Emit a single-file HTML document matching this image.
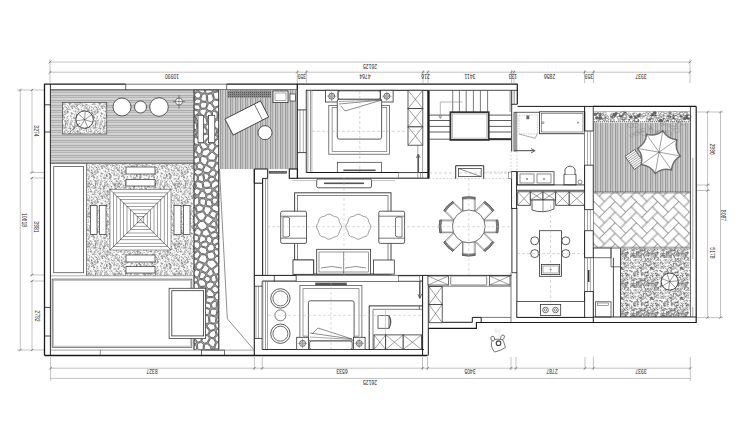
<!DOCTYPE html>
<html><head><meta charset="utf-8"><style>html,body{margin:0;padding:0;background:#fff;width:740px;height:444px;overflow:hidden}svg{display:block}</style></head><body><svg width="740" height="444" viewBox="0 0 740 444" font-family="Liberation Sans, sans-serif"><defs><pattern id="hl" width="4" height="5" patternUnits="userSpaceOnUse"><rect width="4" height="5" fill="#cbcbcb"/><rect y="0" width="4" height="0.8" fill="#a4a4a4"/><rect y="2.2" width="4" height="0.7" fill="#acacac"/><rect y="3.6" width="4" height="0.6" fill="#e4e4e4"/></pattern><pattern id="vl" width="5" height="4" patternUnits="userSpaceOnUse"><rect width="5" height="4" fill="#c2c2c2"/><rect x="0" width="0.9" height="4" fill="#949494"/><rect x="2.3" width="0.8" height="4" fill="#a0a0a0"/><rect x="3.8" width="0.6" height="4" fill="#e6e6e6"/></pattern><pattern id="vl2" width="2.5" height="4" patternUnits="userSpaceOnUse"><rect width="2.5" height="4" fill="#fff"/><rect x="0" width="0.8" height="4" fill="#8a8a8a"/></pattern><pattern id="gr" width="30" height="30" patternUnits="userSpaceOnUse"><rect width="30" height="30" fill="#fbfbfb"/><path d="M9.71,4.53 l-0.33,-0.45 l-0.21,-0.39" stroke="#606060" stroke-width="0.45" fill="none"/><path d="M10.97,1.74 l-0.53,-0.02 l-0.42,0.08" stroke="#606060" stroke-width="0.45" fill="none"/><path d="M2.10,2.72 l-1.03,0.53 l0.24,0.90" stroke="#606060" stroke-width="0.45" fill="none"/><path d="M6.70,18.82 l0.91,-0.31 l0.59,-0.50" stroke="#606060" stroke-width="0.45" fill="none"/><path d="M29.29,1.40 l0.46,-0.57 l-0.33,-0.48" stroke="#606060" stroke-width="0.45" fill="none"/><path d="M3.53,9.25 l0.26,-0.59 l0.33,-0.39" stroke="#606060" stroke-width="0.45" fill="none"/><path d="M19.17,11.17 l-0.53,-0.16 l-0.12,0.42" stroke="#606060" stroke-width="0.45" fill="none"/><path d="M6.18,20.41 l-0.67,0.33 l-0.59,0.09" stroke="#606060" stroke-width="0.45" fill="none"/><path d="M13.60,8.99 l0.29,-1.02 l-0.51,-0.68" stroke="#606060" stroke-width="0.45" fill="none"/><path d="M17.23,15.76 l0.76,-0.77 l0.02,-0.87" stroke="#606060" stroke-width="0.45" fill="none"/><path d="M29.41,3.54 l-0.96,0.55 l0.17,0.87" stroke="#606060" stroke-width="0.45" fill="none"/><path d="M14.67,1.18 l-0.55,-0.97 l-0.22,-0.86" stroke="#606060" stroke-width="0.45" fill="none"/><path d="M26.26,9.41 l-0.33,-0.92 l-0.05,-0.78" stroke="#606060" stroke-width="0.45" fill="none"/><path d="M13.69,25.20 l0.83,-0.30 l0.68,0.17" stroke="#606060" stroke-width="0.45" fill="none"/><path d="M1.82,21.04 l-0.78,-1.03 l0.51,-0.90" stroke="#606060" stroke-width="0.45" fill="none"/><path d="M8.54,11.57 l-0.25,-0.45 l-0.25,-0.33" stroke="#606060" stroke-width="0.45" fill="none"/><path d="M5.04,3.51 l1.04,0.40 l0.51,-0.73" stroke="#606060" stroke-width="0.45" fill="none"/><path d="M7.43,11.73 l0.39,-0.41 l0.25,-0.38" stroke="#606060" stroke-width="0.45" fill="none"/><path d="M16.48,26.50 l0.50,-1.08 l-0.34,-0.89" stroke="#606060" stroke-width="0.45" fill="none"/><path d="M12.46,10.76 l0.94,-0.84 l-0.41,-0.93" stroke="#606060" stroke-width="0.45" fill="none"/><path d="M5.29,6.96 l0.09,0.88 l-0.15,0.69" stroke="#606060" stroke-width="0.45" fill="none"/><path d="M7.88,0.12 l-0.69,0.39 l-0.61,0.17" stroke="#606060" stroke-width="0.45" fill="none"/><path d="M28.59,20.71 l-0.99,-0.09 l-0.59,-0.53" stroke="#606060" stroke-width="0.45" fill="none"/><path d="M1.62,26.99 l0.22,-1.18 l0.91,-0.30" stroke="#606060" stroke-width="0.45" fill="none"/><path d="M11.77,11.97 l0.80,0.61 l0.48,-0.64" stroke="#606060" stroke-width="0.45" fill="none"/><path d="M2.02,6.26 l0.40,0.66 l0.51,-0.34" stroke="#606060" stroke-width="0.45" fill="none"/><path d="M0.01,4.54 l0.64,0.47 l0.30,-0.56" stroke="#606060" stroke-width="0.45" fill="none"/><path d="M26.23,18.42 l0.42,0.56 l0.52,0.21" stroke="#606060" stroke-width="0.45" fill="none"/><path d="M10.92,3.69 l0.75,-1.05 l0.49,-0.91" stroke="#606060" stroke-width="0.45" fill="none"/><path d="M14.52,2.58 l0.62,0.46 l0.61,-0.13" stroke="#606060" stroke-width="0.45" fill="none"/><path d="M24.87,4.84 l1.25,0.18 l0.98,0.25" stroke="#606060" stroke-width="0.45" fill="none"/><path d="M4.40,16.30 l0.91,0.16 l-0.23,0.70" stroke="#606060" stroke-width="0.45" fill="none"/><path d="M25.90,20.89 l-0.05,0.79 l0.57,0.27" stroke="#606060" stroke-width="0.45" fill="none"/><path d="M23.16,15.98 l0.14,-0.75 l-0.45,-0.42" stroke="#606060" stroke-width="0.45" fill="none"/><path d="M24.35,29.55 l0.69,-0.92 l0.89,0.20" stroke="#606060" stroke-width="0.45" fill="none"/><path d="M22.20,6.80 l-0.78,-0.09 l0.01,0.63" stroke="#606060" stroke-width="0.45" fill="none"/><path d="M0.84,8.38 l-0.06,1.05 l-0.84,-0.11" stroke="#606060" stroke-width="0.45" fill="none"/><path d="M13.42,28.11 l1.26,-0.10 l0.85,-0.54" stroke="#606060" stroke-width="0.45" fill="none"/><path d="M6.61,6.81 l0.22,0.63 l-0.06,0.53" stroke="#606060" stroke-width="0.45" fill="none"/><path d="M27.01,25.21 l-1.01,0.13 l-0.48,-0.66" stroke="#606060" stroke-width="0.45" fill="none"/><path d="M2.54,19.82 l0.95,-0.61 l0.85,0.29" stroke="#606060" stroke-width="0.45" fill="none"/><path d="M14.34,5.36 l0.18,-0.74 l0.59,-0.15" stroke="#606060" stroke-width="0.45" fill="none"/><path d="M29.15,11.88 l-1.02,0.73 l-0.99,-0.19" stroke="#606060" stroke-width="0.45" fill="none"/><path d="M5.10,3.81 l0.71,0.99 l-0.45,0.87" stroke="#606060" stroke-width="0.45" fill="none"/><path d="M4.39,24.80 l1.02,-0.13 l0.65,-0.51" stroke="#606060" stroke-width="0.45" fill="none"/><path d="M16.46,3.93 l1.27,0.11 l0.83,0.60" stroke="#606060" stroke-width="0.45" fill="none"/><path d="M15.80,28.01 l-1.09,0.49 l-0.70,-0.66" stroke="#606060" stroke-width="0.45" fill="none"/><path d="M6.33,7.56 l-0.18,0.67 l-0.30,0.46" stroke="#606060" stroke-width="0.45" fill="none"/><path d="M7.78,12.57 l0.83,0.90 l0.94,0.29" stroke="#606060" stroke-width="0.45" fill="none"/><path d="M13.74,17.50 l0.69,-0.48 l0.42,0.52" stroke="#606060" stroke-width="0.45" fill="none"/><path d="M15.05,15.95 l-0.51,-0.07 l-0.41,0.03" stroke="#606060" stroke-width="0.45" fill="none"/><path d="M5.49,0.12 l0.19,-0.61 l0.11,-0.50" stroke="#606060" stroke-width="0.45" fill="none"/><path d="M21.76,16.69 l-0.42,0.81 l-0.46,0.57" stroke="#606060" stroke-width="0.45" fill="none"/><path d="M23.53,3.18 l-0.65,-0.26 l-0.51,0.23" stroke="#606060" stroke-width="0.45" fill="none"/><path d="M23.17,15.23 l-1.03,-0.42 l0.26,-0.85" stroke="#606060" stroke-width="0.45" fill="none"/><path d="M13.30,18.38 l-0.91,-0.03 l-0.54,-0.48" stroke="#606060" stroke-width="0.45" fill="none"/><path d="M13.57,16.00 l-1.24,0.17 l-0.84,-0.55" stroke="#606060" stroke-width="0.45" fill="none"/><path d="M26.30,28.27 l-0.06,0.95 l-0.76,-0.06" stroke="#606060" stroke-width="0.45" fill="none"/><path d="M25.20,4.11 l0.62,0.59 l0.49,-0.48" stroke="#606060" stroke-width="0.45" fill="none"/><path d="M7.22,2.19 l-0.55,-0.98 l0.72,-0.55" stroke="#606060" stroke-width="0.45" fill="none"/><path d="M4.63,21.48 l-0.33,-0.52 l0.36,-0.34" stroke="#606060" stroke-width="0.45" fill="none"/><path d="M29.03,6.59 l0.78,-0.24 l0.62,-0.22" stroke="#606060" stroke-width="0.45" fill="none"/><path d="M29.70,24.97 l0.45,0.72 l0.32,0.59" stroke="#606060" stroke-width="0.45" fill="none"/><path d="M10.17,5.87 l-0.45,0.98 l0.83,0.23" stroke="#606060" stroke-width="0.45" fill="none"/><path d="M16.62,13.21 l0.76,0.09 l0.52,0.33" stroke="#606060" stroke-width="0.45" fill="none"/><path d="M15.37,1.93 l1.13,-0.11 l-0.03,0.90" stroke="#606060" stroke-width="0.45" fill="none"/><path d="M3.14,7.97 l1.09,0.28 l0.75,-0.49" stroke="#606060" stroke-width="0.45" fill="none"/><path d="M3.89,12.67 l0.98,-0.61 l0.13,-0.91" stroke="#606060" stroke-width="0.45" fill="none"/><path d="M4.48,27.58 l-0.96,-0.45 l-0.43,0.73" stroke="#606060" stroke-width="0.45" fill="none"/><path d="M1.73,20.65 l-0.50,0.25 l-0.20,-0.40" stroke="#606060" stroke-width="0.45" fill="none"/><path d="M19.03,24.05 l1.02,0.59 l0.48,-0.81" stroke="#606060" stroke-width="0.45" fill="none"/><path d="M25.88,13.61 l-0.50,0.80 l-0.65,-0.38" stroke="#606060" stroke-width="0.45" fill="none"/><path d="M8.04,3.88 l-0.68,-0.12 l-0.18,0.52" stroke="#606060" stroke-width="0.45" fill="none"/><path d="M4.84,1.51 l0.22,0.72 l0.51,0.32" stroke="#606060" stroke-width="0.45" fill="none"/><path d="M22.78,8.70 l-0.64,0.00 l-0.44,0.27" stroke="#606060" stroke-width="0.45" fill="none"/><path d="M0.54,7.51 l1.08,0.10 l0.84,0.24" stroke="#606060" stroke-width="0.45" fill="none"/><path d="M5.68,14.24 l0.54,-0.24 l0.35,0.31" stroke="#606060" stroke-width="0.45" fill="none"/><path d="M12.97,14.85 l0.41,-0.70 l0.34,-0.55" stroke="#606060" stroke-width="0.45" fill="none"/><path d="M20.63,29.47 l-0.64,0.97 l-0.90,0.23" stroke="#606060" stroke-width="0.45" fill="none"/><path d="M19.08,12.14 l-0.31,0.44 l0.29,0.33" stroke="#606060" stroke-width="0.45" fill="none"/><path d="M2.12,22.23 l-0.02,0.63 l0.50,0.06" stroke="#606060" stroke-width="0.45" fill="none"/><path d="M25.24,26.12 l-0.35,-0.64 l-0.57,-0.08" stroke="#606060" stroke-width="0.45" fill="none"/><path d="M8.79,13.78 l0.47,0.72 l0.68,0.09" stroke="#606060" stroke-width="0.45" fill="none"/><path d="M28.85,29.18 l-0.67,-0.20 l0.22,-0.51" stroke="#606060" stroke-width="0.45" fill="none"/><path d="M9.29,10.70 l0.81,0.01 l0.64,-0.05" stroke="#606060" stroke-width="0.45" fill="none"/><path d="M15.08,6.03 l-0.50,-0.01 l-0.27,0.30" stroke="#606060" stroke-width="0.45" fill="none"/><path d="M2.69,11.99 l0.50,0.13 l0.37,-0.18" stroke="#606060" stroke-width="0.45" fill="none"/><path d="M6.98,17.57 l-1.08,-0.20 l-0.64,-0.60" stroke="#606060" stroke-width="0.45" fill="none"/><path d="M21.48,26.37 l-0.58,0.49 l-0.30,-0.53" stroke="#606060" stroke-width="0.45" fill="none"/><path d="M4.48,21.72 l-0.33,-0.42 l0.22,-0.37" stroke="#606060" stroke-width="0.45" fill="none"/><path d="M26.76,18.82 l-0.12,-1.14 l-0.91,-0.15" stroke="#606060" stroke-width="0.45" fill="none"/><path d="M15.71,15.13 l0.58,-0.99 l0.91,0.12" stroke="#606060" stroke-width="0.45" fill="none"/><path d="M17.52,26.78 l-0.43,-0.96 l-0.83,-0.15" stroke="#606060" stroke-width="0.45" fill="none"/><path d="M0.93,3.99 l-0.37,0.45 l-0.44,-0.15" stroke="#606060" stroke-width="0.45" fill="none"/><path d="M16.76,18.83 l-0.73,-0.74 l-0.61,-0.57" stroke="#606060" stroke-width="0.45" fill="none"/><path d="M0.10,23.93 l-0.01,-0.90 l0.08,-0.72" stroke="#606060" stroke-width="0.45" fill="none"/><path d="M19.78,1.98 l-0.06,-0.70 l-0.56,0.03" stroke="#606060" stroke-width="0.45" fill="none"/><path d="M7.97,21.88 l0.30,1.05 l-0.86,0.12" stroke="#606060" stroke-width="0.45" fill="none"/><path d="M14.82,11.48 l-1.04,0.14 l-0.57,-0.62" stroke="#606060" stroke-width="0.45" fill="none"/><path d="M18.51,19.28 l0.55,0.29 l0.46,-0.19" stroke="#606060" stroke-width="0.45" fill="none"/><path d="M22.30,9.13 l-0.46,-0.21 l-0.16,0.37" stroke="#606060" stroke-width="0.45" fill="none"/><path d="M8.06,20.16 l-0.37,-0.97 l-0.75,-0.36" stroke="#606060" stroke-width="0.45" fill="none"/><path d="M15.50,13.94 l-0.58,0.13 l-0.17,-0.44" stroke="#606060" stroke-width="0.45" fill="none"/><path d="M5.98,29.34 l0.47,-0.20 l0.35,-0.22" stroke="#606060" stroke-width="0.45" fill="none"/><path d="M24.60,29.04 l-0.68,0.22 l-0.12,0.56" stroke="#606060" stroke-width="0.45" fill="none"/><path d="M28.37,6.32 l-0.54,-0.30 l-0.41,-0.28" stroke="#606060" stroke-width="0.45" fill="none"/><path d="M28.58,3.98 l0.39,-0.82 l0.70,0.19" stroke="#606060" stroke-width="0.45" fill="none"/><path d="M21.10,6.94 l0.71,-0.53 l-0.50,-0.50" stroke="#606060" stroke-width="0.45" fill="none"/><path d="M0.11,14.75 l-0.71,0.23 l0.02,0.59" stroke="#606060" stroke-width="0.45" fill="none"/><path d="M10.32,9.48 l0.27,-0.42 l0.40,-0.04" stroke="#606060" stroke-width="0.45" fill="none"/><path d="M25.17,3.60 l0.96,-0.48 l0.48,0.71" stroke="#606060" stroke-width="0.45" fill="none"/><path d="M8.69,11.17 l-1.01,0.81 l-0.98,0.36" stroke="#606060" stroke-width="0.45" fill="none"/><path d="M10.82,12.84 l-0.08,0.53 l0.41,0.12" stroke="#606060" stroke-width="0.45" fill="none"/><path d="M25.04,8.57 l0.64,-0.28 l0.18,-0.53" stroke="#606060" stroke-width="0.45" fill="none"/><path d="M15.33,5.70 l-0.88,0.90 l-0.84,-0.56" stroke="#606060" stroke-width="0.45" fill="none"/><path d="M24.36,18.93 l1.07,-0.65 l0.93,-0.36" stroke="#606060" stroke-width="0.45" fill="none"/><path d="M21.59,1.48 l-0.10,-0.86 l0.49,-0.48" stroke="#606060" stroke-width="0.45" fill="none"/><path d="M19.33,8.59 l1.18,0.38 l0.51,-0.85" stroke="#606060" stroke-width="0.45" fill="none"/><path d="M14.17,10.31 l-0.32,1.04 l-0.79,-0.37" stroke="#606060" stroke-width="0.45" fill="none"/><path d="M7.81,19.68 l-0.30,0.90 l0.05,0.76" stroke="#606060" stroke-width="0.45" fill="none"/><path d="M5.02,4.85 l0.32,1.18 l0.27,0.94" stroke="#606060" stroke-width="0.45" fill="none"/><path d="M6.60,27.19 l0.86,-0.02 l0.17,-0.67" stroke="#606060" stroke-width="0.45" fill="none"/><path d="M5.77,2.72 l-0.31,0.48 l0.16,0.43" stroke="#606060" stroke-width="0.45" fill="none"/><path d="M7.75,17.09 l0.83,-0.72 l0.46,-0.75" stroke="#606060" stroke-width="0.45" fill="none"/><path d="M12.42,15.73 l-0.55,0.54 l0.43,0.44" stroke="#606060" stroke-width="0.45" fill="none"/><path d="M8.33,29.03 l0.64,0.64 l0.22,0.69" stroke="#606060" stroke-width="0.45" fill="none"/><path d="M25.89,6.48 l-0.09,0.69 l0.13,0.54" stroke="#606060" stroke-width="0.45" fill="none"/><path d="M13.38,28.62 l0.69,-0.98 l-0.86,-0.43" stroke="#606060" stroke-width="0.45" fill="none"/><path d="M0.97,21.29 l0.70,-0.54 l0.66,-0.24" stroke="#606060" stroke-width="0.45" fill="none"/><path d="M0.01,11.75 l1.04,-0.52 l0.64,0.68" stroke="#606060" stroke-width="0.45" fill="none"/><path d="M29.17,7.45 l0.48,0.39 l0.36,0.35" stroke="#606060" stroke-width="0.45" fill="none"/><path d="M20.46,28.24 l-0.18,-1.00 l0.57,-0.58" stroke="#606060" stroke-width="0.45" fill="none"/><path d="M13.72,16.55 l1.09,0.28 l0.68,-0.59" stroke="#606060" stroke-width="0.45" fill="none"/><path d="M27.60,19.37 l-0.20,0.57 l0.25,0.41" stroke="#606060" stroke-width="0.45" fill="none"/><path d="M19.09,20.96 l0.42,0.36 l0.31,0.32" stroke="#606060" stroke-width="0.45" fill="none"/><path d="M17.49,11.64 l0.16,0.97 l0.73,-0.28" stroke="#606060" stroke-width="0.45" fill="none"/><path d="M9.05,13.82 l0.98,-0.26 l0.35,0.73" stroke="#606060" stroke-width="0.45" fill="none"/><path d="M14.26,7.04 l0.02,1.27 l-0.67,0.76" stroke="#606060" stroke-width="0.45" fill="none"/><path d="M9.22,0.65 l-1.04,0.01 l-0.79,0.25" stroke="#606060" stroke-width="0.45" fill="none"/><path d="M7.72,20.02 l0.61,-0.31 l-0.30,-0.46" stroke="#606060" stroke-width="0.45" fill="none"/><path d="M10.14,12.62 l-0.27,-0.60 l0.32,-0.42" stroke="#606060" stroke-width="0.45" fill="none"/><path d="M22.17,15.15 l0.36,1.23 l0.84,0.59" stroke="#606060" stroke-width="0.45" fill="none"/><path d="M24.60,6.92 l0.20,1.09 l0.70,0.54" stroke="#606060" stroke-width="0.45" fill="none"/><path d="M28.56,14.87 l0.26,0.63 l0.35,0.42" stroke="#606060" stroke-width="0.45" fill="none"/><path d="M19.96,28.46 l0.49,0.65 l0.65,-0.07" stroke="#606060" stroke-width="0.45" fill="none"/><path d="M29.22,4.26 l0.52,0.18 l0.44,-0.03" stroke="#606060" stroke-width="0.45" fill="none"/><path d="M26.95,26.51 l-0.14,-1.29 l1.03,-0.13" stroke="#606060" stroke-width="0.45" fill="none"/><path d="M9.88,5.57 l1.01,-0.43 l-0.44,-0.76" stroke="#606060" stroke-width="0.45" fill="none"/><path d="M19.93,11.36 l-0.54,0.55 l0.25,0.56" stroke="#606060" stroke-width="0.45" fill="none"/><path d="M0.09,8.39 l-0.75,1.02 l0.67,0.76" stroke="#606060" stroke-width="0.45" fill="none"/><path d="M28.93,6.22 l-0.72,0.91 l-0.90,-0.24" stroke="#606060" stroke-width="0.45" fill="none"/><path d="M12.97,1.48 l-0.79,0.13 l-0.14,-0.62" stroke="#606060" stroke-width="0.45" fill="none"/><path d="M5.79,10.93 l0.42,-0.32 l0.24,-0.35" stroke="#606060" stroke-width="0.45" fill="none"/><path d="M24.35,23.00 l0.51,0.13 l0.11,-0.41" stroke="#606060" stroke-width="0.45" fill="none"/><path d="M27.60,7.71 l-0.02,-1.22 l-0.55,-0.81" stroke="#606060" stroke-width="0.45" fill="none"/><path d="M8.17,28.73 l-0.53,-0.47 l-0.03,-0.57" stroke="#606060" stroke-width="0.45" fill="none"/><path d="M9.49,8.27 l1.10,0.03 l0.04,0.88" stroke="#606060" stroke-width="0.45" fill="none"/><path d="M19.02,28.30 l0.68,0.10 l0.55,0.03" stroke="#606060" stroke-width="0.45" fill="none"/><path d="M28.70,28.62 l-0.53,0.46 l-0.32,0.46" stroke="#606060" stroke-width="0.45" fill="none"/><path d="M14.80,27.84 l0.47,1.04 l-0.39,0.83" stroke="#606060" stroke-width="0.45" fill="none"/><path d="M24.68,23.18 l-0.60,-0.47 l-0.61,-0.01" stroke="#606060" stroke-width="0.45" fill="none"/><path d="M10.86,23.47 l0.58,0.31 l0.09,0.52" stroke="#606060" stroke-width="0.45" fill="none"/><path d="M7.42,1.94 l0.92,0.20 l0.69,-0.30" stroke="#606060" stroke-width="0.45" fill="none"/><path d="M29.41,26.50 l0.71,-0.06 l-0.00,-0.57" stroke="#606060" stroke-width="0.45" fill="none"/><path d="M2.89,14.95 l-0.22,-0.83 l-0.64,-0.24" stroke="#606060" stroke-width="0.45" fill="none"/><path d="M12.51,18.61 l-0.51,-0.97 l0.61,-0.63" stroke="#606060" stroke-width="0.45" fill="none"/><path d="M19.93,3.63 l0.40,-0.62 l0.43,-0.41" stroke="#606060" stroke-width="0.45" fill="none"/><path d="M11.19,22.14 l0.22,0.66 l0.53,0.18" stroke="#606060" stroke-width="0.45" fill="none"/><path d="M4.60,26.53 l-0.67,-0.36 l-0.60,-0.07" stroke="#606060" stroke-width="0.45" fill="none"/><path d="M29.77,15.22 l0.13,1.14 l-0.39,0.83" stroke="#606060" stroke-width="0.45" fill="none"/><path d="M29.73,3.07 l-1.14,0.18 l-0.45,-0.81" stroke="#606060" stroke-width="0.45" fill="none"/><path d="M27.43,1.21 l-0.16,0.57 l0.36,0.32" stroke="#606060" stroke-width="0.45" fill="none"/><path d="M29.19,17.50 l0.72,-0.34 l0.41,0.49" stroke="#606060" stroke-width="0.45" fill="none"/><path d="M13.47,7.80 l0.22,-1.24 l-0.95,-0.32" stroke="#606060" stroke-width="0.45" fill="none"/><path d="M17.88,18.60 l0.16,0.78 l0.63,0.05" stroke="#606060" stroke-width="0.45" fill="none"/><path d="M6.12,7.65 l-0.83,-0.60 l-0.74,0.35" stroke="#606060" stroke-width="0.45" fill="none"/><path d="M0.34,9.82 l-0.28,-0.58 l-0.47,-0.22" stroke="#606060" stroke-width="0.45" fill="none"/><path d="M6.10,23.86 l-0.53,-0.16 l-0.19,0.40" stroke="#606060" stroke-width="0.45" fill="none"/><path d="M11.86,16.50 l-0.37,-0.44 l-0.43,0.15" stroke="#606060" stroke-width="0.45" fill="none"/><path d="M20.86,12.29 l-0.15,0.73 l-0.58,-0.16" stroke="#606060" stroke-width="0.45" fill="none"/><path d="M9.37,17.00 l-0.52,0.65 l-0.61,-0.27" stroke="#606060" stroke-width="0.45" fill="none"/><path d="M29.90,10.91 l0.35,1.02 l0.85,0.15" stroke="#606060" stroke-width="0.45" fill="none"/><path d="M0.18,27.05 l-1.03,0.53 l-0.63,0.68" stroke="#606060" stroke-width="0.45" fill="none"/><path d="M26.49,13.83 l0.27,0.44 l0.15,0.38" stroke="#606060" stroke-width="0.45" fill="none"/><path d="M19.22,27.29 l0.85,0.53 l0.79,0.08" stroke="#606060" stroke-width="0.45" fill="none"/><path d="M15.13,4.38 l-0.19,0.90 l-0.72,-0.12" stroke="#606060" stroke-width="0.45" fill="none"/><path d="M3.26,14.72 l0.43,-1.20 l-0.69,-0.75" stroke="#606060" stroke-width="0.45" fill="none"/><path d="M3.80,28.29 l0.88,-0.14 l-0.14,-0.70" stroke="#606060" stroke-width="0.45" fill="none"/><path d="M27.79,11.64 l0.82,-0.57 l0.67,0.43" stroke="#606060" stroke-width="0.45" fill="none"/><path d="M4.81,23.57 l0.14,0.81 l-0.58,0.32" stroke="#606060" stroke-width="0.45" fill="none"/><path d="M24.88,5.49 l0.16,0.80 l0.09,0.65" stroke="#606060" stroke-width="0.45" fill="none"/><path d="M11.51,3.69 l0.02,1.08 l-0.85,0.14" stroke="#606060" stroke-width="0.45" fill="none"/><path d="M1.23,16.87 l0.02,-0.53 l0.40,-0.13" stroke="#606060" stroke-width="0.45" fill="none"/><path d="M3.53,17.99 l-0.95,-0.31 l-0.74,0.30" stroke="#606060" stroke-width="0.45" fill="none"/><path d="M12.60,17.48 l-0.92,0.46 l-0.65,0.50" stroke="#606060" stroke-width="0.45" fill="none"/><path d="M13.15,0.70 l-0.66,-0.60 l-0.70,0.15" stroke="#606060" stroke-width="0.45" fill="none"/><path d="M22.91,23.40 l-0.62,0.17 l-0.48,0.18" stroke="#606060" stroke-width="0.45" fill="none"/><path d="M3.21,3.85 l-0.52,0.24 l-0.37,0.28" stroke="#606060" stroke-width="0.45" fill="none"/><path d="M15.30,1.22 l-0.37,-0.43 l0.06,-0.45" stroke="#606060" stroke-width="0.45" fill="none"/><path d="M23.33,15.34 l0.85,0.30 l0.72,-0.07" stroke="#606060" stroke-width="0.45" fill="none"/><path d="M28.53,4.09 l0.81,-1.02 l1.04,-0.07" stroke="#606060" stroke-width="0.45" fill="none"/><path d="M24.45,5.81 l0.89,-0.11 l0.03,0.71" stroke="#606060" stroke-width="0.45" fill="none"/><path d="M27.48,4.95 l0.29,-1.21 l-0.97,-0.24" stroke="#606060" stroke-width="0.45" fill="none"/><path d="M10.53,22.69 l0.66,1.02 l0.96,0.18" stroke="#606060" stroke-width="0.45" fill="none"/><path d="M24.47,4.31 l-1.24,-0.02 l-0.50,0.85" stroke="#606060" stroke-width="0.45" fill="none"/><path d="M7.89,15.18 l-0.22,0.48 l0.28,0.32" stroke="#606060" stroke-width="0.45" fill="none"/><path d="M4.84,28.09 l-0.52,-1.10 l-0.97,0.06" stroke="#606060" stroke-width="0.45" fill="none"/><path d="M23.55,3.45 l-0.99,-0.19 l-0.77,0.25" stroke="#606060" stroke-width="0.45" fill="none"/><path d="M26.19,16.66 l-1.06,-0.58 l-0.58,0.77" stroke="#606060" stroke-width="0.45" fill="none"/><path d="M29.79,18.89 l-0.90,0.70 l-0.05,0.91" stroke="#606060" stroke-width="0.45" fill="none"/><path d="M29.71,17.32 l-0.71,0.86 l-0.41,0.79" stroke="#606060" stroke-width="0.45" fill="none"/><path d="M5.30,22.31 l1.10,0.35 l0.77,-0.51" stroke="#606060" stroke-width="0.45" fill="none"/><path d="M19.18,29.52 l-0.89,-0.53 l-0.82,0.11" stroke="#606060" stroke-width="0.45" fill="none"/><path d="M0.05,1.01 l0.59,0.80 l0.61,0.51" stroke="#606060" stroke-width="0.45" fill="none"/><path d="M15.38,26.87 l0.46,0.50 l0.10,0.54" stroke="#606060" stroke-width="0.45" fill="none"/><path d="M0.67,0.08 l-0.36,0.46 l-0.07,0.46" stroke="#606060" stroke-width="0.45" fill="none"/><path d="M6.73,17.51 l-0.56,-0.35 l-0.28,-0.45" stroke="#606060" stroke-width="0.45" fill="none"/><path d="M14.25,4.04 l0.64,-0.27 l-0.05,-0.55" stroke="#606060" stroke-width="0.45" fill="none"/><path d="M2.87,19.15 l0.77,-0.82 l0.36,-0.83" stroke="#606060" stroke-width="0.45" fill="none"/><path d="M7.93,0.34 l-0.58,-0.75 l-0.71,-0.27" stroke="#606060" stroke-width="0.45" fill="none"/><path d="M19.37,13.31 l1.00,-0.42 l0.23,-0.84" stroke="#606060" stroke-width="0.45" fill="none"/><path d="M27.11,1.32 l-0.81,-0.16 l-0.48,0.45" stroke="#606060" stroke-width="0.45" fill="none"/><path d="M1.75,23.37 l0.94,0.07 l-0.07,0.75" stroke="#606060" stroke-width="0.45" fill="none"/><path d="M4.27,5.99 l-0.71,-0.57 l-0.27,-0.67" stroke="#606060" stroke-width="0.45" fill="none"/><path d="M24.40,5.24 l-0.27,0.69 l0.56,0.18" stroke="#606060" stroke-width="0.45" fill="none"/><path d="M26.68,23.49 l-0.11,-0.49 l0.34,-0.21" stroke="#606060" stroke-width="0.45" fill="none"/><path d="M22.36,13.96 l-0.05,-0.86 l-0.59,-0.35" stroke="#606060" stroke-width="0.45" fill="none"/><path d="M3.16,6.97 l0.75,0.19 l0.26,0.56" stroke="#606060" stroke-width="0.45" fill="none"/><path d="M20.85,25.36 l-0.17,-0.69 l-0.03,-0.57" stroke="#606060" stroke-width="0.45" fill="none"/><path d="M13.08,23.65 l-0.70,-0.10 l-0.45,-0.35" stroke="#606060" stroke-width="0.45" fill="none"/><path d="M28.95,6.51 l0.37,-0.35 l-0.02,-0.41" stroke="#606060" stroke-width="0.45" fill="none"/><path d="M7.08,22.32 l1.03,-0.38 l0.49,-0.73" stroke="#606060" stroke-width="0.45" fill="none"/><path d="M26.40,9.86 l0.08,1.22 l-0.38,0.90" stroke="#606060" stroke-width="0.45" fill="none"/><path d="M20.79,19.96 l0.87,-0.12 l0.33,0.62" stroke="#606060" stroke-width="0.45" fill="none"/><path d="M20.93,25.73 l-1.00,0.42 l-0.85,0.12" stroke="#606060" stroke-width="0.45" fill="none"/><path d="M9.23,6.36 l-0.40,-0.39 l0.28,-0.35" stroke="#606060" stroke-width="0.45" fill="none"/><path d="M4.34,0.81 l0.97,0.77 l0.99,0.11" stroke="#606060" stroke-width="0.45" fill="none"/><path d="M4.26,0.86 l1.02,0.27 l0.62,0.57" stroke="#606060" stroke-width="0.45" fill="none"/><path d="M20.91,22.10 l0.89,0.39 l0.78,-0.06" stroke="#606060" stroke-width="0.45" fill="none"/><path d="M24.53,24.59 l0.43,-0.35 l0.36,0.26" stroke="#606060" stroke-width="0.45" fill="none"/><path d="M27.43,28.33 l0.52,0.41 l0.40,-0.35" stroke="#606060" stroke-width="0.45" fill="none"/><path d="M1.03,25.43 l0.38,-0.93 l0.81,-0.01" stroke="#606060" stroke-width="0.45" fill="none"/><path d="M18.95,8.62 l0.47,0.34 l0.01,0.46" stroke="#606060" stroke-width="0.45" fill="none"/><path d="M6.15,9.57 l-0.46,0.24 l-0.09,0.40" stroke="#606060" stroke-width="0.45" fill="none"/><path d="M8.48,21.47 l-0.51,0.56 l-0.40,-0.45" stroke="#606060" stroke-width="0.45" fill="none"/><path d="M15.11,25.54 l-0.39,-0.35 l-0.38,-0.17" stroke="#606060" stroke-width="0.45" fill="none"/><path d="M13.09,23.19 l-0.61,0.87 l-0.58,0.63" stroke="#606060" stroke-width="0.45" fill="none"/><path d="M6.50,25.87 l0.97,0.62 l0.75,-0.53" stroke="#606060" stroke-width="0.45" fill="none"/><path d="M0.04,6.06 l0.09,-1.28 l-1.02,0.14" stroke="#606060" stroke-width="0.45" fill="none"/><path d="M14.72,14.74 l0.19,-0.62 l0.14,-0.50" stroke="#606060" stroke-width="0.45" fill="none"/><path d="M10.42,24.96 l-0.08,1.25 l0.66,0.76" stroke="#606060" stroke-width="0.45" fill="none"/><path d="M6.44,20.98 l-0.59,0.01 l-0.42,-0.22" stroke="#606060" stroke-width="0.45" fill="none"/><path d="M2.43,23.64 l-0.37,-1.07 l0.11,-0.90" stroke="#606060" stroke-width="0.45" fill="none"/><path d="M10.67,12.04 l-0.96,0.75 l0.53,0.81" stroke="#606060" stroke-width="0.45" fill="none"/><path d="M26.65,0.76 l0.19,0.68 l-0.52,0.22" stroke="#606060" stroke-width="0.45" fill="none"/><path d="M15.04,11.38 l0.51,-0.46 l0.35,-0.42" stroke="#606060" stroke-width="0.45" fill="none"/><path d="M15.95,22.63 l0.02,-1.02 l-0.41,-0.70" stroke="#606060" stroke-width="0.45" fill="none"/><path d="M9.80,4.66 l0.57,-0.86 l0.82,-0.10" stroke="#606060" stroke-width="0.45" fill="none"/><path d="M5.09,13.16 l0.14,-0.95 l-0.72,-0.28" stroke="#606060" stroke-width="0.45" fill="none"/><path d="M13.86,26.55 l0.05,0.65 l0.37,0.37" stroke="#606060" stroke-width="0.45" fill="none"/><path d="M21.09,25.31 l0.35,0.52 l0.50,0.03" stroke="#606060" stroke-width="0.45" fill="none"/><path d="M9.80,15.67 l0.41,0.65 l0.61,-0.07" stroke="#606060" stroke-width="0.45" fill="none"/><path d="M29.25,21.86 l1.02,0.76 l0.71,-0.73" stroke="#606060" stroke-width="0.45" fill="none"/><path d="M11.53,29.51 l0.30,-1.04 l0.04,-0.87" stroke="#606060" stroke-width="0.45" fill="none"/><path d="M5.89,19.14 l0.52,0.41 l0.51,0.14" stroke="#606060" stroke-width="0.45" fill="none"/><path d="M1.02,11.97 l0.27,-1.02 l0.21,-0.82" stroke="#606060" stroke-width="0.45" fill="none"/><path d="M18.97,13.90 l0.62,0.76 l0.67,0.41" stroke="#606060" stroke-width="0.45" fill="none"/><path d="M22.23,27.24 l-0.87,0.41 l-0.69,-0.34" stroke="#606060" stroke-width="0.45" fill="none"/><path d="M12.63,6.86 l-0.21,-1.19 l0.70,-0.66" stroke="#606060" stroke-width="0.45" fill="none"/><path d="M21.00,25.57 l-0.44,-0.91 l-0.46,-0.66" stroke="#606060" stroke-width="0.45" fill="none"/><path d="M9.39,18.85 l0.68,0.48 l-0.04,0.67" stroke="#606060" stroke-width="0.45" fill="none"/><path d="M21.39,18.89 l0.00,0.84 l0.11,0.66" stroke="#606060" stroke-width="0.45" fill="none"/><path d="M18.65,12.28 l-0.57,-1.11 l-0.99,0.04" stroke="#606060" stroke-width="0.45" fill="none"/><path d="M19.63,23.35 l-0.68,0.57 l-0.38,-0.60" stroke="#606060" stroke-width="0.45" fill="none"/><path d="M1.14,16.30 l0.60,0.95 l-0.77,0.47" stroke="#606060" stroke-width="0.45" fill="none"/><path d="M15.58,3.03 l-0.83,-0.42 l-0.24,-0.71" stroke="#606060" stroke-width="0.45" fill="none"/><path d="M15.37,19.18 l0.43,-0.81 l0.12,-0.72" stroke="#606060" stroke-width="0.45" fill="none"/><path d="M28.44,6.30 l-0.33,-0.75 l0.33,-0.56" stroke="#606060" stroke-width="0.45" fill="none"/><path d="M3.67,29.53 l-0.34,0.43 l0.07,0.43" stroke="#606060" stroke-width="0.45" fill="none"/><path d="M11.99,0.40 l-0.73,0.41 l-0.66,-0.13" stroke="#606060" stroke-width="0.45" fill="none"/><path d="M10.56,7.95 l0.18,1.08 l-0.86,0.13" stroke="#606060" stroke-width="0.45" fill="none"/><path d="M15.81,6.57 l0.26,-0.77 l-0.43,-0.49" stroke="#606060" stroke-width="0.45" fill="none"/><path d="M3.88,23.30 l0.37,-0.94 l0.21,-0.78" stroke="#606060" stroke-width="0.45" fill="none"/><path d="M16.86,6.78 l0.76,-0.18 l0.60,0.17" stroke="#606060" stroke-width="0.45" fill="none"/><path d="M24.56,24.49 l-0.72,0.15 l-0.59,0.02" stroke="#606060" stroke-width="0.45" fill="none"/><path d="M3.75,25.01 l-0.72,0.93 l0.17,0.93" stroke="#606060" stroke-width="0.45" fill="none"/><path d="M11.28,7.61 l-0.58,0.29 l0.33,0.40" stroke="#606060" stroke-width="0.45" fill="none"/><path d="M21.65,8.44 l0.02,0.74 l0.06,0.59" stroke="#606060" stroke-width="0.45" fill="none"/><path d="M12.85,19.12 l-0.43,-0.66 l0.52,-0.36" stroke="#606060" stroke-width="0.45" fill="none"/><path d="M25.63,1.71 l0.57,-1.08 l0.98,-0.06" stroke="#606060" stroke-width="0.45" fill="none"/><path d="M4.21,24.94 l-0.34,-0.38 l-0.25,0.33" stroke="#606060" stroke-width="0.45" fill="none"/><path d="M28.55,19.68 l0.00,0.58 l0.45,0.13" stroke="#606060" stroke-width="0.45" fill="none"/><path d="M7.01,23.29 l-0.35,0.51 l-0.44,-0.23" stroke="#606060" stroke-width="0.45" fill="none"/><path d="M23.75,5.04 l0.76,-0.63 l0.75,0.25" stroke="#606060" stroke-width="0.45" fill="none"/><path d="M20.05,26.82 l0.27,-1.14 l-0.71,-0.62" stroke="#606060" stroke-width="0.45" fill="none"/><path d="M20.78,15.92 l-0.05,-0.85 l0.66,-0.17" stroke="#606060" stroke-width="0.45" fill="none"/><path d="M16.65,7.93 l0.06,0.61 l0.06,0.49" stroke="#606060" stroke-width="0.45" fill="none"/><path d="M1.75,14.01 l0.55,0.70 l0.44,0.56" stroke="#606060" stroke-width="0.45" fill="none"/><path d="M16.19,25.89 l1.17,0.05 l0.94,-0.07" stroke="#606060" stroke-width="0.45" fill="none"/><path d="M16.88,19.96 l0.43,-0.68 l0.17,-0.62" stroke="#606060" stroke-width="0.45" fill="none"/><path d="M28.82,2.26 l-0.66,-0.76 l-0.54,0.60" stroke="#606060" stroke-width="0.45" fill="none"/><path d="M18.29,20.48 l0.69,-0.32 l0.16,0.59" stroke="#606060" stroke-width="0.45" fill="none"/><path d="M15.32,14.54 l0.42,-0.32 l0.42,0.06" stroke="#606060" stroke-width="0.45" fill="none"/><path d="M18.76,10.16 l0.51,-0.61 l0.36,-0.52" stroke="#606060" stroke-width="0.45" fill="none"/><path d="M15.77,23.12 l0.21,0.82 l0.34,0.59" stroke="#606060" stroke-width="0.45" fill="none"/><path d="M16.62,24.80 l-0.31,1.12 l0.07,0.93" stroke="#606060" stroke-width="0.45" fill="none"/><path d="M15.11,8.15 l-1.28,-0.05 l-0.85,-0.57" stroke="#606060" stroke-width="0.45" fill="none"/><path d="M23.76,9.93 l-0.30,0.67 l-0.40,0.44" stroke="#606060" stroke-width="0.45" fill="none"/><path d="M19.04,23.53 l1.04,0.27 l-0.06,0.86" stroke="#606060" stroke-width="0.45" fill="none"/><path d="M16.36,1.49 l-0.16,0.48 l0.29,0.28" stroke="#606060" stroke-width="0.45" fill="none"/><path d="M27.64,18.26 l-0.62,-0.95 l0.71,-0.57" stroke="#606060" stroke-width="0.45" fill="none"/><path d="M18.35,18.50 l-0.74,-0.75 l-0.35,-0.77" stroke="#606060" stroke-width="0.45" fill="none"/><path d="M20.43,6.38 l-0.43,-0.75 l0.28,-0.63" stroke="#606060" stroke-width="0.45" fill="none"/><path d="M3.04,5.44 l1.09,0.26 l-0.14,0.89" stroke="#606060" stroke-width="0.45" fill="none"/><path d="M19.67,11.07 l0.49,-1.02 l0.57,-0.70" stroke="#606060" stroke-width="0.45" fill="none"/><path d="M7.74,9.06 l-0.66,0.36 l-0.44,0.41" stroke="#606060" stroke-width="0.45" fill="none"/><path d="M19.25,28.02 l0.90,0.32 l0.19,-0.74" stroke="#606060" stroke-width="0.45" fill="none"/><path d="M3.57,24.31 l-1.10,-0.56 l-0.95,-0.27" stroke="#606060" stroke-width="0.45" fill="none"/><path d="M0.42,11.61 l-1.05,-0.68 l0.67,-0.74" stroke="#606060" stroke-width="0.45" fill="none"/><path d="M14.26,12.37 l0.81,0.61 l0.75,-0.31" stroke="#606060" stroke-width="0.45" fill="none"/><path d="M4.55,0.47 l1.05,0.03 l0.20,-0.81" stroke="#606060" stroke-width="0.45" fill="none"/><path d="M28.99,2.64 l0.41,-0.44 l-0.40,-0.27" stroke="#606060" stroke-width="0.45" fill="none"/><path d="M21.58,7.27 l-0.07,-0.65 l-0.51,0.08" stroke="#606060" stroke-width="0.45" fill="none"/><path d="M23.22,21.41 l0.66,-0.86 l-0.64,-0.58" stroke="#606060" stroke-width="0.45" fill="none"/><path d="M18.86,21.28 l-1.21,0.31 l-0.42,0.90" stroke="#606060" stroke-width="0.45" fill="none"/><path d="M28.93,21.52 l0.51,0.04 l0.33,0.24" stroke="#606060" stroke-width="0.45" fill="none"/><path d="M24.52,2.39 l-0.40,1.01 l0.63,0.59" stroke="#606060" stroke-width="0.45" fill="none"/><path d="M25.83,14.59 l0.74,0.29 l0.51,0.38" stroke="#606060" stroke-width="0.45" fill="none"/><path d="M13.16,20.31 l0.70,0.90 l0.83,0.37" stroke="#606060" stroke-width="0.45" fill="none"/><path d="M19.35,18.89 l-0.70,0.40 l-0.56,-0.32" stroke="#606060" stroke-width="0.45" fill="none"/><path d="M28.35,23.54 l-0.67,-0.30 l-0.23,0.54" stroke="#606060" stroke-width="0.45" fill="none"/><path d="M29.22,21.10 l0.36,-0.68 l0.47,-0.40" stroke="#606060" stroke-width="0.45" fill="none"/><path d="M29.32,24.94 l-0.60,-0.44 l-0.56,-0.22" stroke="#606060" stroke-width="0.45" fill="none"/><path d="M26.64,11.30 l-0.39,-0.90 l0.67,-0.41" stroke="#606060" stroke-width="0.45" fill="none"/><path d="M24.22,8.50 l0.71,0.01 l0.55,-0.15" stroke="#606060" stroke-width="0.45" fill="none"/><path d="M17.60,24.48 l0.40,-0.35 l0.38,0.20" stroke="#606060" stroke-width="0.45" fill="none"/><path d="M24.35,26.02 l-0.65,-0.31 l0.08,-0.57" stroke="#606060" stroke-width="0.45" fill="none"/><path d="M24.21,20.54 l0.66,-0.40 l-0.28,-0.56" stroke="#606060" stroke-width="0.45" fill="none"/><path d="M16.61,23.92 l0.34,1.05 l-0.83,0.28" stroke="#606060" stroke-width="0.45" fill="none"/><path d="M7.02,18.21 l-0.38,-0.78 l-0.70,-0.04" stroke="#606060" stroke-width="0.45" fill="none"/><path d="M7.64,22.53 l0.22,-0.84 l-0.65,-0.24" stroke="#606060" stroke-width="0.45" fill="none"/><path d="M24.20,23.16 l0.10,0.96 l-0.75,0.19" stroke="#606060" stroke-width="0.45" fill="none"/><path d="M26.55,15.66 l-0.96,0.14 l-0.23,0.74" stroke="#606060" stroke-width="0.45" fill="none"/><path d="M5.77,5.42 l-0.24,-0.75 l-0.05,-0.63" stroke="#606060" stroke-width="0.45" fill="none"/><path d="M12.07,15.52 l0.32,0.43 l-0.39,0.17" stroke="#606060" stroke-width="0.45" fill="none"/><path d="M11.22,3.18 l-0.76,-0.84 l-0.83,0.36" stroke="#606060" stroke-width="0.45" fill="none"/><path d="M17.92,10.35 l-0.51,-0.06 l-0.01,0.41" stroke="#606060" stroke-width="0.45" fill="none"/><path d="M29.71,25.98 l-0.95,0.08 l-0.45,0.62" stroke="#606060" stroke-width="0.45" fill="none"/><path d="M23.38,12.78 l1.05,-0.37 l0.62,0.64" stroke="#606060" stroke-width="0.45" fill="none"/><path d="M28.90,7.62 l0.64,0.16 l0.32,-0.42" stroke="#606060" stroke-width="0.45" fill="none"/><path d="M2.51,1.53 l-1.12,-0.42 l-0.94,-0.20" stroke="#606060" stroke-width="0.45" fill="none"/><path d="M28.42,27.30 l0.90,0.38 l0.78,0.03" stroke="#606060" stroke-width="0.45" fill="none"/><path d="M3.60,28.78 l-0.04,0.95 l-0.40,0.65" stroke="#606060" stroke-width="0.45" fill="none"/><path d="M28.69,20.09 l-0.67,0.54 l0.22,0.65" stroke="#606060" stroke-width="0.45" fill="none"/><path d="M28.97,29.75 l0.09,0.52 l0.37,0.21" stroke="#606060" stroke-width="0.45" fill="none"/><path d="M10.56,27.08 l0.96,-0.66 l-0.58,-0.74" stroke="#606060" stroke-width="0.45" fill="none"/><path d="M23.59,21.29 l-0.78,-1.02 l-0.80,0.65" stroke="#606060" stroke-width="0.45" fill="none"/><path d="M4.34,22.65 l0.97,-0.39 l0.37,-0.75" stroke="#606060" stroke-width="0.45" fill="none"/><path d="M17.74,22.74 l0.60,0.47 l0.59,-0.13" stroke="#606060" stroke-width="0.45" fill="none"/><path d="M3.72,14.44 l0.34,0.60 l0.54,-0.12" stroke="#606060" stroke-width="0.45" fill="none"/><path d="M20.33,0.38 l-0.14,-0.64 l-0.50,0.16" stroke="#606060" stroke-width="0.45" fill="none"/><path d="M27.83,6.62 l1.09,-0.48 l0.53,0.79" stroke="#606060" stroke-width="0.45" fill="none"/><path d="M4.19,13.42 l1.02,0.71 l-0.27,0.96" stroke="#606060" stroke-width="0.45" fill="none"/><path d="M18.85,13.57 l-0.62,0.98 l-0.43,0.82" stroke="#606060" stroke-width="0.45" fill="none"/><path d="M18.85,4.28 l0.10,0.54 l-0.24,0.36" stroke="#606060" stroke-width="0.45" fill="none"/><path d="M16.60,4.34 l0.49,-0.52 l0.24,-0.52" stroke="#606060" stroke-width="0.45" fill="none"/><path d="M4.67,8.13 l0.41,-0.65 l-0.36,-0.49" stroke="#606060" stroke-width="0.45" fill="none"/><path d="M14.73,9.54 l0.48,-0.34 l0.21,0.42" stroke="#606060" stroke-width="0.45" fill="none"/><path d="M1.71,26.85 l-0.33,-0.58 l-0.30,-0.44" stroke="#606060" stroke-width="0.45" fill="none"/><path d="M8.59,7.73 l0.24,0.75 l-0.63,0.07" stroke="#606060" stroke-width="0.45" fill="none"/><path d="M29.94,27.75 l0.60,0.42 l-0.26,0.52" stroke="#606060" stroke-width="0.45" fill="none"/><path d="M1.72,21.79 l-0.35,1.24 l1.02,0.10" stroke="#606060" stroke-width="0.45" fill="none"/><path d="M24.21,10.23 l0.32,0.39 l-0.19,0.35" stroke="#606060" stroke-width="0.45" fill="none"/><path d="M15.80,5.57 l-1.13,0.49 l-0.15,0.97" stroke="#606060" stroke-width="0.45" fill="none"/><path d="M17.14,4.14 l0.48,1.01 l-0.28,0.85" stroke="#606060" stroke-width="0.45" fill="none"/><path d="M5.90,2.38 l0.84,0.51 l0.68,0.40" stroke="#606060" stroke-width="0.45" fill="none"/><path d="M8.22,6.18 l-0.81,-0.69 l0.22,-0.83" stroke="#606060" stroke-width="0.45" fill="none"/><path d="M17.49,6.07 l1.00,0.44 l0.87,0.07" stroke="#606060" stroke-width="0.45" fill="none"/><path d="M21.65,1.66 l0.28,-0.71 l0.61,0.02" stroke="#606060" stroke-width="0.45" fill="none"/><path d="M25.94,14.79 l1.22,0.12 l0.98,0.01" stroke="#606060" stroke-width="0.45" fill="none"/><path d="M26.16,7.99 l0.46,1.07 l0.72,0.59" stroke="#606060" stroke-width="0.45" fill="none"/><path d="M4.90,11.13 l-0.42,-0.28 l-0.32,-0.25" stroke="#606060" stroke-width="0.45" fill="none"/><path d="M13.37,15.47 l0.78,0.74 l-0.28,0.81" stroke="#606060" stroke-width="0.45" fill="none"/><path d="M25.96,9.63 l-0.20,-0.78 l0.39,-0.51" stroke="#606060" stroke-width="0.45" fill="none"/><path d="M1.84,26.18 l0.86,-0.26 l0.70,-0.17" stroke="#606060" stroke-width="0.45" fill="none"/><path d="M15.92,16.12 l1.26,0.17 l0.66,-0.78" stroke="#606060" stroke-width="0.45" fill="none"/><path d="M5.47,3.08 l-0.00,1.15 l0.92,-0.11" stroke="#606060" stroke-width="0.45" fill="none"/><path d="M2.89,20.97 l0.17,0.48 l-0.01,0.41" stroke="#606060" stroke-width="0.45" fill="none"/><path d="M17.29,15.69 l-0.17,-0.56 l0.40,-0.24" stroke="#606060" stroke-width="0.45" fill="none"/><path d="M21.51,1.36 l0.64,0.62 l0.51,0.50" stroke="#606060" stroke-width="0.45" fill="none"/><path d="M8.39,3.66 l-0.51,0.34 l-0.47,0.13" stroke="#606060" stroke-width="0.45" fill="none"/><path d="M25.83,4.42 l-0.99,-0.48 l-0.64,0.60" stroke="#606060" stroke-width="0.45" fill="none"/><path d="M24.78,28.13 l-0.64,0.54 l-0.58,-0.33" stroke="#606060" stroke-width="0.45" fill="none"/><path d="M15.77,11.87 l1.04,-0.41 l0.52,-0.73" stroke="#606060" stroke-width="0.45" fill="none"/><path d="M7.21,10.05 l-1.18,0.51 l-0.79,-0.65" stroke="#606060" stroke-width="0.45" fill="none"/><path d="M27.38,24.45 l0.31,-0.44 l0.27,-0.34" stroke="#606060" stroke-width="0.45" fill="none"/><path d="M28.74,28.03 l0.00,0.84 l-0.30,0.60" stroke="#606060" stroke-width="0.45" fill="none"/><path d="M10.93,15.92 l0.77,0.36 l0.61,0.30" stroke="#606060" stroke-width="0.45" fill="none"/><path d="M0.62,4.18 l1.10,-0.22 l0.17,0.88" stroke="#606060" stroke-width="0.45" fill="none"/><path d="M19.00,24.28 l0.90,-0.80 l-0.72,-0.65" stroke="#606060" stroke-width="0.45" fill="none"/><path d="M19.25,7.97 l-0.31,-0.65 l-0.17,-0.55" stroke="#606060" stroke-width="0.45" fill="none"/><path d="M27.73,18.64 l-0.00,0.92 l0.17,0.71" stroke="#606060" stroke-width="0.45" fill="none"/><path d="M28.53,8.63 l-0.35,0.96 l0.69,0.43" stroke="#606060" stroke-width="0.45" fill="none"/><path d="M17.83,28.68 l-0.71,-0.06 l-0.57,0.02" stroke="#606060" stroke-width="0.45" fill="none"/><path d="M16.01,4.45 l0.43,0.42 l0.48,0.02" stroke="#606060" stroke-width="0.45" fill="none"/><path d="M12.20,8.65 l0.02,0.57 l-0.06,0.45" stroke="#606060" stroke-width="0.45" fill="none"/><path d="M25.19,18.30 l-0.92,-0.43 l-0.66,0.49" stroke="#606060" stroke-width="0.45" fill="none"/><path d="M21.31,13.83 l-0.95,-0.29 l-0.78,-0.15" stroke="#606060" stroke-width="0.45" fill="none"/><path d="M9.32,7.27 l0.16,0.90 l0.41,0.60" stroke="#606060" stroke-width="0.45" fill="none"/><path d="M17.57,0.36 l-0.71,0.95 l0.28,0.91" stroke="#606060" stroke-width="0.45" fill="none"/><path d="M16.70,14.74 l-0.28,1.26 l0.51,0.90" stroke="#606060" stroke-width="0.45" fill="none"/><path d="M23.16,4.76 l1.09,0.49 l0.94,0.19" stroke="#606060" stroke-width="0.45" fill="none"/><path d="M1.86,11.64 l-1.01,0.40 l0.19,0.85" stroke="#606060" stroke-width="0.45" fill="none"/><path d="M6.76,28.78 l-0.05,-0.62 l-0.31,-0.39" stroke="#606060" stroke-width="0.45" fill="none"/><path d="M10.57,20.26 l-0.88,-0.79 l0.29,-0.90" stroke="#606060" stroke-width="0.45" fill="none"/><path d="M15.53,22.16 l-0.05,-1.11 l-0.12,-0.88" stroke="#606060" stroke-width="0.45" fill="none"/><path d="M23.55,21.26 l0.52,-0.31 l0.34,0.34" stroke="#606060" stroke-width="0.45" fill="none"/><path d="M0.13,22.97 l-0.77,-0.46 l0.42,-0.58" stroke="#606060" stroke-width="0.45" fill="none"/><path d="M17.16,12.54 l0.25,-1.17 l0.54,-0.79" stroke="#606060" stroke-width="0.45" fill="none"/><path d="M11.39,13.57 l-1.04,0.28 l-0.46,0.73" stroke="#606060" stroke-width="0.45" fill="none"/></pattern><pattern id="gr2" width="30" height="30" patternUnits="userSpaceOnUse"><rect width="30" height="30" fill="#fbfbfb"/><path d="M6.80,28.87 l0.87,0.88 l0.76,-0.64" stroke="#555" stroke-width="0.5" fill="none"/><path d="M7.42,29.97 l0.30,1.14 l0.37,0.87" stroke="#555" stroke-width="0.5" fill="none"/><path d="M13.59,14.85 l0.48,1.26 l1.04,-0.29" stroke="#555" stroke-width="0.5" fill="none"/><path d="M7.03,0.60 l-0.10,0.96 l-0.77,0.01" stroke="#555" stroke-width="0.5" fill="none"/><path d="M11.37,3.41 l-0.08,1.49 l1.19,0.06" stroke="#555" stroke-width="0.5" fill="none"/><path d="M18.61,11.32 l-0.48,-0.77 l0.09,-0.72" stroke="#555" stroke-width="0.5" fill="none"/><path d="M14.93,19.49 l0.91,-0.66 l-0.30,-0.85" stroke="#555" stroke-width="0.5" fill="none"/><path d="M1.93,28.38 l-0.77,0.06 l-0.02,-0.62" stroke="#555" stroke-width="0.5" fill="none"/><path d="M17.37,21.87 l0.63,-0.58 l0.21,-0.65" stroke="#555" stroke-width="0.5" fill="none"/><path d="M26.34,4.05 l0.06,-0.69 l0.38,-0.39" stroke="#555" stroke-width="0.5" fill="none"/><path d="M21.06,28.50 l0.58,-0.88 l-0.41,-0.74" stroke="#555" stroke-width="0.5" fill="none"/><path d="M4.50,15.86 l-0.66,-0.04 l-0.03,-0.53" stroke="#555" stroke-width="0.5" fill="none"/><path d="M15.22,21.04 l0.15,0.80 l0.61,-0.24" stroke="#555" stroke-width="0.5" fill="none"/><path d="M10.30,8.01 l-0.83,0.44 l-0.56,-0.50" stroke="#555" stroke-width="0.5" fill="none"/><path d="M26.74,5.26 l-0.60,0.46 l-0.60,0.04" stroke="#555" stroke-width="0.5" fill="none"/><path d="M29.25,6.05 l0.09,-0.87 l-0.69,0.06" stroke="#555" stroke-width="0.5" fill="none"/><path d="M22.93,10.25 l0.48,0.87 l0.79,0.08" stroke="#555" stroke-width="0.5" fill="none"/><path d="M12.30,13.38 l-0.98,0.56 l-0.26,0.87" stroke="#555" stroke-width="0.5" fill="none"/><path d="M2.85,2.56 l0.84,0.66 l0.84,0.14" stroke="#555" stroke-width="0.5" fill="none"/><path d="M24.23,15.15 l-0.39,-1.43 l-1.14,0.31" stroke="#555" stroke-width="0.5" fill="none"/><path d="M0.51,4.21 l-0.84,0.73 l-0.88,-0.14" stroke="#555" stroke-width="0.5" fill="none"/><path d="M10.54,28.95 l1.35,0.02 l0.56,-0.92" stroke="#555" stroke-width="0.5" fill="none"/><path d="M26.26,0.99 l1.25,-0.28 l0.03,1.03" stroke="#555" stroke-width="0.5" fill="none"/><path d="M17.40,5.33 l0.98,-0.19 l-0.10,-0.79" stroke="#555" stroke-width="0.5" fill="none"/><path d="M18.16,14.92 l-0.73,0.13 l-0.02,0.59" stroke="#555" stroke-width="0.5" fill="none"/><path d="M17.42,13.58 l0.70,0.71 l-0.03,0.80" stroke="#555" stroke-width="0.5" fill="none"/><path d="M21.46,14.14 l-0.73,0.57 l0.06,0.74" stroke="#555" stroke-width="0.5" fill="none"/><path d="M5.93,13.39 l0.97,0.79 l0.14,0.99" stroke="#555" stroke-width="0.5" fill="none"/><path d="M18.35,0.68 l-0.65,0.75 l0.54,0.58" stroke="#555" stroke-width="0.5" fill="none"/><path d="M29.03,22.67 l-1.23,-0.02 l-0.48,0.86" stroke="#555" stroke-width="0.5" fill="none"/><path d="M6.88,15.77 l-0.05,-1.18 l-0.92,0.23" stroke="#555" stroke-width="0.5" fill="none"/><path d="M18.40,27.27 l-0.06,-1.43 l1.14,0.14" stroke="#555" stroke-width="0.5" fill="none"/><path d="M6.71,8.89 l-1.41,-0.43 l-1.17,0.21" stroke="#555" stroke-width="0.5" fill="none"/><path d="M28.24,25.51 l-1.16,-0.12 l0.16,-0.92" stroke="#555" stroke-width="0.5" fill="none"/><path d="M23.50,8.87 l0.44,-0.64 l0.08,-0.62" stroke="#555" stroke-width="0.5" fill="none"/><path d="M28.76,25.41 l-0.33,0.80 l-0.49,0.48" stroke="#555" stroke-width="0.5" fill="none"/><path d="M25.28,20.53 l1.15,-0.49 l0.73,0.68" stroke="#555" stroke-width="0.5" fill="none"/><path d="M18.15,10.87 l-0.93,0.46 l-0.78,0.29" stroke="#555" stroke-width="0.5" fill="none"/><path d="M25.15,8.07 l1.14,0.53 l0.93,-0.39" stroke="#555" stroke-width="0.5" fill="none"/><path d="M12.59,3.51 l0.40,-0.74 l-0.17,-0.66" stroke="#555" stroke-width="0.5" fill="none"/><path d="M24.13,15.13 l-0.24,1.38 l0.16,1.11" stroke="#555" stroke-width="0.5" fill="none"/><path d="M10.84,28.96 l0.31,-1.23 l-0.62,-0.81" stroke="#555" stroke-width="0.5" fill="none"/><path d="M24.40,17.90 l0.45,-0.82 l0.74,-0.05" stroke="#555" stroke-width="0.5" fill="none"/><path d="M23.80,11.64 l-0.74,-1.07 l0.96,-0.40" stroke="#555" stroke-width="0.5" fill="none"/><path d="M27.61,23.59 l0.75,0.87 l0.04,0.92" stroke="#555" stroke-width="0.5" fill="none"/><path d="M2.61,13.88 l0.96,-1.04 l0.86,0.73" stroke="#555" stroke-width="0.5" fill="none"/><path d="M2.78,18.21 l0.78,-0.89 l0.07,-0.95" stroke="#555" stroke-width="0.5" fill="none"/><path d="M1.16,27.59 l0.75,-0.92 l0.19,-0.93" stroke="#555" stroke-width="0.5" fill="none"/><path d="M24.85,24.44 l-0.18,-1.12 l-0.66,-0.63" stroke="#555" stroke-width="0.5" fill="none"/><path d="M8.90,10.72 l-0.49,0.95 l0.67,0.53" stroke="#555" stroke-width="0.5" fill="none"/><path d="M21.64,10.44 l0.45,0.70 l0.55,0.38" stroke="#555" stroke-width="0.5" fill="none"/><path d="M12.94,23.47 l0.65,0.47 l0.64,-0.08" stroke="#555" stroke-width="0.5" fill="none"/><path d="M5.30,22.48 l0.50,0.41 l0.33,0.40" stroke="#555" stroke-width="0.5" fill="none"/><path d="M22.09,24.75 l-0.83,-0.32 l0.13,-0.70" stroke="#555" stroke-width="0.5" fill="none"/><path d="M22.08,14.37 l-1.33,-0.55 l0.66,-0.94" stroke="#555" stroke-width="0.5" fill="none"/><path d="M27.94,3.98 l-0.45,0.86 l0.50,0.59" stroke="#555" stroke-width="0.5" fill="none"/><path d="M22.86,1.83 l0.85,-0.73 l0.86,-0.27" stroke="#555" stroke-width="0.5" fill="none"/><path d="M12.44,28.10 l-1.24,-0.66 l0.48,-1.02" stroke="#555" stroke-width="0.5" fill="none"/><path d="M20.76,29.50 l-0.93,0.06 l-0.29,-0.69" stroke="#555" stroke-width="0.5" fill="none"/><path d="M15.84,9.26 l-0.44,-0.93 l-0.80,0.17" stroke="#555" stroke-width="0.5" fill="none"/><path d="M25.14,15.00 l1.06,-0.20 l0.15,0.85" stroke="#555" stroke-width="0.5" fill="none"/><path d="M8.67,6.52 l-1.27,-0.21 l-0.24,-1.00" stroke="#555" stroke-width="0.5" fill="none"/><path d="M19.42,3.73 l-0.50,0.39 l-0.22,0.46" stroke="#555" stroke-width="0.5" fill="none"/><path d="M28.34,10.41 l-0.37,-1.10 l-0.93,0.03" stroke="#555" stroke-width="0.5" fill="none"/><path d="M20.65,2.39 l0.45,1.03 l0.88,-0.16" stroke="#555" stroke-width="0.5" fill="none"/><path d="M28.93,12.77 l-1.01,-1.07 l-0.97,0.66" stroke="#555" stroke-width="0.5" fill="none"/><path d="M29.97,1.19 l-0.96,-0.71 l0.69,-0.65" stroke="#555" stroke-width="0.5" fill="none"/><path d="M10.74,28.40 l-0.61,-0.83 l-0.80,0.20" stroke="#555" stroke-width="0.5" fill="none"/><path d="M7.07,10.96 l-0.53,0.77 l-0.74,-0.11" stroke="#555" stroke-width="0.5" fill="none"/><path d="M11.25,18.86 l0.71,0.17 l0.32,0.49" stroke="#555" stroke-width="0.5" fill="none"/><path d="M26.72,9.39 l0.79,0.16 l0.62,-0.19" stroke="#555" stroke-width="0.5" fill="none"/><path d="M10.99,16.84 l-0.38,1.12 l-0.92,0.20" stroke="#555" stroke-width="0.5" fill="none"/><path d="M23.50,22.24 l-0.72,-0.42 l0.12,-0.66" stroke="#555" stroke-width="0.5" fill="none"/><path d="M8.69,25.80 l-1.10,0.38 l-0.88,0.31" stroke="#555" stroke-width="0.5" fill="none"/><path d="M19.62,10.23 l-1.11,-0.60 l-1.01,0.01" stroke="#555" stroke-width="0.5" fill="none"/><path d="M18.01,13.69 l-0.93,0.18 l-0.76,0.02" stroke="#555" stroke-width="0.5" fill="none"/><path d="M21.28,5.21 l0.81,1.06 l0.91,-0.57" stroke="#555" stroke-width="0.5" fill="none"/><path d="M23.79,22.77 l0.24,1.15 l0.83,0.43" stroke="#555" stroke-width="0.5" fill="none"/><path d="M26.45,5.92 l0.47,0.42 l0.03,0.51" stroke="#555" stroke-width="0.5" fill="none"/><path d="M6.35,9.43 l1.25,-0.19 l0.77,0.66" stroke="#555" stroke-width="0.5" fill="none"/><path d="M17.28,19.22 l1.33,0.09 l0.91,-0.55" stroke="#555" stroke-width="0.5" fill="none"/><path d="M25.64,12.44 l0.51,-0.32 l0.19,0.44" stroke="#555" stroke-width="0.5" fill="none"/><path d="M2.88,15.33 l-1.48,0.17 l-0.94,-0.73" stroke="#555" stroke-width="0.5" fill="none"/><path d="M29.46,27.17 l-0.65,0.33 l0.10,0.58" stroke="#555" stroke-width="0.5" fill="none"/><path d="M21.28,28.54 l-0.47,-0.78 l-0.13,-0.72" stroke="#555" stroke-width="0.5" fill="none"/><path d="M19.71,7.59 l-0.27,-0.73 l-0.55,0.29" stroke="#555" stroke-width="0.5" fill="none"/><path d="M1.93,14.65 l-0.27,-0.76 l-0.42,-0.49" stroke="#555" stroke-width="0.5" fill="none"/><path d="M20.79,7.89 l-1.13,-0.16 l-0.90,0.18" stroke="#555" stroke-width="0.5" fill="none"/><path d="M6.25,20.78 l-0.23,-0.73 l0.44,-0.43" stroke="#555" stroke-width="0.5" fill="none"/><path d="M19.66,25.99 l0.19,-1.03 l0.69,-0.48" stroke="#555" stroke-width="0.5" fill="none"/><path d="M9.43,19.61 l0.79,0.45 l0.63,0.37" stroke="#555" stroke-width="0.5" fill="none"/><path d="M26.57,20.52 l1.16,-0.75 l0.48,1.00" stroke="#555" stroke-width="0.5" fill="none"/><path d="M18.53,18.50 l-0.78,0.16 l-0.41,-0.49" stroke="#555" stroke-width="0.5" fill="none"/><path d="M18.31,4.85 l0.05,0.80 l-0.43,0.47" stroke="#555" stroke-width="0.5" fill="none"/><path d="M17.92,6.03 l-0.43,-1.02 l-0.84,-0.29" stroke="#555" stroke-width="0.5" fill="none"/><path d="M13.34,29.78 l0.51,0.63 l0.22,0.61" stroke="#555" stroke-width="0.5" fill="none"/><path d="M25.20,27.65 l-1.04,0.77 l0.44,0.94" stroke="#555" stroke-width="0.5" fill="none"/><path d="M11.58,25.71 l-0.51,-0.86 l-0.14,-0.79" stroke="#555" stroke-width="0.5" fill="none"/><path d="M14.62,16.44 l1.10,-0.99 l-0.28,-1.15" stroke="#555" stroke-width="0.5" fill="none"/><path d="M22.65,28.34 l-0.82,-0.65 l-0.82,-0.18" stroke="#555" stroke-width="0.5" fill="none"/><path d="M14.52,17.42 l-0.54,-0.45 l0.45,-0.34" stroke="#555" stroke-width="0.5" fill="none"/><path d="M8.28,16.43 l0.37,1.11 l0.90,-0.26" stroke="#555" stroke-width="0.5" fill="none"/><path d="M10.06,11.54 l-0.40,0.96 l0.62,0.56" stroke="#555" stroke-width="0.5" fill="none"/><path d="M14.72,23.87 l-1.02,-1.06 l0.89,-0.77" stroke="#555" stroke-width="0.5" fill="none"/><path d="M14.33,14.04 l0.11,-1.39 l0.25,-1.09" stroke="#555" stroke-width="0.5" fill="none"/><path d="M20.02,20.72 l-1.05,-0.09 l-0.82,0.23" stroke="#555" stroke-width="0.5" fill="none"/><path d="M13.46,14.22 l0.24,-0.70 l-0.52,-0.30" stroke="#555" stroke-width="0.5" fill="none"/><path d="M27.70,15.31 l-0.47,-1.34 l0.56,-0.99" stroke="#555" stroke-width="0.5" fill="none"/><path d="M16.99,28.56 l-0.71,-0.70 l-0.75,0.29" stroke="#555" stroke-width="0.5" fill="none"/><path d="M4.78,23.77 l0.73,-0.56 l0.63,-0.38" stroke="#555" stroke-width="0.5" fill="none"/><path d="M20.36,18.20 l-0.22,1.40 l-0.38,1.07" stroke="#555" stroke-width="0.5" fill="none"/><path d="M21.43,20.65 l-1.14,0.47 l-0.06,0.98" stroke="#555" stroke-width="0.5" fill="none"/><path d="M16.44,19.55 l-0.59,-0.63 l-0.65,0.23" stroke="#555" stroke-width="0.5" fill="none"/><path d="M3.04,3.71 l0.42,0.95 l0.14,0.82" stroke="#555" stroke-width="0.5" fill="none"/><path d="M21.18,13.14 l0.07,-0.62 l-0.21,-0.45" stroke="#555" stroke-width="0.5" fill="none"/><path d="M3.58,15.49 l-1.01,-0.49 l-0.87,-0.22" stroke="#555" stroke-width="0.5" fill="none"/><path d="M11.04,9.86 l0.61,0.48 l0.50,0.36" stroke="#555" stroke-width="0.5" fill="none"/><path d="M17.03,3.01 l0.35,-0.52 l-0.34,-0.37" stroke="#555" stroke-width="0.5" fill="none"/><path d="M13.44,9.99 l-1.21,-0.15 l-0.87,-0.44" stroke="#555" stroke-width="0.5" fill="none"/><path d="M23.55,14.10 l-0.44,-0.87 l-0.76,0.19" stroke="#555" stroke-width="0.5" fill="none"/><path d="M2.23,5.46 l-0.80,0.29 l-0.67,0.09" stroke="#555" stroke-width="0.5" fill="none"/><path d="M20.02,27.58 l0.86,1.18 l0.77,-0.88" stroke="#555" stroke-width="0.5" fill="none"/><path d="M26.68,29.54 l-0.87,0.99 l-0.71,0.78" stroke="#555" stroke-width="0.5" fill="none"/><path d="M16.86,25.72 l0.81,-0.31 l0.13,-0.68" stroke="#555" stroke-width="0.5" fill="none"/><path d="M27.49,17.76 l0.65,-0.46 l0.51,0.38" stroke="#555" stroke-width="0.5" fill="none"/><path d="M4.78,4.40 l-0.34,1.39 l0.19,1.13" stroke="#555" stroke-width="0.5" fill="none"/><path d="M13.21,8.67 l0.89,0.45 l0.72,0.35" stroke="#555" stroke-width="0.5" fill="none"/><path d="M10.04,21.92 l-0.54,1.38 l-1.14,-0.32" stroke="#555" stroke-width="0.5" fill="none"/><path d="M17.37,3.05 l-1.08,-0.42 l-0.57,-0.73" stroke="#555" stroke-width="0.5" fill="none"/><path d="M12.76,21.75 l1.23,-0.03 l-0.10,-0.98" stroke="#555" stroke-width="0.5" fill="none"/><path d="M18.84,18.70 l-1.39,-0.40 l-0.28,1.12" stroke="#555" stroke-width="0.5" fill="none"/><path d="M0.52,21.67 l0.58,0.43 l-0.12,0.57" stroke="#555" stroke-width="0.5" fill="none"/><path d="M10.85,26.50 l0.37,-1.14 l-0.18,-0.94" stroke="#555" stroke-width="0.5" fill="none"/><path d="M2.48,29.28 l0.98,-1.04 l0.81,-0.80" stroke="#555" stroke-width="0.5" fill="none"/><path d="M8.43,18.83 l-0.67,0.38 l0.20,0.58" stroke="#555" stroke-width="0.5" fill="none"/><path d="M12.24,4.45 l-0.17,1.47 l-1.18,-0.12" stroke="#555" stroke-width="0.5" fill="none"/><path d="M26.57,15.37 l0.06,-0.75 l0.29,-0.52" stroke="#555" stroke-width="0.5" fill="none"/><path d="M29.23,23.72 l1.16,-0.10 l0.65,-0.67" stroke="#555" stroke-width="0.5" fill="none"/><path d="M0.62,8.12 l0.51,-0.95 l0.69,-0.51" stroke="#555" stroke-width="0.5" fill="none"/><path d="M24.08,8.86 l0.89,1.08 l0.36,1.06" stroke="#555" stroke-width="0.5" fill="none"/><path d="M0.81,20.90 l-0.23,-1.26 l-1.03,-0.06" stroke="#555" stroke-width="0.5" fill="none"/><path d="M8.20,21.70 l-0.44,-0.80 l0.67,-0.28" stroke="#555" stroke-width="0.5" fill="none"/><path d="M9.07,26.73 l0.67,0.76 l-0.70,0.40" stroke="#555" stroke-width="0.5" fill="none"/><path d="M20.83,22.71 l0.86,-0.78 l0.78,-0.50" stroke="#555" stroke-width="0.5" fill="none"/><path d="M24.75,15.94 l1.24,-0.34 l-0.49,-0.91" stroke="#555" stroke-width="0.5" fill="none"/><path d="M8.63,26.55 l0.45,0.41 l0.25,0.42" stroke="#555" stroke-width="0.5" fill="none"/><path d="M20.81,29.42 l1.13,-0.27 l0.83,0.43" stroke="#555" stroke-width="0.5" fill="none"/><path d="M15.92,25.49 l-0.26,-0.67 l0.05,-0.57" stroke="#555" stroke-width="0.5" fill="none"/><path d="M1.51,10.06 l-0.71,1.24 l0.53,1.01" stroke="#555" stroke-width="0.5" fill="none"/><path d="M11.29,16.94 l0.28,0.97 l0.68,0.43" stroke="#555" stroke-width="0.5" fill="none"/><path d="M21.65,23.81 l-1.20,-0.68 l-0.98,-0.51" stroke="#555" stroke-width="0.5" fill="none"/><path d="M22.41,2.84 l-0.68,0.58 l-0.55,-0.45" stroke="#555" stroke-width="0.5" fill="none"/><path d="M14.94,11.29 l-0.73,-1.26 l0.72,-0.92" stroke="#555" stroke-width="0.5" fill="none"/><path d="M24.11,19.98 l0.36,-1.04 l-0.06,-0.88" stroke="#555" stroke-width="0.5" fill="none"/><path d="M9.51,7.89 l-0.55,0.90 l-0.81,-0.23" stroke="#555" stroke-width="0.5" fill="none"/><path d="M7.09,11.75 l-0.07,1.03 l0.83,0.05" stroke="#555" stroke-width="0.5" fill="none"/><path d="M18.69,25.75 l0.78,-0.49 l-0.13,-0.73" stroke="#555" stroke-width="0.5" fill="none"/><path d="M21.92,22.66 l0.24,0.61 l-0.12,0.51" stroke="#555" stroke-width="0.5" fill="none"/><path d="M11.39,15.67 l-1.28,-0.55 l-0.66,0.90" stroke="#555" stroke-width="0.5" fill="none"/><path d="M7.79,1.03 l-0.25,-0.62 l0.42,-0.34" stroke="#555" stroke-width="0.5" fill="none"/><path d="M18.30,15.36 l-0.15,1.37 l1.06,0.32" stroke="#555" stroke-width="0.5" fill="none"/><path d="M17.42,24.90 l-0.35,-0.54 l-0.47,0.21" stroke="#555" stroke-width="0.5" fill="none"/><path d="M8.57,21.92 l0.95,1.11 l-0.73,0.91" stroke="#555" stroke-width="0.5" fill="none"/><path d="M17.16,26.31 l-0.49,-0.56 l-0.52,-0.29" stroke="#555" stroke-width="0.5" fill="none"/><path d="M0.72,13.15 l0.96,-0.07 l0.67,0.38" stroke="#555" stroke-width="0.5" fill="none"/><path d="M10.79,20.24 l-0.72,1.22 l-0.24,1.11" stroke="#555" stroke-width="0.5" fill="none"/><path d="M8.07,12.88 l0.80,0.41 l0.17,0.70" stroke="#555" stroke-width="0.5" fill="none"/><path d="M12.13,13.41 l0.13,1.34 l-1.03,0.30" stroke="#555" stroke-width="0.5" fill="none"/><path d="M12.27,0.06 l-1.25,0.61 l-1.11,-0.10" stroke="#555" stroke-width="0.5" fill="none"/><path d="M6.84,3.16 l0.51,-0.44 l0.51,-0.16" stroke="#555" stroke-width="0.5" fill="none"/><path d="M17.87,5.47 l-1.28,0.50 l-0.16,-1.09" stroke="#555" stroke-width="0.5" fill="none"/><path d="M2.25,0.93 l-0.04,0.64 l-0.52,-0.02" stroke="#555" stroke-width="0.5" fill="none"/><path d="M2.41,11.02 l0.63,-0.80 l-0.23,-0.78" stroke="#555" stroke-width="0.5" fill="none"/><path d="M1.87,6.80 l-0.50,1.27 l-0.15,1.08" stroke="#555" stroke-width="0.5" fill="none"/><path d="M16.58,7.88 l-1.20,0.79 l0.44,1.06" stroke="#555" stroke-width="0.5" fill="none"/><path d="M21.03,9.40 l-1.09,0.62 l-0.49,0.87" stroke="#555" stroke-width="0.5" fill="none"/><path d="M14.67,14.63 l-0.66,0.07 l-0.47,0.25" stroke="#555" stroke-width="0.5" fill="none"/><path d="M11.40,12.59 l-0.23,0.98 l-0.71,0.37" stroke="#555" stroke-width="0.5" fill="none"/><path d="M2.21,2.26 l-1.09,-0.24 l-0.24,-0.86" stroke="#555" stroke-width="0.5" fill="none"/><path d="M0.98,0.29 l-0.62,-0.50 l-0.51,-0.39" stroke="#555" stroke-width="0.5" fill="none"/><path d="M8.82,2.62 l-0.82,-0.33 l-0.67,-0.23" stroke="#555" stroke-width="0.5" fill="none"/><path d="M26.07,13.50 l0.47,-0.72 l-0.37,-0.58" stroke="#555" stroke-width="0.5" fill="none"/><path d="M12.08,8.93 l-0.10,-0.70 l0.35,-0.45" stroke="#555" stroke-width="0.5" fill="none"/><path d="M6.59,12.25 l0.16,0.71 l0.58,0.03" stroke="#555" stroke-width="0.5" fill="none"/><path d="M29.58,2.98 l0.90,-0.47 l0.51,0.63" stroke="#555" stroke-width="0.5" fill="none"/><path d="M5.38,17.52 l-0.36,-0.80 l-0.01,-0.70" stroke="#555" stroke-width="0.5" fill="none"/><path d="M27.10,12.49 l1.13,0.21 l0.34,0.85" stroke="#555" stroke-width="0.5" fill="none"/><path d="M13.64,25.18 l-0.62,0.79 l-0.33,0.74" stroke="#555" stroke-width="0.5" fill="none"/><path d="M2.83,2.14 l-0.91,-1.06 l-1.08,0.30" stroke="#555" stroke-width="0.5" fill="none"/><path d="M27.14,9.78 l-0.55,0.32 l0.34,0.38" stroke="#555" stroke-width="0.5" fill="none"/><path d="M17.27,26.53 l-0.47,-0.54 l-0.08,-0.57" stroke="#555" stroke-width="0.5" fill="none"/><path d="M3.90,14.10 l-0.00,-0.95 l-0.46,-0.60" stroke="#555" stroke-width="0.5" fill="none"/><path d="M9.61,8.72 l1.25,0.12 l0.96,-0.29" stroke="#555" stroke-width="0.5" fill="none"/><path d="M5.61,9.33 l0.99,0.26 l0.69,0.43" stroke="#555" stroke-width="0.5" fill="none"/><path d="M18.63,13.34 l0.73,-0.05 l0.23,-0.54" stroke="#555" stroke-width="0.5" fill="none"/><path d="M16.84,12.37 l-0.41,1.18 l-0.38,0.93" stroke="#555" stroke-width="0.5" fill="none"/><path d="M16.98,20.75 l-0.93,0.50 l-0.26,-0.81" stroke="#555" stroke-width="0.5" fill="none"/><path d="M4.85,13.95 l-0.98,-0.83 l-0.74,0.72" stroke="#555" stroke-width="0.5" fill="none"/><path d="M3.46,8.02 l-0.39,-0.68 l-0.51,0.37" stroke="#555" stroke-width="0.5" fill="none"/><path d="M12.58,4.63 l-0.56,-1.34 l0.57,-1.01" stroke="#555" stroke-width="0.5" fill="none"/><path d="M17.06,12.21 l0.98,0.16 l0.77,0.19" stroke="#555" stroke-width="0.5" fill="none"/><path d="M9.02,12.24 l0.87,-0.33 l0.26,-0.70" stroke="#555" stroke-width="0.5" fill="none"/><path d="M13.24,28.05 l0.98,0.27 l-0.36,0.73" stroke="#555" stroke-width="0.5" fill="none"/><path d="M15.86,9.53 l-0.60,1.06 l0.71,0.68" stroke="#555" stroke-width="0.5" fill="none"/><path d="M28.52,20.78 l0.63,-0.40 l-0.40,-0.45" stroke="#555" stroke-width="0.5" fill="none"/><path d="M9.62,14.02 l-1.14,-0.20 l-0.07,0.93" stroke="#555" stroke-width="0.5" fill="none"/><path d="M28.09,4.55 l0.28,0.66 l0.42,0.38" stroke="#555" stroke-width="0.5" fill="none"/><path d="M4.83,21.43 l-0.43,0.57 l-0.09,0.56" stroke="#555" stroke-width="0.5" fill="none"/><path d="M24.67,16.46 l1.03,0.47 l0.83,0.35" stroke="#555" stroke-width="0.5" fill="none"/><path d="M15.57,22.48 l0.76,0.97 l-0.30,0.93" stroke="#555" stroke-width="0.5" fill="none"/><path d="M27.48,11.58 l0.21,1.22 l-0.99,-0.05" stroke="#555" stroke-width="0.5" fill="none"/><path d="M29.11,17.83 l-0.61,1.29 l0.83,0.79" stroke="#555" stroke-width="0.5" fill="none"/><path d="M19.31,25.70 l-1.18,-0.47 l-1.01,-0.13" stroke="#555" stroke-width="0.5" fill="none"/><path d="M21.12,6.43 l-0.31,-0.66 l-0.58,0.02" stroke="#555" stroke-width="0.5" fill="none"/><path d="M3.62,9.68 l1.23,0.05 l0.04,0.98" stroke="#555" stroke-width="0.5" fill="none"/><path d="M25.15,1.26 l-0.72,0.03 l-0.56,-0.13" stroke="#555" stroke-width="0.5" fill="none"/><path d="M0.38,28.58 l-0.73,0.21 l-0.50,0.34" stroke="#555" stroke-width="0.5" fill="none"/><path d="M9.35,14.53 l-1.25,0.77 l-0.41,1.10" stroke="#555" stroke-width="0.5" fill="none"/><path d="M1.97,16.58 l-0.91,0.14 l-0.04,-0.74" stroke="#555" stroke-width="0.5" fill="none"/><path d="M25.33,12.29 l0.90,1.06 l-0.42,1.03" stroke="#555" stroke-width="0.5" fill="none"/><path d="M27.77,12.02 l0.11,1.07 l0.00,0.86" stroke="#555" stroke-width="0.5" fill="none"/><path d="M22.02,4.21 l1.06,-0.24 l0.48,-0.72" stroke="#555" stroke-width="0.5" fill="none"/><path d="M18.07,1.99 l0.51,-0.96 l-0.48,-0.73" stroke="#555" stroke-width="0.5" fill="none"/><path d="M1.52,16.00 l0.24,-0.78 l0.61,0.24" stroke="#555" stroke-width="0.5" fill="none"/><path d="M18.26,15.38 l0.90,-0.18 l0.64,0.37" stroke="#555" stroke-width="0.5" fill="none"/><path d="M11.31,10.48 l-1.44,-0.23 l-0.32,1.12" stroke="#555" stroke-width="0.5" fill="none"/><path d="M11.98,1.62 l-0.56,0.34 l-0.45,-0.27" stroke="#555" stroke-width="0.5" fill="none"/><path d="M20.36,28.83 l-0.09,-0.91 l0.23,-0.69" stroke="#555" stroke-width="0.5" fill="none"/><path d="M4.80,13.02 l1.16,0.91 l0.36,1.12" stroke="#555" stroke-width="0.5" fill="none"/><path d="M7.63,16.14 l-1.08,0.89 l-1.12,0.06" stroke="#555" stroke-width="0.5" fill="none"/><path d="M21.16,18.74 l0.65,0.91 l-0.53,0.72" stroke="#555" stroke-width="0.5" fill="none"/><path d="M11.12,0.14 l-0.22,0.57 l-0.29,0.40" stroke="#555" stroke-width="0.5" fill="none"/><path d="M14.32,3.29 l0.54,-0.62 l0.32,-0.58" stroke="#555" stroke-width="0.5" fill="none"/><path d="M4.45,15.73 l-1.12,-0.53 l-0.26,0.95" stroke="#555" stroke-width="0.5" fill="none"/><path d="M4.66,4.52 l-0.46,1.24 l-1.06,-0.05" stroke="#555" stroke-width="0.5" fill="none"/><path d="M22.15,16.80 l0.85,0.13 l0.67,0.13" stroke="#555" stroke-width="0.5" fill="none"/><path d="M22.07,11.43 l-0.84,0.26 l-0.69,0.15" stroke="#555" stroke-width="0.5" fill="none"/><path d="M13.00,10.95 l1.01,-0.54 l0.91,0.09" stroke="#555" stroke-width="0.5" fill="none"/><path d="M25.70,22.22 l-0.07,1.27 l-0.47,0.91" stroke="#555" stroke-width="0.5" fill="none"/><path d="M15.74,21.06 l0.43,-0.75 l-0.16,-0.67" stroke="#555" stroke-width="0.5" fill="none"/><path d="M16.03,2.91 l0.18,-0.76 l-0.28,-0.56" stroke="#555" stroke-width="0.5" fill="none"/><path d="M23.47,26.67 l-0.04,0.71 l-0.36,0.44" stroke="#555" stroke-width="0.5" fill="none"/><path d="M18.36,12.08 l0.67,1.31 l1.11,-0.40" stroke="#555" stroke-width="0.5" fill="none"/><path d="M25.87,7.06 l0.01,0.97 l0.76,0.19" stroke="#555" stroke-width="0.5" fill="none"/><path d="M22.79,5.71 l-0.13,0.90 l-0.69,0.23" stroke="#555" stroke-width="0.5" fill="none"/><path d="M1.12,22.14 l-0.22,1.17 l-0.91,-0.28" stroke="#555" stroke-width="0.5" fill="none"/><path d="M5.51,0.90 l-0.37,1.18 l0.61,0.78" stroke="#555" stroke-width="0.5" fill="none"/><path d="M9.70,29.45 l0.95,-1.11 l-0.37,-1.11" stroke="#555" stroke-width="0.5" fill="none"/><path d="M20.80,9.31 l-0.40,-1.28 l0.29,-1.03" stroke="#555" stroke-width="0.5" fill="none"/><path d="M15.04,19.57 l-0.29,-0.69 l0.22,-0.56" stroke="#555" stroke-width="0.5" fill="none"/><path d="M3.79,25.61 l-0.37,0.57 l0.50,0.22" stroke="#555" stroke-width="0.5" fill="none"/><path d="M18.17,2.11 l-0.53,0.36 l-0.51,-0.04" stroke="#555" stroke-width="0.5" fill="none"/><path d="M25.90,0.74 l-0.90,-0.77 l-0.58,-0.75" stroke="#555" stroke-width="0.5" fill="none"/><path d="M29.03,9.34 l0.86,-0.67 l-0.07,-0.87" stroke="#555" stroke-width="0.5" fill="none"/><path d="M8.32,3.05 l0.07,-0.80 l0.25,-0.59" stroke="#555" stroke-width="0.5" fill="none"/><path d="M23.22,7.69 l-0.70,-0.99 l-0.74,-0.62" stroke="#555" stroke-width="0.5" fill="none"/><path d="M23.49,12.84 l0.42,0.54 l0.51,-0.19" stroke="#555" stroke-width="0.5" fill="none"/><path d="M21.77,15.15 l0.92,1.13 l0.75,-0.89" stroke="#555" stroke-width="0.5" fill="none"/><path d="M17.78,14.35 l0.87,-0.74 l0.78,0.46" stroke="#555" stroke-width="0.5" fill="none"/><path d="M6.69,15.93 l0.18,-0.92 l0.64,-0.39" stroke="#555" stroke-width="0.5" fill="none"/><path d="M12.46,10.30 l-0.18,1.20 l-0.92,-0.31" stroke="#555" stroke-width="0.5" fill="none"/><path d="M1.19,6.42 l0.69,0.30 l0.55,0.25" stroke="#555" stroke-width="0.5" fill="none"/><path d="M16.84,20.80 l0.95,0.98 l1.04,-0.32" stroke="#555" stroke-width="0.5" fill="none"/><path d="M23.43,11.86 l-1.35,-0.13 l0.01,-1.08" stroke="#555" stroke-width="0.5" fill="none"/><path d="M16.20,1.81 l-0.47,1.15 l-0.99,0.04" stroke="#555" stroke-width="0.5" fill="none"/><path d="M26.68,16.65 l0.68,0.51 l0.63,0.25" stroke="#555" stroke-width="0.5" fill="none"/><path d="M4.03,10.46 l-0.46,1.17 l-0.24,0.97" stroke="#555" stroke-width="0.5" fill="none"/><path d="M17.26,8.88 l-0.19,-1.08 l-0.87,0.09" stroke="#555" stroke-width="0.5" fill="none"/><path d="M27.72,3.25 l0.01,0.68 l-0.47,0.27" stroke="#555" stroke-width="0.5" fill="none"/><path d="M25.77,13.75 l0.11,-1.32 l1.03,-0.21" stroke="#555" stroke-width="0.5" fill="none"/><path d="M28.35,19.50 l-0.51,-0.37 l-0.47,0.19" stroke="#555" stroke-width="0.5" fill="none"/><path d="M29.78,15.87 l0.74,-0.30 l0.46,0.44" stroke="#555" stroke-width="0.5" fill="none"/><path d="M23.83,21.97 l-0.55,1.39 l0.26,1.17" stroke="#555" stroke-width="0.5" fill="none"/><path d="M29.86,28.20 l0.57,0.35 l0.52,0.12" stroke="#555" stroke-width="0.5" fill="none"/><path d="M7.91,11.89 l0.54,1.15 l0.97,-0.33" stroke="#555" stroke-width="0.5" fill="none"/><path d="M17.96,9.82 l-0.59,0.98 l0.85,0.33" stroke="#555" stroke-width="0.5" fill="none"/><path d="M22.51,13.98 l-0.09,-1.34 l1.06,-0.14" stroke="#555" stroke-width="0.5" fill="none"/><path d="M0.32,7.87 l-0.61,0.90 l0.12,0.86" stroke="#555" stroke-width="0.5" fill="none"/><path d="M13.05,15.08 l0.07,-0.67 l-0.18,-0.51" stroke="#555" stroke-width="0.5" fill="none"/><path d="M7.09,12.77 l-0.51,0.64 l-0.51,-0.40" stroke="#555" stroke-width="0.5" fill="none"/><path d="M0.04,1.07 l-0.10,-0.79 l0.62,-0.12" stroke="#555" stroke-width="0.5" fill="none"/><path d="M19.09,24.91 l1.22,-0.36 l0.18,1.00" stroke="#555" stroke-width="0.5" fill="none"/><path d="M5.28,6.08 l0.59,0.09 l0.16,0.45" stroke="#555" stroke-width="0.5" fill="none"/><path d="M21.22,8.99 l0.42,0.54 l0.32,0.45" stroke="#555" stroke-width="0.5" fill="none"/><path d="M29.67,0.04 l-1.14,-0.46 l-0.86,0.48" stroke="#555" stroke-width="0.5" fill="none"/><path d="M4.71,27.56 l0.17,-0.88 l0.70,0.18" stroke="#555" stroke-width="0.5" fill="none"/><path d="M13.56,25.24 l-0.30,-0.97 l-0.57,-0.58" stroke="#555" stroke-width="0.5" fill="none"/><path d="M2.86,11.15 l-0.12,-0.88 l-0.52,-0.49" stroke="#555" stroke-width="0.5" fill="none"/><path d="M9.85,2.42 l0.80,-0.87 l0.87,-0.36" stroke="#555" stroke-width="0.5" fill="none"/><path d="M25.30,18.12 l-1.17,0.72 l-0.04,1.09" stroke="#555" stroke-width="0.5" fill="none"/><path d="M22.41,29.31 l0.58,0.58 l0.62,0.20" stroke="#555" stroke-width="0.5" fill="none"/><path d="M21.91,15.61 l-1.14,0.83 l-0.68,0.90" stroke="#555" stroke-width="0.5" fill="none"/><path d="M6.71,0.95 l1.47,-0.27 l0.06,1.19" stroke="#555" stroke-width="0.5" fill="none"/><path d="M17.75,16.22 l1.03,-0.35 l0.57,-0.66" stroke="#555" stroke-width="0.5" fill="none"/><path d="M19.79,7.26 l-0.77,-0.04 l-0.38,0.49" stroke="#555" stroke-width="0.5" fill="none"/><path d="M11.39,20.86 l0.27,-0.60 l0.21,-0.48" stroke="#555" stroke-width="0.5" fill="none"/><path d="M25.31,2.90 l0.11,1.17 l0.69,0.64" stroke="#555" stroke-width="0.5" fill="none"/><path d="M27.07,0.99 l-0.51,-1.00 l-0.87,-0.24" stroke="#555" stroke-width="0.5" fill="none"/><path d="M21.76,8.79 l0.93,0.50 l0.40,-0.75" stroke="#555" stroke-width="0.5" fill="none"/><path d="M17.34,6.23 l-1.47,0.08 l-0.96,-0.67" stroke="#555" stroke-width="0.5" fill="none"/><path d="M16.81,23.71 l-0.98,0.54 l-0.42,-0.79" stroke="#555" stroke-width="0.5" fill="none"/><path d="M29.30,0.20 l-0.88,-0.92 l0.48,-0.90" stroke="#555" stroke-width="0.5" fill="none"/><path d="M15.57,3.46 l-0.74,0.40 l-0.60,0.31" stroke="#555" stroke-width="0.5" fill="none"/><path d="M3.72,3.53 l0.96,-0.34 l0.62,0.53" stroke="#555" stroke-width="0.5" fill="none"/><path d="M18.34,11.90 l-1.11,-0.87 l-0.93,0.64" stroke="#555" stroke-width="0.5" fill="none"/><path d="M20.49,28.88 l1.10,-0.14 l-0.15,-0.88" stroke="#555" stroke-width="0.5" fill="none"/><path d="M20.79,14.44 l0.81,-0.13 l0.03,-0.65" stroke="#555" stroke-width="0.5" fill="none"/><path d="M2.88,16.92 l-0.65,-0.81 l0.51,-0.65" stroke="#555" stroke-width="0.5" fill="none"/><path d="M29.71,4.21 l-0.98,-0.18 l-0.21,0.77" stroke="#555" stroke-width="0.5" fill="none"/><path d="M5.84,16.58 l-0.78,0.36 l0.29,0.62" stroke="#555" stroke-width="0.5" fill="none"/><path d="M21.17,26.75 l0.78,1.14 l0.90,0.64" stroke="#555" stroke-width="0.5" fill="none"/><path d="M27.88,28.45 l0.61,-0.15 l0.40,0.30" stroke="#555" stroke-width="0.5" fill="none"/><path d="M1.26,1.27 l-0.75,-0.40 l0.37,-0.57" stroke="#555" stroke-width="0.5" fill="none"/><path d="M15.47,8.31 l-1.03,-0.09 l0.07,0.83" stroke="#555" stroke-width="0.5" fill="none"/><path d="M26.34,17.98 l-0.29,-1.32 l0.77,-0.76" stroke="#555" stroke-width="0.5" fill="none"/><path d="M0.45,20.66 l-0.82,-0.87 l-0.43,-0.85" stroke="#555" stroke-width="0.5" fill="none"/><path d="M26.28,2.46 l-0.95,0.91 l-0.41,0.97" stroke="#555" stroke-width="0.5" fill="none"/><path d="M27.88,27.79 l-1.15,-0.48 l-0.38,0.92" stroke="#555" stroke-width="0.5" fill="none"/><path d="M8.49,15.95 l1.18,0.01 l0.94,0.07" stroke="#555" stroke-width="0.5" fill="none"/><path d="M4.18,19.98 l-0.63,0.21 l-0.13,0.52" stroke="#555" stroke-width="0.5" fill="none"/><path d="M5.65,15.74 l-0.96,-0.09 l-0.07,-0.77" stroke="#555" stroke-width="0.5" fill="none"/><path d="M1.13,24.86 l-0.72,0.25 l-0.24,0.56" stroke="#555" stroke-width="0.5" fill="none"/><path d="M7.21,29.81 l-0.75,-0.42 l-0.66,0.18" stroke="#555" stroke-width="0.5" fill="none"/><path d="M27.10,7.94 l0.52,-0.73 l-0.65,-0.31" stroke="#555" stroke-width="0.5" fill="none"/><path d="M0.13,27.28 l1.27,-0.52 l1.07,-0.26" stroke="#555" stroke-width="0.5" fill="none"/><path d="M0.46,16.14 l-0.01,1.01 l-0.79,0.18" stroke="#555" stroke-width="0.5" fill="none"/><path d="M5.60,21.08 l0.45,0.45 l0.43,-0.28" stroke="#555" stroke-width="0.5" fill="none"/><path d="M11.27,3.38 l-0.04,-0.99 l-0.06,-0.79" stroke="#555" stroke-width="0.5" fill="none"/><path d="M6.54,17.38 l0.70,0.11 l0.28,-0.49" stroke="#555" stroke-width="0.5" fill="none"/><path d="M9.13,25.07 l-0.18,0.77 l-0.09,0.62" stroke="#555" stroke-width="0.5" fill="none"/><path d="M0.10,10.77 l-0.85,-0.73 l0.41,-0.80" stroke="#555" stroke-width="0.5" fill="none"/><path d="M13.71,16.21 l0.72,0.81 l-0.54,0.68" stroke="#555" stroke-width="0.5" fill="none"/><path d="M18.10,1.79 l-1.08,0.68 l0.65,0.79" stroke="#555" stroke-width="0.5" fill="none"/><path d="M27.42,23.23 l-0.89,-0.93 l-0.73,-0.72" stroke="#555" stroke-width="0.5" fill="none"/><path d="M19.56,14.56 l-0.23,-0.74 l-0.51,-0.34" stroke="#555" stroke-width="0.5" fill="none"/><path d="M8.89,16.95 l0.73,-0.73 l0.64,-0.52" stroke="#555" stroke-width="0.5" fill="none"/><path d="M26.91,4.43 l-0.14,1.18 l-0.89,0.34" stroke="#555" stroke-width="0.5" fill="none"/><path d="M15.92,7.66 l0.38,-0.99 l-0.82,-0.20" stroke="#555" stroke-width="0.5" fill="none"/><path d="M4.09,24.52 l-0.22,0.67 l0.25,0.51" stroke="#555" stroke-width="0.5" fill="none"/><path d="M23.41,3.61 l-1.03,0.88 l-0.55,0.93" stroke="#555" stroke-width="0.5" fill="none"/><path d="M13.16,3.44 l0.43,0.72 l0.66,0.12" stroke="#555" stroke-width="0.5" fill="none"/><path d="M7.59,3.46 l-0.08,1.14 l-0.91,-0.09" stroke="#555" stroke-width="0.5" fill="none"/><path d="M10.91,15.38 l0.37,0.88 l0.75,0.13" stroke="#555" stroke-width="0.5" fill="none"/><path d="M10.81,4.71 l1.14,-0.68 l-0.18,-1.05" stroke="#555" stroke-width="0.5" fill="none"/><path d="M0.99,13.31 l-0.85,1.12 l0.46,1.03" stroke="#555" stroke-width="0.5" fill="none"/><path d="M26.60,26.67 l-1.38,-0.18 l-0.34,-1.06" stroke="#555" stroke-width="0.5" fill="none"/><path d="M4.50,26.52 l0.95,-0.30 l0.55,0.58" stroke="#555" stroke-width="0.5" fill="none"/><path d="M1.86,27.31 l1.49,-0.10 l0.22,1.18" stroke="#555" stroke-width="0.5" fill="none"/><path d="M21.49,19.18 l-0.92,0.42 l-0.59,0.55" stroke="#555" stroke-width="0.5" fill="none"/><path d="M5.29,1.07 l-0.93,1.13 l0.83,0.83" stroke="#555" stroke-width="0.5" fill="none"/><path d="M10.61,17.13 l0.30,-1.38 l0.60,-0.96" stroke="#555" stroke-width="0.5" fill="none"/><path d="M15.20,26.94 l-0.22,1.09 l0.03,0.89" stroke="#555" stroke-width="0.5" fill="none"/><path d="M12.42,10.68 l-1.40,0.04 l-0.12,-1.12" stroke="#555" stroke-width="0.5" fill="none"/><path d="M2.28,12.91 l0.21,1.44 l-0.09,1.16" stroke="#555" stroke-width="0.5" fill="none"/><path d="M17.69,12.63 l0.47,0.87 l0.71,0.36" stroke="#555" stroke-width="0.5" fill="none"/><path d="M25.20,22.46 l-0.42,0.83 l0.32,0.67" stroke="#555" stroke-width="0.5" fill="none"/><path d="M28.28,19.89 l-0.60,-0.49 l0.44,-0.42" stroke="#555" stroke-width="0.5" fill="none"/><path d="M26.44,4.68 l0.09,1.39 l1.11,-0.10" stroke="#555" stroke-width="0.5" fill="none"/><path d="M14.77,10.88 l-0.10,-1.03 l-0.29,-0.77" stroke="#555" stroke-width="0.5" fill="none"/><path d="M7.54,11.39 l0.68,0.02 l0.46,0.28" stroke="#555" stroke-width="0.5" fill="none"/><path d="M14.62,4.58 l-0.99,-0.49 l-0.77,0.45" stroke="#555" stroke-width="0.5" fill="none"/><path d="M10.78,11.51 l0.08,0.85 l-0.12,0.68" stroke="#555" stroke-width="0.5" fill="none"/><path d="M3.29,25.77 l-0.45,0.62 l-0.60,0.14" stroke="#555" stroke-width="0.5" fill="none"/><path d="M4.05,19.83 l1.37,0.17 l0.53,-0.97" stroke="#555" stroke-width="0.5" fill="none"/><path d="M4.99,15.76 l-0.54,-0.83 l-0.72,-0.33" stroke="#555" stroke-width="0.5" fill="none"/><path d="M14.34,23.81 l-0.74,-0.21 l-0.05,-0.62" stroke="#555" stroke-width="0.5" fill="none"/><path d="M3.98,16.56 l0.16,0.84 l0.65,-0.23" stroke="#555" stroke-width="0.5" fill="none"/><path d="M16.90,2.78 l1.27,-0.13 l0.21,1.00" stroke="#555" stroke-width="0.5" fill="none"/><path d="M14.58,25.96 l0.72,0.74 l-0.04,0.82" stroke="#555" stroke-width="0.5" fill="none"/><path d="M16.18,4.64 l-0.04,1.26 l1.01,-0.07" stroke="#555" stroke-width="0.5" fill="none"/><path d="M0.10,22.04 l-0.20,1.09 l0.68,0.57" stroke="#555" stroke-width="0.5" fill="none"/><path d="M7.19,28.70 l1.32,-0.45 l1.01,-0.48" stroke="#555" stroke-width="0.5" fill="none"/><path d="M8.31,21.96 l-1.18,0.55 l-0.83,0.63" stroke="#555" stroke-width="0.5" fill="none"/><path d="M18.75,13.66 l-0.71,-0.65 l-0.59,-0.49" stroke="#555" stroke-width="0.5" fill="none"/><path d="M3.48,15.74 l0.69,-0.13 l0.03,-0.56" stroke="#555" stroke-width="0.5" fill="none"/><path d="M4.05,5.44 l-0.00,-1.39 l-0.61,-0.93" stroke="#555" stroke-width="0.5" fill="none"/><path d="M9.11,4.12 l-1.20,0.50 l-0.46,-0.93" stroke="#555" stroke-width="0.5" fill="none"/><path d="M12.96,25.00 l0.55,1.32 l-0.29,1.11" stroke="#555" stroke-width="0.5" fill="none"/><path d="M7.45,14.61 l-0.22,-1.33 l-0.75,-0.77" stroke="#555" stroke-width="0.5" fill="none"/><path d="M21.88,27.48 l0.31,0.63 l0.55,0.09" stroke="#555" stroke-width="0.5" fill="none"/><path d="M21.97,28.91 l-0.25,-1.39 l-0.27,-1.09" stroke="#555" stroke-width="0.5" fill="none"/><path d="M16.82,15.30 l-1.06,0.60 l0.58,0.78" stroke="#555" stroke-width="0.5" fill="none"/><path d="M5.14,8.19 l-0.17,0.73 l0.59,0.11" stroke="#555" stroke-width="0.5" fill="none"/><path d="M6.59,2.77 l-0.86,0.97 l-1.03,-0.10" stroke="#555" stroke-width="0.5" fill="none"/><path d="M5.30,8.47 l-0.22,0.62 l-0.51,-0.12" stroke="#555" stroke-width="0.5" fill="none"/><path d="M22.07,13.42 l0.07,0.96 l0.74,-0.23" stroke="#555" stroke-width="0.5" fill="none"/><path d="M3.14,13.63 l0.29,0.90 l-0.43,0.62" stroke="#555" stroke-width="0.5" fill="none"/><path d="M24.02,22.77 l0.61,1.37 l-1.08,0.53" stroke="#555" stroke-width="0.5" fill="none"/><path d="M8.97,16.71 l0.86,0.50 l0.66,0.45" stroke="#555" stroke-width="0.5" fill="none"/><path d="M24.59,3.03 l0.77,0.64 l0.80,-0.05" stroke="#555" stroke-width="0.5" fill="none"/><path d="M0.92,21.52 l1.24,0.55 l0.36,1.02" stroke="#555" stroke-width="0.5" fill="none"/><path d="M3.93,23.60 l-0.99,-0.29 l-0.79,0.22" stroke="#555" stroke-width="0.5" fill="none"/><path d="M12.76,9.71 l-0.54,0.67 l-0.67,0.15" stroke="#555" stroke-width="0.5" fill="none"/><path d="M2.28,22.99 l-0.31,1.31 l1.06,0.16" stroke="#555" stroke-width="0.5" fill="none"/><path d="M24.21,5.47 l-1.21,0.22 l-0.79,0.58" stroke="#555" stroke-width="0.5" fill="none"/><path d="M11.18,9.38 l-0.73,0.47 l-0.45,0.53" stroke="#555" stroke-width="0.5" fill="none"/><path d="M7.14,0.22 l0.37,-0.90 l-0.46,-0.63" stroke="#555" stroke-width="0.5" fill="none"/><path d="M15.86,14.85 l0.74,-0.08 l-0.08,-0.59" stroke="#555" stroke-width="0.5" fill="none"/><path d="M10.41,27.51 l0.76,0.21 l0.42,-0.47" stroke="#555" stroke-width="0.5" fill="none"/><path d="M25.29,9.76 l-1.00,0.43 l-0.34,-0.80" stroke="#555" stroke-width="0.5" fill="none"/><path d="M18.89,21.70 l-0.36,0.67 l-0.56,-0.24" stroke="#555" stroke-width="0.5" fill="none"/><path d="M16.45,18.10 l-0.71,0.65 l-0.71,0.31" stroke="#555" stroke-width="0.5" fill="none"/><path d="M19.88,5.14 l0.84,0.28 l-0.32,0.63" stroke="#555" stroke-width="0.5" fill="none"/><path d="M6.33,11.91 l0.86,0.29 l-0.05,0.73" stroke="#555" stroke-width="0.5" fill="none"/><path d="M24.25,9.61 l0.99,-0.06 l0.10,0.79" stroke="#555" stroke-width="0.5" fill="none"/><path d="M9.11,9.23 l1.25,-0.10 l0.95,-0.31" stroke="#555" stroke-width="0.5" fill="none"/><path d="M23.91,14.35 l0.94,-0.85 l-0.12,-1.00" stroke="#555" stroke-width="0.5" fill="none"/><path d="M17.51,29.26 l-0.92,0.23 l-0.40,-0.64" stroke="#555" stroke-width="0.5" fill="none"/><path d="M15.76,2.27 l-0.72,-0.30 l-0.58,0.24" stroke="#555" stroke-width="0.5" fill="none"/><path d="M6.84,17.02 l-0.65,-0.31 l-0.40,0.42" stroke="#555" stroke-width="0.5" fill="none"/><path d="M17.29,19.39 l0.58,0.25 l0.27,-0.43" stroke="#555" stroke-width="0.5" fill="none"/><path d="M17.81,1.36 l-0.08,0.90 l0.70,0.17" stroke="#555" stroke-width="0.5" fill="none"/><path d="M20.64,28.65 l-0.65,-0.85 l0.76,-0.40" stroke="#555" stroke-width="0.5" fill="none"/><path d="M11.30,28.71 l0.38,0.68 l-0.06,0.62" stroke="#555" stroke-width="0.5" fill="none"/><path d="M5.72,28.04 l-0.61,0.44 l-0.31,-0.51" stroke="#555" stroke-width="0.5" fill="none"/><path d="M22.30,18.43 l-1.01,-0.58 l-0.83,0.41" stroke="#555" stroke-width="0.5" fill="none"/><path d="M11.50,22.15 l0.71,-0.84 l0.78,-0.41" stroke="#555" stroke-width="0.5" fill="none"/><path d="M17.27,6.91 l0.06,0.73 l-0.54,0.22" stroke="#555" stroke-width="0.5" fill="none"/><path d="M19.53,23.21 l0.84,-0.81 l0.10,-0.93" stroke="#555" stroke-width="0.5" fill="none"/><path d="M3.36,16.35 l1.17,0.75 l-0.26,1.08" stroke="#555" stroke-width="0.5" fill="none"/><path d="M4.46,10.55 l-1.27,-0.26 l-1.03,-0.07" stroke="#555" stroke-width="0.5" fill="none"/><path d="M27.95,5.33 l-0.62,-0.27 l-0.42,0.34" stroke="#555" stroke-width="0.5" fill="none"/><path d="M4.07,8.40 l-0.96,0.78 l0.72,0.68" stroke="#555" stroke-width="0.5" fill="none"/><path d="M27.32,5.52 l-0.37,-0.64 l-0.47,0.35" stroke="#555" stroke-width="0.5" fill="none"/><path d="M13.93,13.82 l0.70,-0.21 l0.27,0.52" stroke="#555" stroke-width="0.5" fill="none"/><path d="M13.02,29.31 l0.87,0.56 l-0.32,0.77" stroke="#555" stroke-width="0.5" fill="none"/><path d="M10.18,10.69 l0.25,0.79 l0.58,0.31" stroke="#555" stroke-width="0.5" fill="none"/><path d="M5.04,20.67 l0.71,-0.34 l0.32,-0.54" stroke="#555" stroke-width="0.5" fill="none"/><path d="M14.10,16.00 l-1.19,-0.77 l0.15,-1.12" stroke="#555" stroke-width="0.5" fill="none"/><path d="M1.84,10.36 l0.11,-1.31 l-0.46,-0.94" stroke="#555" stroke-width="0.5" fill="none"/><path d="M26.35,2.16 l-0.47,0.92 l0.48,0.67" stroke="#555" stroke-width="0.5" fill="none"/><path d="M19.82,0.56 l1.20,-0.43 l0.15,-1.01" stroke="#555" stroke-width="0.5" fill="none"/><path d="M25.48,16.84 l0.76,-1.28 l-0.60,-1.03" stroke="#555" stroke-width="0.5" fill="none"/><path d="M27.35,4.42 l0.56,0.58 l0.60,0.24" stroke="#555" stroke-width="0.5" fill="none"/><path d="M15.04,19.89 l0.03,1.19 l-0.36,0.88" stroke="#555" stroke-width="0.5" fill="none"/><path d="M13.06,29.23 l-0.68,0.33 l0.34,0.50" stroke="#555" stroke-width="0.5" fill="none"/><path d="M13.65,11.27 l-0.38,-1.17 l-0.97,-0.19" stroke="#555" stroke-width="0.5" fill="none"/><path d="M5.33,4.76 l-0.29,0.82 l-0.67,0.20" stroke="#555" stroke-width="0.5" fill="none"/><path d="M14.51,2.77 l0.62,-0.56 l0.33,0.58" stroke="#555" stroke-width="0.5" fill="none"/><path d="M22.27,17.70 l0.13,0.75 l0.20,0.58" stroke="#555" stroke-width="0.5" fill="none"/><path d="M25.39,16.04 l-0.52,-1.13 l0.28,-0.96" stroke="#555" stroke-width="0.5" fill="none"/><path d="M23.31,29.38 l-0.37,-1.05 l-0.73,-0.50" stroke="#555" stroke-width="0.5" fill="none"/><path d="M29.31,6.08 l-0.25,0.88 l0.18,0.71" stroke="#555" stroke-width="0.5" fill="none"/><path d="M0.02,22.77 l-0.61,0.44 l-0.34,0.50" stroke="#555" stroke-width="0.5" fill="none"/><path d="M23.57,29.58 l-0.93,-0.59 l-0.52,0.71" stroke="#555" stroke-width="0.5" fill="none"/><path d="M24.60,28.01 l0.82,-0.81 l0.31,-0.87" stroke="#555" stroke-width="0.5" fill="none"/><path d="M10.13,23.98 l0.22,0.58 l0.43,-0.25" stroke="#555" stroke-width="0.5" fill="none"/><path d="M22.59,29.15 l0.66,0.68 l-0.44,0.61" stroke="#555" stroke-width="0.5" fill="none"/><path d="M14.61,6.61 l0.35,-1.45 l-1.19,-0.13" stroke="#555" stroke-width="0.5" fill="none"/><path d="M16.15,12.33 l-1.14,0.04 l-0.81,0.41" stroke="#555" stroke-width="0.5" fill="none"/><path d="M13.69,17.94 l0.80,-0.47 l0.48,0.57" stroke="#555" stroke-width="0.5" fill="none"/><path d="M28.28,19.14 l-0.17,-1.35 l-0.54,-0.94" stroke="#555" stroke-width="0.5" fill="none"/><path d="M17.13,14.78 l0.94,0.95 l0.76,-0.75" stroke="#555" stroke-width="0.5" fill="none"/><path d="M12.81,14.24 l-0.20,-0.66 l0.06,-0.55" stroke="#555" stroke-width="0.5" fill="none"/><path d="M0.84,18.14 l-0.17,-1.44 l-1.12,0.27" stroke="#555" stroke-width="0.5" fill="none"/><path d="M23.60,29.24 l-0.13,1.43 l-1.09,0.37" stroke="#555" stroke-width="0.5" fill="none"/><path d="M8.86,13.61 l-0.61,-1.29 l-0.09,-1.14" stroke="#555" stroke-width="0.5" fill="none"/><path d="M7.96,3.52 l-0.07,1.01 l0.53,0.61" stroke="#555" stroke-width="0.5" fill="none"/><path d="M14.94,11.41 l0.56,0.24 l0.24,0.42" stroke="#555" stroke-width="0.5" fill="none"/><path d="M12.22,26.86 l0.89,-0.32 l-0.19,-0.74" stroke="#555" stroke-width="0.5" fill="none"/><path d="M26.47,26.33 l0.22,-1.33 l-1.08,0.06" stroke="#555" stroke-width="0.5" fill="none"/><path d="M11.32,20.20 l0.56,-0.84 l-0.08,-0.81" stroke="#555" stroke-width="0.5" fill="none"/><path d="M15.55,23.13 l0.46,0.76 l0.71,0.03" stroke="#555" stroke-width="0.5" fill="none"/><path d="M5.09,5.53 l0.93,0.12 l0.53,-0.53" stroke="#555" stroke-width="0.5" fill="none"/><path d="M24.17,25.22 l0.35,1.07 l0.46,0.77" stroke="#555" stroke-width="0.5" fill="none"/><path d="M19.59,13.24 l1.11,-0.39 l0.24,0.91" stroke="#555" stroke-width="0.5" fill="none"/><path d="M24.46,17.16 l0.73,1.14 l-0.72,0.80" stroke="#555" stroke-width="0.5" fill="none"/><path d="M14.74,23.23 l-0.93,0.87 l-0.85,0.55" stroke="#555" stroke-width="0.5" fill="none"/><path d="M7.70,1.21 l-0.79,0.53 l-0.74,0.15" stroke="#555" stroke-width="0.5" fill="none"/><path d="M24.38,9.34 l-0.19,-0.72 l-0.59,0.06" stroke="#555" stroke-width="0.5" fill="none"/></pattern><pattern id="grd" width="2" height="2" patternUnits="userSpaceOnUse"><rect width="2" height="2" fill="#8a8a8a"/><rect x="0" y="0" width="1" height="1" fill="#555"/></pattern><pattern id="cb" width="12" height="12" patternUnits="userSpaceOnUse"><rect width="12" height="12" fill="#444"/><ellipse cx="3" cy="3" rx="2.6" ry="2.3" fill="#fff"/><ellipse cx="9" cy="3.5" rx="2.4" ry="2.6" fill="#fff"/><ellipse cx="6" cy="9" rx="2.7" ry="2.4" fill="#fff"/><ellipse cx="0.2" cy="9" rx="2.2" ry="2.4" fill="#fff"/><ellipse cx="12.2" cy="9" rx="2.2" ry="2.4" fill="#fff"/></pattern><pattern id="hb" width="16" height="16" patternUnits="userSpaceOnUse"><rect width="16" height="16" fill="#fff"/><path d="M0,8 L8,0 L16,8 M0,16 L8,8 L16,16 M4,4 L12,12 M12,4 L4,12 M-4,4 L4,12 M12,12 L20,4" stroke="#555" stroke-width="0.6" fill="none"/></pattern><pattern id="hb2" width="30.0" height="30.0" patternUnits="userSpaceOnUse" patternTransform="rotate(45)"><rect width="30.0" height="30.0" fill="#fff"/><rect x="-7.5" y="0.0" width="7.5" height="15.0" fill="none" stroke="#808080" stroke-width="0.5"/><rect x="-7.5" y="-7.5" width="15.0" height="7.5" fill="none" stroke="#808080" stroke-width="0.5"/><rect x="7.5" y="-15.0" width="7.5" height="15.0" fill="none" stroke="#808080" stroke-width="0.5"/><rect x="-15.0" y="15.0" width="15.0" height="7.5" fill="none" stroke="#808080" stroke-width="0.5"/><rect x="0.0" y="7.5" width="7.5" height="15.0" fill="none" stroke="#808080" stroke-width="0.5"/><rect x="0.0" y="0.0" width="15.0" height="7.5" fill="none" stroke="#808080" stroke-width="0.5"/><rect x="15.0" y="-7.5" width="7.5" height="15.0" fill="none" stroke="#808080" stroke-width="0.5"/><rect x="-7.5" y="30.0" width="7.5" height="15.0" fill="none" stroke="#808080" stroke-width="0.5"/><rect x="-7.5" y="22.5" width="15.0" height="7.5" fill="none" stroke="#808080" stroke-width="0.5"/><rect x="7.5" y="15.0" width="7.5" height="15.0" fill="none" stroke="#808080" stroke-width="0.5"/><rect x="7.5" y="7.5" width="15.0" height="7.5" fill="none" stroke="#808080" stroke-width="0.5"/><rect x="22.5" y="0.0" width="7.5" height="15.0" fill="none" stroke="#808080" stroke-width="0.5"/><rect x="22.5" y="-7.5" width="15.0" height="7.5" fill="none" stroke="#808080" stroke-width="0.5"/><rect x="0.0" y="30.0" width="15.0" height="7.5" fill="none" stroke="#808080" stroke-width="0.5"/><rect x="15.0" y="22.5" width="7.5" height="15.0" fill="none" stroke="#808080" stroke-width="0.5"/><rect x="15.0" y="15.0" width="15.0" height="7.5" fill="none" stroke="#808080" stroke-width="0.5"/><rect x="30.0" y="7.5" width="7.5" height="15.0" fill="none" stroke="#808080" stroke-width="0.5"/><rect x="30.0" y="0.0" width="15.0" height="7.5" fill="none" stroke="#808080" stroke-width="0.5"/><rect x="22.5" y="30.0" width="7.5" height="15.0" fill="none" stroke="#808080" stroke-width="0.5"/><rect x="22.5" y="22.5" width="15.0" height="7.5" fill="none" stroke="#808080" stroke-width="0.5"/><rect x="30.0" y="30.0" width="15.0" height="7.5" fill="none" stroke="#808080" stroke-width="0.5"/></pattern></defs><rect width="740" height="444" fill="#fff"/><line x1="50" y1="62" x2="690" y2="62" stroke="#9a9a9a" stroke-width="0.6" /><line x1="50" y1="72.2" x2="690" y2="72.2" stroke="#9a9a9a" stroke-width="0.6" /><line x1="50" y1="59" x2="50" y2="83" stroke="#9a9a9a" stroke-width="0.6" /><line x1="690" y1="59" x2="690" y2="83" stroke="#9a9a9a" stroke-width="0.6" /><line x1="297.3" y1="70" x2="297.3" y2="83" stroke="#9a9a9a" stroke-width="0.6" /><line x1="306.3" y1="70" x2="306.3" y2="83" stroke="#9a9a9a" stroke-width="0.6" /><line x1="423" y1="70" x2="423" y2="83" stroke="#9a9a9a" stroke-width="0.6" /><line x1="428" y1="70" x2="428" y2="83" stroke="#9a9a9a" stroke-width="0.6" /><line x1="511.5" y1="70" x2="511.5" y2="83" stroke="#9a9a9a" stroke-width="0.6" /><line x1="514" y1="70" x2="514" y2="83" stroke="#9a9a9a" stroke-width="0.6" /><line x1="584.6" y1="70" x2="584.6" y2="83" stroke="#9a9a9a" stroke-width="0.6" /><line x1="593.5" y1="70" x2="593.5" y2="83" stroke="#9a9a9a" stroke-width="0.6" /><line x1="48.7" y1="73.5" x2="51.3" y2="70.9" stroke="#444" stroke-width="0.6" /><line x1="296.0" y1="73.5" x2="298.6" y2="70.9" stroke="#444" stroke-width="0.6" /><line x1="305.0" y1="73.5" x2="307.6" y2="70.9" stroke="#444" stroke-width="0.6" /><line x1="421.7" y1="73.5" x2="424.3" y2="70.9" stroke="#444" stroke-width="0.6" /><line x1="426.7" y1="73.5" x2="429.3" y2="70.9" stroke="#444" stroke-width="0.6" /><line x1="510.2" y1="73.5" x2="512.8" y2="70.9" stroke="#444" stroke-width="0.6" /><line x1="512.7" y1="73.5" x2="515.3" y2="70.9" stroke="#444" stroke-width="0.6" /><line x1="583.3000000000001" y1="73.5" x2="585.9" y2="70.9" stroke="#444" stroke-width="0.6" /><line x1="592.2" y1="73.5" x2="594.8" y2="70.9" stroke="#444" stroke-width="0.6" /><line x1="688.7" y1="73.5" x2="691.3" y2="70.9" stroke="#444" stroke-width="0.6" /><line x1="48.7" y1="63.3" x2="51.3" y2="60.7" stroke="#444" stroke-width="0.6" /><line x1="688.7" y1="63.3" x2="691.3" y2="60.7" stroke="#444" stroke-width="0.6" /><text x="0" y="0" font-size="6.8" fill="#2a2a2a" text-anchor="middle" dominant-baseline="central" transform="translate(370 66.2) rotate(180) scale(0.75 1)">26125</text><text x="0" y="0" font-size="6.8" fill="#2a2a2a" text-anchor="middle" dominant-baseline="central" transform="translate(172 76.2) rotate(180) scale(0.75 1)">10990</text><text x="0" y="0" font-size="6.8" fill="#2a2a2a" text-anchor="middle" dominant-baseline="central" transform="translate(301.8 76.2) rotate(180) scale(0.75 1)">359</text><text x="0" y="0" font-size="6.8" fill="#2a2a2a" text-anchor="middle" dominant-baseline="central" transform="translate(365 76.2) rotate(180) scale(0.75 1)">4764</text><text x="0" y="0" font-size="6.8" fill="#2a2a2a" text-anchor="middle" dominant-baseline="central" transform="translate(425.5 76.2) rotate(180) scale(0.75 1)">216</text><text x="0" y="0" font-size="6.8" fill="#2a2a2a" text-anchor="middle" dominant-baseline="central" transform="translate(470 76.2) rotate(180) scale(0.75 1)">3411</text><text x="0" y="0" font-size="6.8" fill="#2a2a2a" text-anchor="middle" dominant-baseline="central" transform="translate(512.8 76.2) rotate(180) scale(0.75 1)">133</text><text x="0" y="0" font-size="6.8" fill="#2a2a2a" text-anchor="middle" dominant-baseline="central" transform="translate(549.5 76.2) rotate(180) scale(0.75 1)">2856</text><text x="0" y="0" font-size="6.8" fill="#2a2a2a" text-anchor="middle" dominant-baseline="central" transform="translate(589 76.2) rotate(180) scale(0.75 1)">359</text><text x="0" y="0" font-size="6.8" fill="#2a2a2a" text-anchor="middle" dominant-baseline="central" transform="translate(641 76.2) rotate(180) scale(0.75 1)">3937</text><line x1="50.6" y1="368.2" x2="690.3" y2="368.2" stroke="#9a9a9a" stroke-width="0.6" /><line x1="50.6" y1="378.4" x2="690.3" y2="378.4" stroke="#9a9a9a" stroke-width="0.6" /><line x1="50.6" y1="357" x2="50.6" y2="381" stroke="#9a9a9a" stroke-width="0.6" /><line x1="690.3" y1="357" x2="690.3" y2="381" stroke="#9a9a9a" stroke-width="0.6" /><line x1="254.4" y1="357" x2="254.4" y2="370" stroke="#9a9a9a" stroke-width="0.6" /><line x1="262.2" y1="357" x2="262.2" y2="370" stroke="#9a9a9a" stroke-width="0.6" /><line x1="422.5" y1="357" x2="422.5" y2="370" stroke="#9a9a9a" stroke-width="0.6" /><line x1="427.6" y1="357" x2="427.6" y2="370" stroke="#9a9a9a" stroke-width="0.6" /><line x1="511" y1="357" x2="511" y2="370" stroke="#9a9a9a" stroke-width="0.6" /><line x1="516" y1="357" x2="516" y2="370" stroke="#9a9a9a" stroke-width="0.6" /><line x1="585" y1="357" x2="585" y2="370" stroke="#9a9a9a" stroke-width="0.6" /><line x1="593.4" y1="357" x2="593.4" y2="370" stroke="#9a9a9a" stroke-width="0.6" /><line x1="49.300000000000004" y1="369.5" x2="51.9" y2="366.9" stroke="#444" stroke-width="0.6" /><line x1="253.1" y1="369.5" x2="255.70000000000002" y2="366.9" stroke="#444" stroke-width="0.6" /><line x1="260.9" y1="369.5" x2="263.5" y2="366.9" stroke="#444" stroke-width="0.6" /><line x1="421.2" y1="369.5" x2="423.8" y2="366.9" stroke="#444" stroke-width="0.6" /><line x1="426.3" y1="369.5" x2="428.90000000000003" y2="366.9" stroke="#444" stroke-width="0.6" /><line x1="509.7" y1="369.5" x2="512.3" y2="366.9" stroke="#444" stroke-width="0.6" /><line x1="514.7" y1="369.5" x2="517.3" y2="366.9" stroke="#444" stroke-width="0.6" /><line x1="583.7" y1="369.5" x2="586.3" y2="366.9" stroke="#444" stroke-width="0.6" /><line x1="592.1" y1="369.5" x2="594.6999999999999" y2="366.9" stroke="#444" stroke-width="0.6" /><line x1="689.0" y1="369.5" x2="691.5999999999999" y2="366.9" stroke="#444" stroke-width="0.6" /><text x="0" y="0" font-size="6.8" fill="#2a2a2a" text-anchor="middle" dominant-baseline="central" transform="translate(152 371.6) rotate(180) scale(0.75 1)">8327</text><text x="0" y="0" font-size="6.8" fill="#2a2a2a" text-anchor="middle" dominant-baseline="central" transform="translate(342 371.6) rotate(180) scale(0.75 1)">6533</text><text x="0" y="0" font-size="6.8" fill="#2a2a2a" text-anchor="middle" dominant-baseline="central" transform="translate(470 371.6) rotate(180) scale(0.75 1)">3405</text><text x="0" y="0" font-size="6.8" fill="#2a2a2a" text-anchor="middle" dominant-baseline="central" transform="translate(552 371.6) rotate(180) scale(0.75 1)">2787</text><text x="0" y="0" font-size="6.8" fill="#2a2a2a" text-anchor="middle" dominant-baseline="central" transform="translate(641 371.6) rotate(180) scale(0.75 1)">3937</text><text x="0" y="0" font-size="6.8" fill="#2a2a2a" text-anchor="middle" dominant-baseline="central" transform="translate(370 381.8) rotate(180) scale(0.75 1)">26125</text><line x1="20.3" y1="90" x2="20.3" y2="350" stroke="#9a9a9a" stroke-width="0.6" /><line x1="32" y1="90" x2="32" y2="172.5" stroke="#9a9a9a" stroke-width="0.6" /><line x1="32" y1="178" x2="32" y2="275" stroke="#9a9a9a" stroke-width="0.6" /><line x1="32" y1="281" x2="32" y2="350" stroke="#9a9a9a" stroke-width="0.6" /><line x1="17" y1="90" x2="44" y2="90" stroke="#9a9a9a" stroke-width="0.6" /><line x1="17" y1="350" x2="44" y2="350" stroke="#9a9a9a" stroke-width="0.6" /><line x1="30" y1="172.5" x2="44" y2="172.5" stroke="#9a9a9a" stroke-width="0.6" /><line x1="30" y1="178" x2="44" y2="178" stroke="#9a9a9a" stroke-width="0.6" /><line x1="30" y1="275" x2="44" y2="275" stroke="#9a9a9a" stroke-width="0.6" /><line x1="30" y1="281" x2="44" y2="281" stroke="#9a9a9a" stroke-width="0.6" /><line x1="30.7" y1="91.3" x2="33.3" y2="88.7" stroke="#444" stroke-width="0.6" /><line x1="30.7" y1="173.8" x2="33.3" y2="171.2" stroke="#444" stroke-width="0.6" /><line x1="30.7" y1="179.3" x2="33.3" y2="176.7" stroke="#444" stroke-width="0.6" /><line x1="30.7" y1="276.3" x2="33.3" y2="273.7" stroke="#444" stroke-width="0.6" /><line x1="30.7" y1="282.3" x2="33.3" y2="279.7" stroke="#444" stroke-width="0.6" /><line x1="30.7" y1="351.3" x2="33.3" y2="348.7" stroke="#444" stroke-width="0.6" /><line x1="19" y1="91.3" x2="21.6" y2="88.7" stroke="#444" stroke-width="0.6" /><line x1="19" y1="351.3" x2="21.6" y2="348.7" stroke="#444" stroke-width="0.6" /><text x="0" y="0" font-size="6.8" fill="#2a2a2a" text-anchor="middle" dominant-baseline="central" transform="translate(36 131) rotate(90) scale(0.75 1)">3274</text><text x="0" y="0" font-size="6.8" fill="#2a2a2a" text-anchor="middle" dominant-baseline="central" transform="translate(24 220) rotate(90) scale(0.75 1)">10618</text><text x="0" y="0" font-size="6.8" fill="#2a2a2a" text-anchor="middle" dominant-baseline="central" transform="translate(36 227) rotate(90) scale(0.75 1)">3981</text><text x="0" y="0" font-size="6.8" fill="#2a2a2a" text-anchor="middle" dominant-baseline="central" transform="translate(37 316) rotate(90) scale(0.75 1)">2792</text><line x1="707.6" y1="112" x2="707.6" y2="317.6" stroke="#9a9a9a" stroke-width="0.6" /><line x1="720.5" y1="112" x2="720.5" y2="317.6" stroke="#9a9a9a" stroke-width="0.6" /><line x1="697" y1="112" x2="723" y2="112" stroke="#9a9a9a" stroke-width="0.6" /><line x1="697" y1="317.6" x2="723" y2="317.6" stroke="#9a9a9a" stroke-width="0.6" /><line x1="697" y1="185" x2="710" y2="185" stroke="#9a9a9a" stroke-width="0.6" /><line x1="697" y1="190.5" x2="710" y2="190.5" stroke="#9a9a9a" stroke-width="0.6" /><line x1="706.3" y1="113.3" x2="708.9" y2="110.7" stroke="#444" stroke-width="0.6" /><line x1="706.3" y1="186.3" x2="708.9" y2="183.7" stroke="#444" stroke-width="0.6" /><line x1="706.3" y1="191.8" x2="708.9" y2="189.2" stroke="#444" stroke-width="0.6" /><line x1="706.3" y1="318.90000000000003" x2="708.9" y2="316.3" stroke="#444" stroke-width="0.6" /><line x1="719.2" y1="113.3" x2="721.8" y2="110.7" stroke="#444" stroke-width="0.6" /><line x1="719.2" y1="318.90000000000003" x2="721.8" y2="316.3" stroke="#444" stroke-width="0.6" /><text x="0" y="0" font-size="6.8" fill="#2a2a2a" text-anchor="middle" dominant-baseline="central" transform="translate(711.8 149.2) rotate(90) scale(0.75 1)">2996</text><text x="0" y="0" font-size="6.8" fill="#2a2a2a" text-anchor="middle" dominant-baseline="central" transform="translate(722.8 215.5) rotate(90) scale(0.75 1)">8087</text><text x="0" y="0" font-size="6.8" fill="#2a2a2a" text-anchor="middle" dominant-baseline="central" transform="translate(711.8 253) rotate(90) scale(0.75 1)">5178</text><rect x="50.4" y="90" width="143.6" height="73" fill="url(#hl)"/><rect x="62.3" y="102.3" width="44.5" height="31.7" fill="url(#gr)"/><rect x="62.3" y="102.3" width="44.5" height="31.7" stroke="#333" stroke-width="0.6" fill="none" /><circle cx="84.6" cy="119.6" r="8.7" stroke="#222" stroke-width="0.8" fill="#fff"/><line x1="84.6" y1="119.6" x2="92.91142745539277" y2="122.17102579795365" stroke="#333" stroke-width="0.5" /><line x1="84.6" y1="119.6" x2="87.77198134624842" y2="127.70114401421503" stroke="#333" stroke-width="0.5" /><line x1="84.6" y1="119.6" x2="80.24396858675128" y2="127.13093555455033" stroke="#333" stroke-width="0.5" /><line x1="84.6" y1="119.6" x2="75.99613632827786" y2="120.88977901921993" stroke="#333" stroke-width="0.5" /><line x1="84.6" y1="119.6" x2="78.22718890144552" y2="113.67739257571964" stroke="#333" stroke-width="0.5" /><line x1="84.6" y1="119.6" x2="85.2570982134804" y2="110.9248503218768" stroke="#333" stroke-width="0.5" /><line x1="84.6" y1="119.6" x2="91.79219916840373" y2="114.70487271646459" stroke="#333" stroke-width="0.5" /><line x1="70" y1="132" x2="80" y2="123" stroke="#333" stroke-width="0.5" /><circle cx="122" cy="107" r="9" stroke="#333" stroke-width="0.8" fill="#fff"/><circle cx="140.5" cy="107" r="6" stroke="#333" stroke-width="0.8" fill="#fff"/><circle cx="159" cy="107" r="9.3" stroke="#333" stroke-width="0.8" fill="#fff"/><circle cx="179" cy="101.5" r="3.5" stroke="#333" stroke-width="0.6" fill="#fff"/><line x1="173" y1="101.5" x2="185" y2="101.5" stroke="#333" stroke-width="0.5" /><line x1="179" y1="95" x2="179" y2="109" stroke="#333" stroke-width="0.5" /><rect x="86.5" y="164" width="107.5" height="111.8" fill="url(#gr)"/><rect x="110" y="189.5" width="61" height="60.5" fill="#fff"/><rect x="110.0" y="189.5" width="61.0" height="60.5" stroke="#555" stroke-width="0.55" fill="none" /><rect x="113.4" y="192.9" width="54.2" height="53.7" stroke="#555" stroke-width="0.55" fill="none" /><rect x="116.8" y="196.3" width="47.4" height="46.9" stroke="#555" stroke-width="0.55" fill="none" /><rect x="120.2" y="199.7" width="40.6" height="40.1" stroke="#555" stroke-width="0.55" fill="none" /><rect x="123.6" y="203.1" width="33.8" height="33.3" stroke="#555" stroke-width="0.55" fill="none" /><rect x="127.0" y="206.5" width="27.0" height="26.5" stroke="#555" stroke-width="0.55" fill="none" /><rect x="130.4" y="209.9" width="20.200000000000003" height="19.700000000000003" stroke="#555" stroke-width="0.55" fill="none" /><rect x="133.8" y="213.3" width="13.399999999999999" height="12.899999999999999" stroke="#555" stroke-width="0.55" fill="none" /><rect x="137.2" y="216.7" width="6.600000000000001" height="6.100000000000001" stroke="#555" stroke-width="0.55" fill="none" /><line x1="110" y1="189.5" x2="171" y2="250" stroke="#333" stroke-width="0.6" /><line x1="171" y1="189.5" x2="110" y2="250" stroke="#333" stroke-width="0.6" /><rect x="126" y="167" width="29" height="7" stroke="#333" stroke-width="0.7" fill="#fff" /><rect x="126" y="179.5" width="29" height="6.5" stroke="#333" stroke-width="0.7" fill="#fff" /><rect x="126" y="255" width="29" height="7" stroke="#333" stroke-width="0.7" fill="#fff" /><rect x="126" y="266.5" width="29" height="6.5" stroke="#333" stroke-width="0.7" fill="#fff" /><rect x="90.5" y="205.5" width="6.5" height="29" stroke="#333" stroke-width="0.7" fill="#fff" /><rect x="99.5" y="205.5" width="6.5" height="29" stroke="#333" stroke-width="0.7" fill="#fff" /><rect x="174" y="205.5" width="7" height="29" stroke="#333" stroke-width="0.7" fill="#fff" /><rect x="183.5" y="205.5" width="6.5" height="29" stroke="#333" stroke-width="0.7" fill="#fff" /><rect x="53.7" y="166.6" width="29.9" height="106.1" stroke="#555" stroke-width="0.8" fill="#fff" /><line x1="86.5" y1="163.5" x2="86.5" y2="275.8" stroke="#555" stroke-width="0.7" /><line x1="50.4" y1="163.3" x2="194" y2="163.3" stroke="#333" stroke-width="0.8" /><line x1="50.4" y1="275.8" x2="194" y2="275.8" stroke="#777" stroke-width="0.6" /><rect x="52.2" y="279.1" width="139.6" height="68.2" stroke="#555" stroke-width="0.8" fill="#fff" /><rect x="53.4" y="280.3" width="137.2" height="65.8" stroke="#888" stroke-width="0.5" fill="none" /><rect x="194" y="90" width="25" height="259.7" fill="#a2a2a2"/><path d="M210.7,281.9 L207.8,282.9 L207.1,283.3 L206.8,284.1 L206.5,285.8 L206.8,286.9 L208.1,288.4 L208.8,288.6 L210.3,288.5 L213.4,285.3 L213.8,284.7 L213.8,284.0 L213.5,283.4 L213.0,282.9 L210.7,281.9Z" fill="#fff" stroke="#444" stroke-width="0.7"/><path d="M215.4,283.5 L215.4,284.3 L215.9,285.0 L218.8,287.4 L218.8,281.2 L217.4,281.3 L215.8,282.8 L215.4,283.5Z" fill="#fff" stroke="#444" stroke-width="0.7"/><path d="M194.0,214.7 L195.3,214.4 L195.9,213.8 L196.2,213.1 L196.3,212.0 L194.9,207.8 L194.5,207.2 L194.0,206.9 L194.0,214.7Z" fill="#fff" stroke="#444" stroke-width="0.7"/><path d="M214.1,324.6 L213.3,324.2 L210.1,323.7 L209.1,323.8 L207.6,324.9 L207.4,325.4 L207.3,326.1 L209.7,329.5 L210.4,330.0 L211.3,330.1 L214.0,329.3 L214.6,328.9 L215.0,328.2 L215.0,327.5 L214.6,325.3 L214.1,324.6Z" fill="#fff" stroke="#444" stroke-width="0.7"/><path d="M203.2,150.6 L202.8,151.2 L202.0,153.4 L201.9,154.2 L202.3,155.0 L203.0,155.4 L205.7,156.0 L206.5,155.9 L207.2,155.5 L209.6,152.6 L209.9,151.9 L209.9,151.2 L209.5,150.6 L208.6,149.7 L207.9,149.3 L207.1,149.3 L203.8,150.3 L203.2,150.6Z" fill="#fff" stroke="#444" stroke-width="0.7"/><path d="M205.9,92.6 L206.5,93.2 L207.4,93.3 L211.0,92.7 L211.8,92.3 L212.2,91.6 L211.9,90.0 L205.7,90.0 L205.7,91.8 L205.9,92.6Z" fill="#fff" stroke="#444" stroke-width="0.7"/><path d="M202.2,329.7 L201.5,329.3 L199.5,328.6 L198.8,328.5 L198.1,328.8 L197.6,329.3 L197.5,330.0 L197.4,332.6 L197.7,333.5 L198.5,334.1 L201.0,334.9 L201.7,334.9 L202.4,334.6 L202.9,334.0 L202.9,333.3 L202.5,330.5 L202.2,329.7Z" fill="#fff" stroke="#444" stroke-width="0.7"/><path d="M199.6,300.9 L199.8,300.3 L199.6,299.6 L198.8,297.9 L198.3,297.4 L197.5,297.1 L194.0,297.1 L194.0,302.0 L196.0,302.9 L196.8,303.0 L197.5,302.7 L199.6,300.9Z" fill="#fff" stroke="#444" stroke-width="0.7"/><path d="M213.1,122.6 L214.1,121.3 L214.3,120.6 L214.2,120.0 L212.1,117.8 L211.5,117.5 L210.8,117.5 L208.7,117.9 L208.0,118.2 L207.6,118.9 L207.5,119.7 L208.0,121.6 L208.5,122.4 L209.4,122.7 L212.3,122.8 L213.1,122.6Z" fill="#fff" stroke="#444" stroke-width="0.7"/><path d="M218.8,139.0 L217.9,139.2 L215.1,141.2 L214.7,141.8 L214.5,142.5 L214.8,143.2 L215.8,144.9 L216.4,145.4 L217.2,145.5 L218.8,145.4 L218.8,139.0Z" fill="#fff" stroke="#444" stroke-width="0.7"/><path d="M217.6,317.9 L217.1,318.4 L216.9,319.0 L216.8,320.3 L217.0,321.0 L217.5,321.6 L218.8,321.9 L218.8,317.6 L217.6,317.9Z" fill="#fff" stroke="#444" stroke-width="0.7"/><path d="M217.4,227.9 L216.9,228.3 L216.7,229.0 L216.5,231.2 L217.9,233.0 L218.8,233.5 L218.8,227.6 L217.4,227.9Z" fill="#fff" stroke="#444" stroke-width="0.7"/><path d="M197.1,335.1 L196.4,335.5 L196.0,336.1 L195.4,338.1 L195.4,338.8 L195.7,339.4 L197.2,341.4 L197.9,341.9 L198.8,341.9 L199.9,341.6 L200.6,341.1 L201.0,340.4 L201.4,337.6 L201.3,336.9 L201.0,336.3 L200.4,336.0 L197.9,335.1 L197.1,335.1Z" fill="#fff" stroke="#444" stroke-width="0.7"/><path d="M216.6,323.1 L216.0,323.5 L215.7,324.1 L215.7,324.8 L216.1,327.0 L216.4,327.6 L216.9,328.0 L218.8,328.2 L218.8,323.1 L216.6,323.1Z" fill="#fff" stroke="#444" stroke-width="0.7"/><path d="M199.8,129.5 L199.5,130.2 L199.6,131.1 L200.2,131.7 L203.4,133.5 L205.7,133.1 L206.4,132.6 L206.8,131.8 L206.6,131.0 L205.4,128.6 L205.0,128.1 L204.3,127.8 L203.6,127.9 L200.5,129.0 L199.8,129.5Z" fill="#fff" stroke="#444" stroke-width="0.7"/><path d="M195.7,164.7 L195.0,164.3 L194.0,163.9 L194.0,170.0 L195.6,169.0 L196.1,168.4 L196.2,167.6 L196.0,165.5 L195.7,164.7Z" fill="#fff" stroke="#444" stroke-width="0.7"/><path d="M194.7,266.1 L194.0,265.7 L194.0,270.0 L194.8,269.4 L195.3,268.7 L195.3,267.9 L194.7,266.1Z" fill="#fff" stroke="#444" stroke-width="0.7"/><path d="M204.1,302.7 L203.6,302.1 L203.0,301.8 L201.1,301.6 L198.3,303.6 L197.8,304.3 L197.7,305.1 L198.3,307.8 L199.1,308.5 L200.1,308.7 L201.7,308.6 L202.7,308.1 L203.6,307.3 L204.0,306.3 L204.2,303.4 L204.1,302.7Z" fill="#fff" stroke="#444" stroke-width="0.7"/><path d="M203.0,219.9 L203.5,219.4 L205.2,216.5 L205.4,215.7 L205.1,214.9 L203.4,212.6 L202.7,212.1 L201.9,212.0 L197.6,213.3 L196.9,214.4 L196.7,215.1 L197.0,215.9 L199.3,219.6 L199.9,220.1 L200.7,220.3 L203.0,219.9Z" fill="#fff" stroke="#444" stroke-width="0.7"/><path d="M196.1,345.7 L195.5,345.2 L194.0,345.2 L194.0,349.7 L195.2,349.7 L196.4,348.8 L196.6,347.9 L196.4,346.4 L196.1,345.7Z" fill="#fff" stroke="#444" stroke-width="0.7"/><path d="M214.9,315.4 L215.6,315.0 L216.0,314.4 L216.8,311.1 L216.7,310.2 L216.2,309.5 L215.3,309.3 L212.5,309.2 L211.5,309.5 L210.9,310.4 L210.3,313.0 L210.3,313.8 L210.7,314.4 L211.4,314.8 L214.1,315.4 L214.9,315.4Z" fill="#fff" stroke="#444" stroke-width="0.7"/><path d="M211.9,187.4 L212.4,187.9 L213.2,188.1 L214.0,187.8 L218.5,184.7 L218.8,184.3 L218.8,182.6 L218.3,182.2 L216.4,181.1 L215.6,180.9 L214.8,181.2 L212.2,183.1 L211.7,183.6 L211.6,184.3 L211.6,186.6 L211.9,187.4Z" fill="#fff" stroke="#444" stroke-width="0.7"/><path d="M194.6,99.2 L194.8,98.5 L194.6,97.7 L194.0,96.6 L194.0,100.3 L194.6,99.2Z" fill="#fff" stroke="#444" stroke-width="0.7"/><path d="M216.7,341.4 L217.5,341.6 L218.8,341.4 L218.8,335.8 L217.1,335.8 L216.4,336.2 L215.4,337.6 L215.1,338.4 L215.2,339.3 L216.0,340.8 L216.7,341.4Z" fill="#fff" stroke="#444" stroke-width="0.7"/><path d="M206.8,227.2 L207.0,225.7 L206.7,225.0 L203.7,221.8 L203.2,221.4 L202.5,221.3 L199.9,221.7 L197.8,224.3 L197.5,224.9 L197.6,226.1 L198.1,226.9 L201.2,229.7 L202.0,230.0 L202.9,229.8 L206.1,228.1 L206.8,227.2Z" fill="#fff" stroke="#444" stroke-width="0.7"/><path d="M197.1,283.4 L196.5,283.1 L195.7,283.1 L194.0,283.7 L194.0,289.8 L197.4,289.0 L198.0,288.7 L198.4,288.1 L198.7,287.1 L198.6,286.5 L197.6,284.0 L197.1,283.4Z" fill="#fff" stroke="#444" stroke-width="0.7"/><path d="M213.9,92.8 L213.5,93.5 L213.5,94.3 L214.4,98.0 L214.9,98.7 L215.7,99.1 L218.8,99.3 L218.8,92.0 L218.1,91.9 L214.7,92.5 L213.9,92.8Z" fill="#fff" stroke="#444" stroke-width="0.7"/><path d="M194.0,174.2 L194.0,181.5 L194.3,181.6 L195.3,181.5 L196.8,180.5 L197.1,179.7 L197.2,177.1 L197.1,176.3 L196.6,175.7 L194.0,174.2Z" fill="#fff" stroke="#444" stroke-width="0.7"/><path d="M218.8,172.7 L217.4,172.9 L216.9,173.6 L215.5,176.6 L215.4,177.6 L216.1,179.5 L218.8,181.0 L218.8,172.7Z" fill="#fff" stroke="#444" stroke-width="0.7"/><path d="M211.0,169.6 L210.9,168.7 L210.4,168.1 L207.1,166.0 L206.4,165.8 L205.6,165.9 L204.8,166.7 L203.5,169.7 L203.4,170.7 L203.9,171.8 L204.7,172.1 L207.3,172.6 L208.0,172.6 L208.6,172.3 L210.6,170.4 L211.0,169.6Z" fill="#fff" stroke="#444" stroke-width="0.7"/><path d="M198.9,105.2 L198.0,104.9 L194.0,104.8 L194.0,108.5 L198.0,109.8 L198.9,109.8 L199.7,109.3 L200.0,108.6 L200.0,107.9 L199.4,106.0 L198.9,105.2Z" fill="#fff" stroke="#444" stroke-width="0.7"/><path d="M214.0,348.4 L213.3,348.3 L212.4,348.7 L211.2,349.7 L215.4,349.7 L214.0,348.4Z" fill="#fff" stroke="#444" stroke-width="0.7"/><path d="M216.0,205.0 L213.7,205.3 L212.9,205.8 L211.9,207.2 L212.2,208.9 L212.5,209.5 L213.0,209.9 L216.8,211.6 L217.4,211.7 L218.0,211.6 L218.8,211.2 L218.8,207.4 L216.6,205.4 L216.0,205.0Z" fill="#fff" stroke="#444" stroke-width="0.7"/><path d="M194.0,333.7 L195.0,333.8 L195.6,333.6 L196.1,333.0 L196.3,332.4 L196.3,329.2 L196.1,328.4 L195.4,327.8 L194.6,327.7 L194.0,327.8 L194.0,333.7Z" fill="#fff" stroke="#444" stroke-width="0.7"/><path d="M205.1,308.2 L204.4,308.4 L203.9,308.9 L203.7,309.6 L203.9,310.3 L205.5,313.7 L206.1,314.3 L206.9,314.5 L208.2,314.4 L208.7,313.9 L209.0,313.3 L209.5,311.2 L209.5,310.5 L209.2,309.9 L208.6,309.5 L205.8,308.3 L205.1,308.2Z" fill="#fff" stroke="#444" stroke-width="0.7"/><path d="M214.3,111.3 L213.3,111.6 L212.7,112.2 L212.5,112.9 L212.5,116.3 L214.5,118.4 L215.3,118.8 L216.1,118.7 L216.8,118.1 L217.0,117.3 L217.1,113.9 L217.0,113.2 L215.1,111.6 L214.3,111.3Z" fill="#fff" stroke="#444" stroke-width="0.7"/><path d="M194.0,310.7 L194.0,313.2 L195.4,314.6 L196.2,315.0 L197.1,314.8 L198.0,314.2 L198.3,313.5 L198.6,311.0 L198.5,310.2 L198.0,309.6 L197.2,309.3 L196.4,309.5 L194.0,310.7Z" fill="#fff" stroke="#444" stroke-width="0.7"/><path d="M213.8,217.8 L214.5,217.8 L215.0,217.4 L215.4,216.8 L216.2,214.1 L216.3,213.4 L216.0,212.7 L215.4,212.3 L213.2,211.3 L212.6,211.2 L211.9,211.4 L211.4,211.8 L210.1,213.8 L209.8,214.5 L210.0,215.3 L210.5,215.9 L213.1,217.6 L213.8,217.8Z" fill="#fff" stroke="#444" stroke-width="0.7"/><path d="M205.0,173.6 L204.4,174.0 L204.0,174.6 L204.0,175.3 L204.6,178.7 L204.9,179.4 L205.5,179.8 L206.4,179.9 L207.1,179.7 L207.6,179.1 L208.7,177.1 L208.9,176.5 L208.7,175.8 L207.7,174.1 L205.7,173.6 L205.0,173.6Z" fill="#fff" stroke="#444" stroke-width="0.7"/><path d="M204.3,300.5 L204.9,299.9 L206.2,297.0 L205.6,295.0 L205.0,294.3 L204.2,294.0 L202.0,293.9 L201.2,294.1 L200.6,294.6 L199.9,295.9 L199.7,296.6 L199.8,297.4 L201.0,299.7 L201.4,300.2 L203.4,300.7 L204.3,300.5Z" fill="#fff" stroke="#444" stroke-width="0.7"/><path d="M206.9,263.6 L207.2,264.4 L210.0,267.7 L211.3,268.4 L212.0,268.4 L212.6,268.1 L215.8,265.6 L216.3,264.9 L216.4,264.1 L216.0,263.4 L213.7,260.6 L213.2,260.2 L212.5,260.1 L209.2,260.2 L208.5,260.4 L208.0,261.0 L207.0,262.7 L206.9,263.6Z" fill="#fff" stroke="#444" stroke-width="0.7"/><path d="M199.6,277.6 L200.1,278.3 L201.0,278.6 L203.0,278.4 L203.6,278.0 L205.3,275.7 L205.6,274.9 L205.4,274.1 L204.7,273.5 L202.5,272.4 L201.7,272.3 L200.9,272.7 L200.4,273.4 L199.6,276.7 L199.6,277.6Z" fill="#fff" stroke="#444" stroke-width="0.7"/><path d="M200.0,269.4 L200.8,268.8 L202.9,265.8 L203.1,264.9 L202.9,264.1 L202.2,263.5 L199.8,262.6 L198.8,262.6 L198.1,263.1 L196.5,265.1 L196.2,265.7 L196.2,266.4 L196.5,267.7 L196.9,268.4 L197.5,268.8 L199.0,269.4 L200.0,269.4Z" fill="#fff" stroke="#444" stroke-width="0.7"/><path d="M204.8,263.0 L205.4,262.8 L205.9,262.3 L207.2,259.6 L206.1,256.1 L205.6,255.4 L204.8,255.1 L202.2,254.8 L201.4,255.0 L200.7,255.6 L198.8,258.8 L198.6,259.5 L198.8,260.4 L199.1,260.9 L199.6,261.3 L204.1,263.0 L204.8,263.0Z" fill="#fff" stroke="#444" stroke-width="0.7"/><path d="M215.0,273.6 L215.7,273.9 L216.5,273.8 L218.8,272.9 L218.8,265.9 L218.0,265.7 L217.2,266.0 L213.8,268.6 L213.4,269.1 L213.3,269.8 L213.4,270.4 L214.6,273.0 L215.0,273.6Z" fill="#fff" stroke="#444" stroke-width="0.7"/><path d="M208.5,132.3 L208.4,133.0 L208.6,133.8 L209.7,134.8 L210.5,134.9 L214.9,134.2 L215.6,133.8 L216.0,133.1 L216.6,131.0 L216.6,130.1 L216.1,129.4 L215.3,128.8 L214.4,128.5 L213.6,128.8 L209.1,131.7 L208.5,132.3Z" fill="#fff" stroke="#444" stroke-width="0.7"/><path d="M210.3,289.9 L209.0,289.8 L208.3,290.0 L207.7,290.6 L206.4,293.5 L207.1,295.5 L207.6,296.2 L208.5,296.5 L212.4,296.5 L213.0,296.3 L213.6,295.9 L213.8,295.3 L213.9,294.2 L213.6,293.6 L210.8,290.3 L210.3,289.9Z" fill="#fff" stroke="#444" stroke-width="0.7"/><path d="M208.2,252.7 L207.8,253.2 L207.0,254.8 L208.0,258.0 L208.6,258.7 L209.5,259.0 L212.4,258.9 L213.1,258.7 L213.6,258.2 L214.5,256.8 L214.7,256.1 L214.5,255.3 L213.4,252.8 L212.7,252.1 L211.8,252.0 L208.2,252.7Z" fill="#fff" stroke="#444" stroke-width="0.7"/><path d="M196.2,97.7 L196.9,97.9 L198.6,98.0 L199.5,97.7 L200.0,97.0 L200.7,95.3 L200.8,94.6 L200.6,94.0 L198.6,92.5 L197.7,92.3 L196.9,92.5 L195.3,93.7 L194.8,94.2 L194.7,94.9 L194.8,95.6 L195.7,97.1 L196.2,97.7Z" fill="#fff" stroke="#444" stroke-width="0.7"/><path d="M198.8,250.0 L199.1,250.9 L200.8,253.0 L201.8,253.6 L204.9,253.9 L205.8,253.8 L206.4,253.2 L207.0,251.9 L206.3,249.2 L206.0,248.6 L205.3,248.2 L201.7,247.0 L201.1,247.0 L200.5,247.2 L200.0,247.6 L199.0,249.1 L198.8,250.0Z" fill="#fff" stroke="#444" stroke-width="0.7"/><path d="M201.6,156.6 L201.0,157.1 L200.7,158.0 L200.7,161.1 L200.8,161.7 L201.2,162.3 L203.9,164.4 L204.8,164.7 L205.7,164.5 L206.3,163.8 L207.6,160.5 L206.7,158.1 L206.3,157.5 L205.7,157.2 L202.5,156.5 L201.6,156.6Z" fill="#fff" stroke="#444" stroke-width="0.7"/><path d="M196.0,250.9 L196.1,250.2 L195.9,249.5 L195.3,249.0 L194.0,248.3 L194.0,252.6 L195.5,251.5 L196.0,250.9Z" fill="#fff" stroke="#444" stroke-width="0.7"/><path d="M217.4,308.3 L218.0,308.9 L218.8,309.1 L218.8,301.2 L218.4,301.3 L217.9,301.8 L217.7,302.4 L217.2,307.5 L217.4,308.3Z" fill="#fff" stroke="#444" stroke-width="0.7"/><path d="M217.5,342.8 L216.8,343.1 L216.3,343.7 L215.3,346.6 L215.2,347.4 L215.6,348.2 L216.7,349.0 L218.8,348.8 L218.8,342.6 L217.5,342.8Z" fill="#fff" stroke="#444" stroke-width="0.7"/><path d="M197.7,326.0 L198.1,326.7 L198.7,327.1 L202.0,328.2 L202.8,328.2 L203.5,327.9 L205.4,326.4 L205.8,325.8 L206.0,325.1 L205.8,324.5 L205.3,324.0 L202.8,322.2 L202.1,322.0 L201.4,322.1 L198.9,323.1 L198.4,323.5 L197.7,325.3 L197.7,326.0Z" fill="#fff" stroke="#444" stroke-width="0.7"/><path d="M194.0,234.6 L194.0,240.9 L196.8,240.7 L197.6,240.4 L198.1,239.6 L198.6,237.8 L198.6,237.1 L198.3,236.5 L197.7,236.1 L194.5,234.7 L194.0,234.6Z" fill="#fff" stroke="#444" stroke-width="0.7"/><path d="M203.8,205.5 L204.4,205.3 L205.0,204.9 L205.2,204.2 L205.6,200.6 L205.4,199.8 L204.9,199.2 L204.1,199.0 L201.5,198.9 L200.8,199.1 L200.2,199.7 L200.0,200.4 L200.0,203.0 L200.2,203.8 L200.8,204.3 L203.1,205.4 L203.8,205.5Z" fill="#fff" stroke="#444" stroke-width="0.7"/><path d="M197.4,344.9 L197.8,348.2 L198.0,348.9 L198.5,349.4 L199.1,349.7 L202.4,349.7 L202.8,349.4 L203.0,348.7 L203.4,345.0 L203.3,344.2 L202.8,343.6 L201.2,342.6 L200.5,342.6 L198.5,343.2 L197.7,343.9 L197.4,344.9Z" fill="#fff" stroke="#444" stroke-width="0.7"/><path d="M196.1,227.4 L196.4,226.7 L196.2,226.0 L195.7,225.4 L194.0,225.0 L194.0,230.8 L196.1,227.4Z" fill="#fff" stroke="#444" stroke-width="0.7"/><path d="M215.7,298.8 L217.0,299.8 L217.8,300.0 L218.8,299.9 L218.8,292.1 L215.8,294.1 L215.1,295.0 L214.8,296.4 L215.0,297.5 L215.7,298.8Z" fill="#fff" stroke="#444" stroke-width="0.7"/><path d="M211.6,244.2 L210.1,244.3 L209.6,244.5 L207.6,247.5 L207.4,248.1 L207.4,248.7 L207.8,250.1 L208.2,250.7 L208.8,251.1 L209.5,251.1 L212.3,250.7 L213.3,250.1 L214.2,248.6 L213.9,246.2 L213.3,245.2 L211.6,244.2Z" fill="#fff" stroke="#444" stroke-width="0.7"/><path d="M205.5,206.6 L204.9,207.0 L204.5,207.7 L203.9,210.9 L206.0,214.1 L206.5,214.5 L207.2,214.7 L207.9,214.5 L208.4,214.0 L210.8,210.5 L211.1,209.9 L211.0,209.3 L210.4,207.7 L209.7,207.3 L206.3,206.6 L205.5,206.6Z" fill="#fff" stroke="#444" stroke-width="0.7"/><path d="M215.7,203.5 L217.5,200.5 L217.7,199.6 L217.2,198.7 L216.2,198.2 L214.2,198.1 L213.5,198.3 L212.9,198.7 L212.2,200.0 L212.2,200.7 L212.9,202.9 L213.3,203.5 L213.9,203.8 L214.6,203.9 L215.7,203.5Z" fill="#fff" stroke="#444" stroke-width="0.7"/><path d="M217.9,191.9 L218.8,191.8 L218.8,186.1 L215.8,188.1 L215.3,188.6 L215.1,189.3 L215.3,190.0 L215.8,190.5 L217.9,191.9Z" fill="#fff" stroke="#444" stroke-width="0.7"/><path d="M212.2,102.6 L212.2,103.3 L212.4,104.0 L214.7,106.7 L215.3,106.8 L216.0,106.7 L218.8,105.4 L218.8,100.7 L215.2,100.2 L214.5,100.3 L212.6,102.0 L212.2,102.6Z" fill="#fff" stroke="#444" stroke-width="0.7"/><path d="M206.1,236.3 L208.6,235.2 L209.1,234.8 L209.4,234.2 L209.5,233.5 L207.6,230.3 L207.1,229.7 L206.4,229.5 L205.6,229.7 L203.1,231.1 L202.6,231.6 L202.2,233.5 L202.4,234.4 L203.0,235.0 L205.4,236.2 L206.1,236.3Z" fill="#fff" stroke="#444" stroke-width="0.7"/><path d="M194.0,282.5 L196.8,281.3 L197.4,280.3 L197.5,279.6 L197.3,279.0 L196.8,278.5 L194.0,276.7 L194.0,282.5Z" fill="#fff" stroke="#444" stroke-width="0.7"/><path d="M217.1,275.0 L216.8,275.6 L216.7,276.4 L217.3,278.8 L217.8,279.6 L218.8,280.0 L218.8,274.2 L217.1,275.0Z" fill="#fff" stroke="#444" stroke-width="0.7"/><path d="M206.7,197.8 L207.2,198.5 L207.9,198.9 L210.2,199.1 L211.0,199.0 L211.6,198.5 L212.2,197.4 L212.0,196.6 L211.4,195.3 L211.0,194.7 L210.3,194.5 L209.6,194.5 L207.8,195.1 L207.2,195.5 L206.7,197.0 L206.7,197.8Z" fill="#fff" stroke="#444" stroke-width="0.7"/><path d="M208.0,101.7 L208.6,102.2 L209.3,102.3 L210.0,102.3 L211.0,101.9 L213.0,99.9 L213.3,99.3 L213.3,98.5 L212.4,95.1 L212.1,94.4 L211.4,94.0 L210.7,94.0 L208.7,94.3 L208.0,94.6 L207.6,95.2 L207.5,95.9 L207.8,100.9 L208.0,101.7Z" fill="#fff" stroke="#444" stroke-width="0.7"/><path d="M206.9,103.7 L206.4,102.9 L205.6,102.5 L202.8,102.2 L202.0,102.3 L201.3,102.8 L200.4,104.5 L200.9,107.0 L201.3,107.6 L201.8,108.0 L202.5,108.1 L204.6,107.9 L205.4,107.7 L205.9,107.0 L206.8,104.6 L206.9,103.7Z" fill="#fff" stroke="#444" stroke-width="0.7"/><path d="M197.8,197.7 L197.1,197.6 L196.5,197.9 L194.0,199.4 L194.0,205.5 L195.1,205.7 L195.7,205.6 L198.0,204.3 L198.6,203.8 L198.8,203.0 L198.8,199.2 L198.4,198.1 L197.8,197.7Z" fill="#fff" stroke="#444" stroke-width="0.7"/><path d="M196.3,258.3 L197.0,258.4 L197.6,258.1 L198.1,257.6 L199.7,255.0 L199.9,254.2 L199.5,253.3 L198.2,252.0 L197.5,251.8 L196.8,252.1 L194.0,254.1 L194.0,257.5 L196.3,258.3Z" fill="#fff" stroke="#444" stroke-width="0.7"/><path d="M215.2,221.8 L214.5,221.4 L213.7,221.4 L213.0,221.8 L211.2,223.4 L210.8,224.1 L210.8,224.9 L211.1,225.5 L211.7,226.0 L214.2,226.8 L214.9,226.9 L215.7,226.5 L216.1,225.9 L216.1,225.1 L215.5,222.5 L215.2,221.8Z" fill="#fff" stroke="#444" stroke-width="0.7"/><path d="M201.4,188.8 L202.1,188.5 L202.6,187.9 L202.7,187.1 L202.2,183.8 L201.8,183.1 L201.1,182.6 L198.2,181.8 L197.1,181.9 L196.6,182.1 L196.1,182.5 L195.9,183.1 L195.9,183.8 L196.5,186.4 L196.8,187.1 L197.4,187.5 L200.7,188.8 L201.4,188.8Z" fill="#fff" stroke="#444" stroke-width="0.7"/><path d="M199.3,243.3 L198.0,242.0 L197.3,241.9 L194.0,242.1 L194.0,247.0 L196.6,248.3 L197.3,248.4 L198.0,248.2 L198.5,247.7 L199.5,246.3 L199.7,245.3 L199.6,244.1 L199.3,243.3Z" fill="#fff" stroke="#444" stroke-width="0.7"/><path d="M196.0,123.5 L195.4,123.0 L194.0,122.9 L194.0,129.5 L195.1,129.6 L196.0,129.4 L196.6,128.8 L196.8,127.9 L196.3,124.2 L196.0,123.5Z" fill="#fff" stroke="#444" stroke-width="0.7"/><path d="M211.4,150.4 L212.2,150.3 L212.9,149.8 L214.7,147.1 L215.0,146.2 L214.7,145.4 L213.7,143.8 L213.0,143.2 L212.2,143.1 L211.5,143.4 L209.1,145.3 L208.7,145.9 L208.7,147.6 L209.1,148.5 L210.6,150.0 L211.4,150.4Z" fill="#fff" stroke="#444" stroke-width="0.7"/><path d="M211.9,239.0 L211.6,238.4 L209.8,236.5 L209.2,236.4 L208.6,236.5 L207.5,237.1 L206.9,237.6 L206.7,238.4 L206.7,240.7 L208.7,242.7 L209.3,243.1 L210.3,243.1 L211.1,242.7 L211.5,241.9 L211.9,239.0Z" fill="#fff" stroke="#444" stroke-width="0.7"/><path d="M203.0,115.4 L203.8,115.5 L204.4,115.2 L204.8,114.6 L206.2,111.4 L206.4,110.7 L206.2,110.0 L205.5,109.3 L204.7,109.1 L201.8,109.3 L201.2,109.5 L200.2,110.5 L199.9,111.6 L200.0,112.1 L200.4,113.1 L202.4,115.1 L203.0,115.4Z" fill="#fff" stroke="#444" stroke-width="0.7"/><path d="M203.5,335.8 L202.9,336.3 L202.7,336.9 L202.1,340.6 L202.2,341.4 L202.7,342.0 L204.4,343.0 L206.2,342.8 L206.8,342.6 L207.3,342.1 L209.0,338.7 L209.2,337.9 L208.9,337.1 L207.7,335.9 L207.1,335.7 L204.5,335.5 L203.5,335.8Z" fill="#fff" stroke="#444" stroke-width="0.7"/><path d="M212.3,167.6 L213.1,167.3 L213.6,166.7 L215.0,163.5 L215.2,162.9 L215.0,162.2 L214.4,161.6 L213.7,161.3 L209.8,161.1 L209.0,161.3 L208.4,162.0 L207.7,163.5 L207.6,164.2 L207.8,164.8 L208.3,165.4 L211.5,167.3 L212.3,167.6Z" fill="#fff" stroke="#444" stroke-width="0.7"/><path d="M194.6,150.1 L195.1,149.3 L195.8,146.8 L195.8,146.0 L195.5,145.4 L194.0,144.6 L194.0,150.3 L194.6,150.1Z" fill="#fff" stroke="#444" stroke-width="0.7"/><path d="M215.2,275.9 L214.6,275.4 L213.9,275.4 L213.2,275.6 L211.7,276.7 L211.3,277.3 L211.1,278.0 L211.3,279.9 L211.5,280.7 L212.1,281.2 L213.5,281.9 L214.4,282.0 L215.3,281.6 L216.2,280.3 L216.2,279.5 L215.5,276.5 L215.2,275.9Z" fill="#fff" stroke="#444" stroke-width="0.7"/><path d="M200.9,98.5 L201.6,100.2 L202.1,100.7 L202.7,101.0 L204.8,101.2 L205.7,101.1 L206.3,100.5 L206.5,99.7 L206.2,95.2 L205.9,94.4 L205.2,93.9 L204.3,93.9 L202.5,94.6 L202.1,95.1 L200.9,98.5Z" fill="#fff" stroke="#444" stroke-width="0.7"/><path d="M196.7,156.2 L197.3,155.7 L197.6,155.1 L197.5,154.4 L197.2,153.8 L195.6,152.0 L195.0,151.6 L194.0,151.6 L194.0,157.3 L196.7,156.2Z" fill="#fff" stroke="#444" stroke-width="0.7"/><path d="M217.1,134.4 L217.3,135.0 L218.8,137.2 L218.8,130.2 L218.3,130.5 L217.8,131.2 L217.1,134.4Z" fill="#fff" stroke="#444" stroke-width="0.7"/><path d="M216.0,245.0 L215.3,245.7 L215.2,246.6 L215.7,248.1 L216.5,248.5 L218.8,249.1 L218.8,243.4 L216.0,245.0Z" fill="#fff" stroke="#444" stroke-width="0.7"/><path d="M197.2,120.4 L197.9,120.8 L198.6,120.9 L199.9,120.2 L201.7,117.8 L201.9,117.2 L201.9,116.5 L201.5,115.9 L199.7,114.3 L199.0,114.2 L198.3,114.5 L196.7,115.7 L196.2,116.4 L196.2,117.3 L196.8,119.8 L197.2,120.4Z" fill="#fff" stroke="#444" stroke-width="0.7"/><path d="M211.1,233.9 L210.8,234.6 L210.8,235.3 L211.1,235.9 L212.3,237.4 L213.0,237.8 L213.9,237.8 L215.8,237.3 L216.5,236.9 L217.2,235.2 L217.3,234.5 L216.9,233.8 L216.3,232.9 L215.5,232.5 L214.6,232.5 L211.7,233.5 L211.1,233.9Z" fill="#fff" stroke="#444" stroke-width="0.7"/><path d="M202.0,93.1 L203.3,92.9 L204.1,92.4 L204.5,91.5 L204.5,90.0 L198.2,90.0 L198.5,90.8 L198.9,91.3 L202.0,93.1Z" fill="#fff" stroke="#444" stroke-width="0.7"/><path d="M206.2,300.6 L206.5,301.4 L207.2,301.9 L209.9,302.8 L210.6,302.8 L211.3,302.5 L213.8,300.3 L214.2,299.7 L214.3,299.0 L214.0,298.3 L213.5,297.8 L212.8,297.7 L208.3,297.7 L207.6,297.9 L207.0,298.5 L206.3,299.8 L206.2,300.6Z" fill="#fff" stroke="#444" stroke-width="0.7"/><path d="M212.6,346.7 L213.3,346.7 L213.9,346.4 L214.3,345.8 L215.4,342.4 L214.0,339.6 L213.6,339.0 L211.6,338.6 L210.7,338.7 L210.1,339.4 L208.6,342.0 L208.5,342.7 L208.6,343.3 L209.0,343.9 L211.9,346.4 L212.6,346.7Z" fill="#fff" stroke="#444" stroke-width="0.7"/><path d="M218.8,146.6 L216.4,147.0 L216.0,147.4 L214.0,150.3 L213.7,151.0 L213.8,151.7 L214.2,152.3 L216.6,154.4 L217.2,154.7 L217.8,154.7 L218.8,154.5 L218.8,146.6Z" fill="#fff" stroke="#444" stroke-width="0.7"/><path d="M204.8,188.9 L204.3,189.5 L204.2,190.3 L204.5,191.0 L206.2,193.3 L206.9,193.9 L207.9,193.8 L210.6,192.8 L211.7,190.4 L211.8,189.5 L211.4,188.7 L210.8,188.3 L210.1,188.2 L205.5,188.6 L204.8,188.9Z" fill="#fff" stroke="#444" stroke-width="0.7"/><path d="M218.8,171.4 L218.8,164.2 L216.8,163.9 L216.2,164.2 L215.8,164.7 L214.5,167.8 L214.4,168.7 L214.8,169.5 L216.6,171.1 L217.7,171.5 L218.8,171.4Z" fill="#fff" stroke="#444" stroke-width="0.7"/><path d="M213.7,337.5 L214.3,337.0 L215.9,334.7 L215.4,331.8 L215.0,331.0 L214.3,330.6 L213.5,330.6 L210.6,331.7 L209.2,334.2 L209.1,335.1 L209.4,335.8 L210.2,336.8 L211.1,337.3 L212.9,337.6 L213.7,337.5Z" fill="#fff" stroke="#444" stroke-width="0.7"/><path d="M203.1,279.9 L200.0,279.7 L199.1,280.0 L198.6,280.7 L198.2,281.9 L198.3,282.5 L199.5,285.4 L200.1,286.1 L201.0,286.3 L204.1,286.1 L204.7,285.9 L205.2,285.4 L205.5,284.8 L205.6,283.0 L205.3,282.4 L203.1,279.9Z" fill="#fff" stroke="#444" stroke-width="0.7"/><path d="M213.2,90.0 L213.6,90.8 L214.2,91.2 L214.9,91.2 L218.8,90.5 L218.8,90.0 L213.2,90.0Z" fill="#fff" stroke="#444" stroke-width="0.7"/><path d="M218.2,263.8 L218.8,263.8 L218.8,256.2 L216.0,256.8 L214.8,258.5 L214.6,259.4 L214.9,260.2 L217.5,263.3 L218.2,263.8Z" fill="#fff" stroke="#444" stroke-width="0.7"/><path d="M208.2,316.4 L207.7,315.9 L207.0,315.7 L206.3,315.7 L205.4,316.0 L204.1,316.9 L203.6,317.8 L203.1,319.8 L203.2,320.7 L203.7,321.4 L206.2,323.1 L207.0,323.4 L208.0,323.1 L208.6,322.5 L208.8,321.7 L208.5,317.1 L208.2,316.4Z" fill="#fff" stroke="#444" stroke-width="0.7"/><path d="M197.3,164.6 L197.2,165.5 L197.4,167.2 L197.8,168.0 L198.5,168.5 L201.1,169.1 L201.8,169.2 L202.4,168.8 L202.8,168.3 L203.4,167.0 L203.5,166.3 L203.4,165.7 L200.8,163.4 L200.0,163.1 L199.1,163.3 L197.9,164.0 L197.3,164.6Z" fill="#fff" stroke="#444" stroke-width="0.7"/><path d="M215.4,127.4 L217.8,129.0 L218.8,129.0 L218.8,120.3 L217.2,120.2 L216.4,120.4 L215.6,121.1 L214.5,123.1 L214.3,124.1 L214.9,126.6 L215.4,127.4Z" fill="#fff" stroke="#444" stroke-width="0.7"/><path d="M200.4,144.4 L200.6,145.2 L202.3,148.3 L202.8,148.7 L203.4,149.0 L204.0,149.0 L206.3,148.3 L206.9,148.0 L207.3,147.4 L207.3,146.5 L206.8,145.5 L204.4,143.3 L203.5,142.9 L201.3,143.0 L200.7,143.5 L200.4,144.4Z" fill="#fff" stroke="#444" stroke-width="0.7"/><path d="M196.4,144.3 L197.4,144.3 L198.6,143.9 L199.3,143.4 L200.1,142.1 L200.1,141.4 L199.9,140.5 L199.3,139.7 L196.3,137.5 L195.5,137.2 L194.7,137.4 L194.0,137.7 L194.0,143.3 L196.4,144.3Z" fill="#fff" stroke="#444" stroke-width="0.7"/><path d="M197.0,276.9 L197.6,276.8 L198.2,276.4 L198.5,275.8 L199.5,272.3 L199.5,271.5 L199.1,270.9 L198.5,270.5 L197.1,270.0 L196.4,269.9 L195.7,270.2 L194.0,271.6 L194.0,275.3 L196.3,276.7 L197.0,276.9Z" fill="#fff" stroke="#444" stroke-width="0.7"/><path d="M201.8,269.8 L202.0,270.6 L202.7,271.2 L205.5,272.4 L206.1,272.2 L206.7,271.8 L208.4,269.6 L208.7,269.0 L208.7,268.3 L208.4,267.7 L206.7,265.7 L206.2,265.2 L205.5,265.1 L204.8,265.3 L204.3,265.8 L202.1,269.0 L201.8,269.8Z" fill="#fff" stroke="#444" stroke-width="0.7"/><path d="M194.0,93.0 L196.4,91.4 L196.9,90.9 L197.0,90.0 L194.0,90.0 L194.0,93.0Z" fill="#fff" stroke="#444" stroke-width="0.7"/><path d="M195.2,326.4 L196.0,326.1 L196.5,325.3 L196.9,323.1 L195.4,320.9 L194.8,320.4 L194.0,320.3 L194.0,326.6 L195.2,326.4Z" fill="#fff" stroke="#444" stroke-width="0.7"/><path d="M196.3,163.3 L198.7,162.2 L199.3,161.6 L199.5,160.9 L199.5,158.5 L199.3,157.8 L198.8,157.3 L198.1,157.0 L197.4,157.2 L194.0,158.6 L194.0,162.6 L196.3,163.3Z" fill="#fff" stroke="#444" stroke-width="0.7"/><path d="M204.4,117.3 L203.6,117.5 L203.1,117.9 L201.6,119.9 L201.3,120.6 L201.4,121.3 L201.8,121.9 L204.2,124.0 L204.8,124.4 L205.6,124.4 L206.5,123.7 L206.9,123.1 L206.9,122.3 L206.0,118.7 L205.4,117.8 L204.4,117.3Z" fill="#fff" stroke="#444" stroke-width="0.7"/><path d="M196.3,223.9 L196.9,223.4 L198.1,221.8 L198.4,221.0 L198.2,220.1 L196.0,216.6 L195.4,216.0 L194.0,215.9 L194.0,223.8 L195.6,224.0 L196.3,223.9Z" fill="#fff" stroke="#444" stroke-width="0.7"/><path d="M199.4,205.1 L197.0,206.2 L196.5,206.7 L196.2,207.3 L196.3,208.0 L197.1,210.6 L197.5,211.2 L198.1,211.6 L198.9,211.6 L201.7,210.8 L202.4,210.4 L202.8,209.7 L203.2,208.1 L203.2,207.4 L202.9,206.8 L202.4,206.4 L200.1,205.3 L199.4,205.1Z" fill="#fff" stroke="#444" stroke-width="0.7"/><path d="M216.5,218.1 L217.0,218.8 L217.8,219.2 L218.8,219.2 L218.8,212.6 L218.0,213.1 L217.7,213.6 L216.5,217.2 L216.5,218.1Z" fill="#fff" stroke="#444" stroke-width="0.7"/><path d="M209.7,186.9 L210.2,186.3 L210.4,185.6 L210.2,183.6 L207.9,181.4 L206.8,181.1 L205.2,181.2 L204.3,181.6 L203.8,182.1 L203.4,182.7 L203.3,183.4 L203.8,186.2 L204.0,186.9 L204.6,187.3 L205.4,187.4 L209.0,187.1 L209.7,186.9Z" fill="#fff" stroke="#444" stroke-width="0.7"/><path d="M195.1,121.4 L195.6,120.7 L195.6,119.9 L194.9,117.2 L194.6,116.6 L194.0,116.2 L194.0,121.7 L195.1,121.4Z" fill="#fff" stroke="#444" stroke-width="0.7"/><path d="M208.4,136.6 L208.5,135.9 L208.2,135.3 L207.2,134.2 L206.3,134.2 L203.8,134.9 L201.2,139.2 L201.1,140.6 L201.6,141.4 L202.5,141.7 L203.9,141.6 L204.5,141.2 L208.1,137.2 L208.4,136.6Z" fill="#fff" stroke="#444" stroke-width="0.7"/><path d="M213.5,170.2 L212.8,170.2 L212.2,170.6 L209.8,172.8 L209.3,173.6 L209.5,174.6 L210.2,175.7 L210.9,176.0 L213.2,176.3 L214.1,176.1 L214.7,175.4 L215.7,173.3 L215.8,172.4 L215.3,171.6 L214.2,170.6 L213.5,170.2Z" fill="#fff" stroke="#444" stroke-width="0.7"/><path d="M207.7,224.0 L208.5,224.1 L209.2,223.7 L212.4,220.8 L212.8,220.0 L212.7,219.1 L212.2,218.4 L208.2,216.0 L207.4,216.0 L206.9,216.3 L206.5,216.7 L204.8,219.6 L204.6,220.5 L205.0,221.4 L207.0,223.6 L207.7,224.0Z" fill="#fff" stroke="#444" stroke-width="0.7"/><path d="M212.3,152.5 L211.5,152.5 L210.9,153.0 L208.1,156.2 L207.8,157.0 L207.9,157.8 L208.4,159.0 L209.0,159.7 L209.7,159.9 L213.5,160.1 L214.4,159.9 L215.0,159.1 L215.9,156.6 L215.9,155.7 L215.5,155.0 L213.0,152.8 L212.3,152.5Z" fill="#fff" stroke="#444" stroke-width="0.7"/><path d="M210.5,103.7 L209.5,103.5 L208.7,103.8 L208.2,104.5 L206.9,107.7 L206.8,108.4 L207.0,109.0 L207.7,110.0 L211.1,111.0 L211.8,111.0 L213.2,110.2 L213.8,109.2 L213.9,108.1 L211.0,104.1 L210.5,103.7Z" fill="#fff" stroke="#444" stroke-width="0.7"/><path d="M194.0,190.6 L194.0,192.0 L194.2,192.4 L196.2,194.3 L196.9,194.7 L197.8,194.6 L198.5,194.0 L199.9,191.7 L200.2,190.8 L199.9,190.0 L199.2,189.5 L197.1,188.7 L196.3,188.6 L195.6,189.0 L194.0,190.6Z" fill="#fff" stroke="#444" stroke-width="0.7"/><path d="M194.0,136.4 L195.0,135.8 L195.3,135.2 L195.9,132.6 L195.9,131.8 L195.4,131.1 L194.0,130.7 L194.0,136.4Z" fill="#fff" stroke="#444" stroke-width="0.7"/><path d="M198.7,315.5 L198.0,315.7 L196.7,316.6 L196.0,318.8 L196.0,319.5 L196.3,320.1 L197.2,321.3 L198.0,321.8 L199.0,321.8 L201.0,320.9 L201.6,320.5 L202.2,318.4 L202.2,317.7 L201.9,317.1 L201.4,316.7 L199.4,315.7 L198.7,315.5Z" fill="#fff" stroke="#444" stroke-width="0.7"/><path d="M218.8,198.5 L218.8,193.2 L218.5,193.3 L218.2,194.1 L217.8,196.7 L217.9,197.4 L218.8,198.5Z" fill="#fff" stroke="#444" stroke-width="0.7"/><path d="M217.6,220.5 L217.0,220.9 L216.7,221.5 L216.7,222.2 L217.4,225.2 L217.7,225.8 L218.3,226.3 L218.8,226.3 L218.8,220.4 L217.6,220.5Z" fill="#fff" stroke="#444" stroke-width="0.7"/><path d="M218.6,113.5 L218.3,114.3 L218.2,117.7 L218.4,118.3 L218.8,118.9 L218.8,113.3 L218.6,113.5Z" fill="#fff" stroke="#444" stroke-width="0.7"/><path d="M194.6,171.4 L194.5,172.1 L194.6,172.8 L195.1,173.3 L197.2,174.7 L198.0,174.9 L198.7,174.7 L201.5,173.2 L202.1,172.7 L202.3,172.0 L202.2,171.3 L201.8,170.7 L201.2,170.4 L197.8,169.5 L197.2,169.5 L196.6,169.8 L195.1,170.9 L194.6,171.4Z" fill="#fff" stroke="#444" stroke-width="0.7"/><path d="M196.0,308.4 L196.7,307.7 L196.8,306.8 L196.5,305.2 L196.2,304.5 L195.6,304.0 L194.0,303.3 L194.0,309.3 L196.0,308.4Z" fill="#fff" stroke="#444" stroke-width="0.7"/><path d="M217.1,315.3 L217.5,315.9 L218.0,316.3 L218.8,316.4 L218.8,310.5 L218.4,310.6 L217.9,311.4 L217.1,314.6 L217.1,315.3Z" fill="#fff" stroke="#444" stroke-width="0.7"/><path d="M194.0,264.4 L195.1,264.5 L195.8,264.0 L197.3,262.1 L197.6,261.4 L197.5,260.6 L197.2,260.0 L194.0,258.7 L194.0,264.4Z" fill="#fff" stroke="#444" stroke-width="0.7"/><path d="M216.3,302.3 L215.9,301.7 L215.3,301.4 L214.6,301.4 L213.9,301.7 L212.1,303.4 L211.7,304.0 L211.6,304.8 L212.0,306.8 L212.3,307.4 L212.8,307.9 L214.6,308.0 L215.3,307.9 L215.9,307.4 L216.1,306.7 L216.4,303.0 L216.3,302.3Z" fill="#fff" stroke="#444" stroke-width="0.7"/><path d="M203.1,191.4 L202.4,191.3 L201.7,191.5 L201.2,192.0 L199.0,195.4 L198.8,196.0 L198.9,196.7 L199.2,197.2 L199.7,197.6 L204.0,197.8 L205.0,197.5 L205.5,196.7 L205.8,195.1 L205.5,194.5 L203.6,191.9 L203.1,191.4Z" fill="#fff" stroke="#444" stroke-width="0.7"/><path d="M207.0,273.6 L207.0,274.3 L207.3,274.9 L209.6,276.0 L210.3,276.0 L211.0,275.8 L212.7,274.5 L213.1,274.0 L213.3,273.4 L212.1,270.4 L211.6,269.8 L210.9,269.6 L210.2,269.7 L209.5,270.1 L207.3,273.0 L207.0,273.6Z" fill="#fff" stroke="#444" stroke-width="0.7"/><path d="M213.8,191.0 L213.0,191.2 L212.4,191.9 L211.9,193.3 L212.1,193.9 L213.1,196.1 L213.7,196.7 L214.4,196.9 L215.9,196.8 L216.5,196.4 L216.7,195.7 L217.0,193.9 L216.9,193.1 L216.4,192.4 L214.7,191.2 L213.8,191.0Z" fill="#fff" stroke="#444" stroke-width="0.7"/><path d="M202.6,175.4 L202.1,175.0 L201.4,174.8 L199.2,175.8 L198.7,176.3 L198.5,177.0 L198.3,179.3 L198.4,180.0 L198.8,180.5 L201.6,181.5 L202.4,181.5 L203.1,181.1 L203.5,180.4 L203.6,179.7 L202.9,176.0 L202.6,175.4Z" fill="#fff" stroke="#444" stroke-width="0.7"/><path d="M215.4,108.4 L215.1,109.2 L215.2,109.9 L215.7,110.5 L217.2,111.7 L217.9,112.0 L218.8,111.9 L218.8,106.8 L216.0,108.0 L215.4,108.4Z" fill="#fff" stroke="#444" stroke-width="0.7"/><path d="M215.2,286.2 L214.4,286.2 L213.8,286.6 L212.3,288.3 L212.0,288.9 L212.0,289.6 L212.3,290.2 L214.0,292.2 L214.6,292.6 L215.3,292.7 L216.0,292.5 L218.3,291.0 L218.8,290.3 L218.8,289.1 L218.4,288.6 L215.9,286.5 L215.2,286.2Z" fill="#fff" stroke="#444" stroke-width="0.7"/><path d="M218.8,235.1 L218.3,235.7 L217.9,237.5 L218.8,239.1 L218.8,235.1Z" fill="#fff" stroke="#444" stroke-width="0.7"/><path d="M206.0,115.6 L206.3,116.3 L206.9,116.8 L207.8,116.8 L210.6,116.1 L211.0,115.6 L211.2,115.0 L211.1,112.8 L210.7,112.3 L210.1,112.0 L208.8,111.7 L208.1,111.7 L207.5,112.0 L207.1,112.5 L206.1,114.8 L206.0,115.6Z" fill="#fff" stroke="#444" stroke-width="0.7"/><path d="M195.0,197.4 L195.6,196.7 L195.7,195.8 L195.2,195.0 L194.0,193.9 L194.0,198.0 L195.0,197.4Z" fill="#fff" stroke="#444" stroke-width="0.7"/><path d="M205.2,240.4 L205.4,239.6 L205.4,238.5 L205.2,237.7 L204.6,237.1 L202.3,236.0 L201.5,235.9 L200.6,236.3 L200.0,237.1 L199.2,240.4 L199.2,241.0 L199.6,241.8 L200.4,242.4 L201.4,242.3 L204.5,241.0 L205.2,240.4Z" fill="#fff" stroke="#444" stroke-width="0.7"/><path d="M198.3,295.8 L198.9,295.2 L199.6,294.0 L199.8,293.2 L199.6,292.5 L198.4,290.5 L197.8,290.3 L197.1,290.3 L194.0,291.1 L194.0,295.6 L194.5,295.8 L197.5,295.9 L198.3,295.8Z" fill="#fff" stroke="#444" stroke-width="0.7"/><path d="M196.1,150.6 L196.5,151.3 L198.4,153.3 L199.0,153.7 L199.8,153.7 L200.5,153.4 L200.9,152.8 L201.8,150.0 L201.6,149.4 L199.8,146.3 L199.2,145.7 L198.3,145.6 L197.5,145.9 L197.1,146.6 L196.2,149.8 L196.1,150.6Z" fill="#fff" stroke="#444" stroke-width="0.7"/><path d="M202.0,135.1 L201.8,134.3 L201.3,133.8 L199.2,132.5 L198.6,132.3 L197.9,132.4 L197.3,132.8 L197.0,133.4 L196.6,135.1 L196.6,136.0 L197.1,136.7 L198.7,137.8 L199.5,138.1 L200.3,137.9 L200.9,137.3 L201.8,135.8 L202.0,135.1Z" fill="#fff" stroke="#444" stroke-width="0.7"/><path d="M216.5,162.3 L218.8,162.9 L218.8,155.8 L217.5,156.2 L217.1,156.8 L215.8,160.2 L215.9,161.3 L216.5,162.3Z" fill="#fff" stroke="#444" stroke-width="0.7"/><path d="M211.2,141.9 L211.3,141.2 L210.3,139.3 L209.6,138.8 L208.7,138.7 L207.9,139.2 L206.1,141.2 L205.8,141.9 L205.8,142.7 L206.9,143.9 L207.5,144.3 L208.2,144.3 L208.9,144.0 L210.8,142.5 L211.2,141.9Z" fill="#fff" stroke="#444" stroke-width="0.7"/><path d="M210.9,316.0 L210.2,316.4 L209.8,316.9 L209.7,317.6 L210.0,321.3 L210.2,321.9 L210.6,322.4 L211.2,322.6 L213.8,323.0 L214.5,322.9 L215.2,322.5 L215.5,321.6 L215.8,318.4 L215.7,317.7 L215.3,317.1 L214.6,316.8 L211.6,316.0 L210.9,316.0Z" fill="#fff" stroke="#444" stroke-width="0.7"/><path d="M209.2,226.5 L208.5,226.8 L208.1,227.4 L207.9,228.1 L208.2,228.8 L209.9,231.6 L210.3,232.1 L211.0,232.4 L211.6,232.3 L214.4,231.3 L215.0,230.8 L215.4,229.8 L215.3,229.1 L215.0,228.5 L214.4,228.2 L209.9,226.6 L209.2,226.5Z" fill="#fff" stroke="#444" stroke-width="0.7"/><path d="M212.0,204.6 L212.0,203.9 L211.2,201.3 L210.7,200.6 L209.9,200.3 L208.3,200.1 L207.6,200.2 L207.0,200.7 L206.7,201.5 L206.4,204.0 L206.5,204.7 L206.9,205.3 L207.6,205.6 L209.9,206.1 L210.7,206.1 L211.4,205.6 L212.0,204.6Z" fill="#fff" stroke="#444" stroke-width="0.7"/><path d="M199.5,235.3 L200.2,235.1 L200.7,234.5 L201.2,232.1 L201.1,231.4 L200.7,230.8 L198.6,229.0 L197.8,228.6 L197.0,228.7 L196.4,229.3 L194.9,231.6 L194.6,232.5 L194.9,233.3 L195.5,233.8 L198.7,235.2 L199.5,235.3Z" fill="#fff" stroke="#444" stroke-width="0.7"/><path d="M217.2,329.6 L216.6,330.3 L216.5,331.2 L217.0,333.3 L217.4,334.1 L218.8,334.6 L218.8,329.4 L218.0,329.4 L217.2,329.6Z" fill="#fff" stroke="#444" stroke-width="0.7"/><path d="M218.4,242.1 L218.6,241.3 L218.3,240.5 L217.4,239.2 L216.7,238.6 L215.8,238.5 L214.2,239.0 L213.5,239.4 L213.1,240.1 L212.7,242.2 L212.7,243.0 L213.3,243.7 L214.4,244.3 L215.3,244.1 L217.8,242.6 L218.4,242.1Z" fill="#fff" stroke="#444" stroke-width="0.7"/><path d="M207.1,344.0 L205.8,344.1 L205.0,344.6 L204.6,345.4 L204.3,348.1 L204.3,348.8 L204.7,349.4 L205.2,349.7 L209.3,349.7 L210.3,348.9 L210.7,348.2 L210.7,347.3 L210.3,346.6 L207.7,344.3 L207.1,344.0Z" fill="#fff" stroke="#444" stroke-width="0.7"/><path d="M205.9,126.4 L206.1,127.3 L207.2,129.5 L207.8,130.1 L208.6,130.3 L209.4,130.0 L212.9,127.7 L213.5,127.1 L213.6,126.2 L213.1,124.6 L212.6,124.2 L211.9,124.0 L208.7,123.9 L207.6,124.4 L206.4,125.5 L205.9,126.4Z" fill="#fff" stroke="#444" stroke-width="0.7"/><path d="M214.0,177.8 L213.2,177.5 L211.1,177.2 L210.2,177.4 L209.6,178.0 L208.9,179.2 L208.8,179.9 L208.9,180.5 L209.3,181.1 L210.7,182.0 L211.3,182.1 L211.9,181.8 L213.9,180.3 L214.5,179.6 L214.5,178.7 L214.0,177.8Z" fill="#fff" stroke="#444" stroke-width="0.7"/><path d="M198.3,112.8 L198.3,112.0 L198.0,111.3 L197.3,110.8 L194.0,109.8 L194.0,114.9 L195.2,115.1 L195.9,114.9 L197.8,113.4 L198.3,112.8Z" fill="#fff" stroke="#444" stroke-width="0.7"/><path d="M194.8,188.0 L195.3,187.4 L195.3,186.6 L194.7,184.2 L194.4,183.5 L194.0,183.3 L194.0,188.8 L194.8,188.0Z" fill="#fff" stroke="#444" stroke-width="0.7"/><path d="M194.0,319.0 L194.7,318.5 L195.0,317.9 L195.1,316.3 L194.0,314.9 L194.0,319.0Z" fill="#fff" stroke="#444" stroke-width="0.7"/><path d="M217.3,203.7 L217.4,204.3 L217.8,204.9 L218.8,205.8 L218.8,200.9 L217.5,203.1 L217.3,203.7Z" fill="#fff" stroke="#444" stroke-width="0.7"/><path d="M194.6,102.0 L194.8,102.8 L195.3,103.3 L196.0,103.6 L198.4,103.7 L199.2,103.5 L199.7,103.0 L200.3,102.2 L200.6,101.4 L200.4,100.6 L199.6,99.4 L198.8,99.2 L197.0,99.1 L196.2,99.3 L195.6,99.9 L194.8,101.3 L194.6,102.0Z" fill="#fff" stroke="#444" stroke-width="0.7"/><path d="M197.9,122.5 L197.5,123.1 L197.4,123.8 L197.8,126.7 L198.2,127.5 L199.0,128.0 L199.8,127.9 L202.4,127.0 L203.0,126.6 L203.4,125.9 L203.3,125.1 L202.9,124.5 L200.4,122.3 L199.8,122.0 L199.1,122.0 L197.9,122.5Z" fill="#fff" stroke="#444" stroke-width="0.7"/><path d="M194.0,344.0 L195.5,343.6 L196.0,343.0 L196.1,342.2 L195.8,341.5 L194.8,340.3 L194.0,339.8 L194.0,344.0Z" fill="#fff" stroke="#444" stroke-width="0.7"/><path d="M194.4,337.5 L194.6,335.9 L194.0,335.1 L194.0,338.1 L194.4,337.5Z" fill="#fff" stroke="#444" stroke-width="0.7"/><path d="M206.7,327.9 L205.9,327.8 L205.2,328.1 L204.3,328.8 L203.8,329.5 L203.7,330.2 L204.1,333.1 L204.4,333.7 L204.9,334.2 L205.5,334.4 L206.7,334.5 L207.6,334.3 L208.2,333.6 L209.0,331.9 L209.1,331.1 L208.8,330.4 L207.4,328.4 L206.7,327.9Z" fill="#fff" stroke="#444" stroke-width="0.7"/><path d="M209.7,277.5 L209.0,277.0 L207.6,276.5 L206.6,276.4 L205.8,277.0 L204.9,278.2 L204.6,278.9 L204.6,279.5 L205.9,281.2 L206.7,281.7 L207.6,281.7 L209.1,281.1 L209.8,280.5 L210.0,279.6 L210.0,278.3 L209.7,277.5Z" fill="#fff" stroke="#444" stroke-width="0.7"/><path d="M200.5,310.0 L200.0,310.5 L199.8,311.1 L199.5,313.3 L199.7,314.2 L200.3,314.8 L202.2,315.8 L203.0,315.9 L203.7,315.7 L204.2,315.2 L204.4,314.5 L204.2,313.8 L202.7,310.6 L202.1,310.0 L201.2,309.8 L200.5,310.0Z" fill="#fff" stroke="#444" stroke-width="0.7"/><path d="M206.4,303.2 L205.7,303.7 L205.3,304.5 L205.3,305.7 L205.5,306.6 L206.2,307.2 L208.7,308.2 L209.5,308.3 L210.2,308.0 L210.7,307.3 L210.7,306.5 L210.5,305.0 L210.1,304.3 L209.4,303.9 L207.3,303.2 L206.4,303.2Z" fill="#fff" stroke="#444" stroke-width="0.7"/><path d="M206.8,289.3 L206.0,287.8 L205.4,287.4 L204.7,287.2 L200.8,287.6 L200.1,287.8 L199.6,288.4 L199.4,289.3 L199.6,289.9 L200.7,291.9 L201.2,292.5 L201.9,292.7 L204.3,292.8 L205.1,292.6 L205.7,292.0 L206.6,290.1 L206.8,289.3Z" fill="#fff" stroke="#444" stroke-width="0.7"/><path d="M211.3,136.2 L210.9,136.8 L210.8,137.5 L211.0,138.2 L212.2,139.9 L212.8,140.5 L213.5,140.6 L214.3,140.3 L216.5,138.7 L217.0,138.1 L217.2,137.4 L216.9,136.7 L215.8,135.5 L215.0,135.4 L212.0,135.9 L211.3,136.2Z" fill="#fff" stroke="#444" stroke-width="0.7"/><path d="M201.7,243.6 L201.4,244.3 L201.5,245.0 L201.8,245.6 L202.4,246.0 L205.2,246.9 L205.9,247.0 L206.5,246.7 L207.7,245.0 L207.9,244.4 L207.8,243.7 L207.4,243.2 L206.6,242.4 L205.8,242.0 L205.0,242.1 L202.3,243.2 L201.7,243.6Z" fill="#fff" stroke="#444" stroke-width="0.7"/><path d="M215.4,249.7 L214.7,250.2 L214.2,251.2 L214.3,252.0 L215.4,254.4 L216.1,255.1 L217.0,255.3 L218.8,255.0 L218.8,250.3 L216.2,249.7 L215.4,249.7Z" fill="#fff" stroke="#444" stroke-width="0.7"/><line x1="194" y1="90" x2="194" y2="349.7" stroke="#222" stroke-width="0.7" /><line x1="218.8" y1="90" x2="218.8" y2="349.7" stroke="#222" stroke-width="0.7" /><rect x="198" y="115.3" width="5.6" height="27.4" stroke="#333" stroke-width="0.7" fill="#fff" /><rect x="208.6" y="115.3" width="6.2" height="27.4" stroke="#333" stroke-width="0.7" fill="#fff" /><rect x="201.6" y="350.1" width="22.9" height="5.4" stroke="#333" stroke-width="0.7" fill="#fff" /><rect x="169.1" y="288.3" width="36.5" height="50.3" stroke="#444" stroke-width="0.8" fill="#fff" /><rect x="171.8" y="290.7" width="31.8" height="45.2" stroke="#333" stroke-width="0.8" fill="none" /><line x1="44.5" y1="84.2" x2="125.7" y2="84.2" stroke="#1a1a1a" stroke-width="1.3" /><line x1="125.7" y1="84.2" x2="226.7" y2="84.2" stroke="#666" stroke-width="0.9" /><line x1="226.7" y1="84.2" x2="517" y2="84.2" stroke="#1a1a1a" stroke-width="1.3" /><line x1="44.5" y1="83.8" x2="44.5" y2="355.5" stroke="#1a1a1a" stroke-width="1.3" /><line x1="44.5" y1="355.5" x2="427.6" y2="355.5" stroke="#1a1a1a" stroke-width="1.3" /><line x1="50.4" y1="84.2" x2="50.4" y2="355.5" stroke="#1a1a1a" stroke-width="0.9" /><line x1="50.4" y1="89.7" x2="297.3" y2="89.7" stroke="#333" stroke-width="0.8" /><line x1="125.7" y1="84.2" x2="125.7" y2="90.2" stroke="#444" stroke-width="0.8" /><line x1="226.7" y1="83.8" x2="226.7" y2="89.7" stroke="#333" stroke-width="0.7" /><line x1="297.3" y1="83.8" x2="297.3" y2="89.7" stroke="#1a1a1a" stroke-width="1.3" /><line x1="44.5" y1="104.8" x2="50.4" y2="104.8" stroke="#1a1a1a" stroke-width="0.8" /><line x1="44.5" y1="132" x2="50.4" y2="132" stroke="#1a1a1a" stroke-width="0.8" /><line x1="44.5" y1="307.4" x2="50.4" y2="307.4" stroke="#1a1a1a" stroke-width="0.8" /><line x1="44.5" y1="336" x2="50.4" y2="336" stroke="#1a1a1a" stroke-width="0.8" /><line x1="50.6" y1="350.1" x2="253.7" y2="350.1" stroke="#666" stroke-width="0.6" /><line x1="100.3" y1="350.1" x2="100.3" y2="355.5" stroke="#444" stroke-width="0.6" /><polyline points="219.5,169 227.3,318.7 253.3,349.1" stroke="#444" stroke-width="0.6" fill="none"/><rect x="219" y="90" width="78.3" height="79" fill="url(#vl)"/><rect x="227.5" y="90.6" width="43.5" height="7" fill="url(#grd)"/><rect x="273" y="91" width="15" height="11.6" stroke="#333" stroke-width="0.8" fill="#fff" /><rect x="275" y="93" width="11" height="7.6" stroke="#555" stroke-width="0.5" fill="none" /><rect x="290" y="94" width="5.5" height="7" stroke="#333" stroke-width="0.7" fill="#fff" /><g transform="translate(246.8,118) rotate(-27)"><rect x="-20" y="-9" width="40" height="18" fill="#fff" stroke="#333" stroke-width="0.8"/><line x1="13" y1="-9" x2="13" y2="9" stroke="#333" stroke-width="0.6"/></g><circle cx="265" cy="132.7" r="7" stroke="#333" stroke-width="0.8" fill="#fff"/><line x1="297.3" y1="89.7" x2="297.3" y2="172.5" stroke="#1a1a1a" stroke-width="1.0" /><line x1="306.3" y1="89.7" x2="306.3" y2="172.5" stroke="#1a1a1a" stroke-width="1.0" /><line x1="297.3" y1="109.9" x2="306.3" y2="109.9" stroke="#1a1a1a" stroke-width="0.8" /><line x1="297.3" y1="152.6" x2="306.3" y2="152.6" stroke="#1a1a1a" stroke-width="0.8" /><line x1="300" y1="109.9" x2="300" y2="152.6" stroke="#555" stroke-width="0.5" /><line x1="303.3" y1="109.9" x2="303.3" y2="152.6" stroke="#555" stroke-width="0.5" /><line x1="306.3" y1="90.3" x2="428.6" y2="90.3" stroke="#1a1a1a" stroke-width="1.0" /><rect x="306.8" y="90.8" width="5" height="81" fill="url(#vl2)"/><line x1="311.9" y1="90.8" x2="311.9" y2="172" stroke="#666" stroke-width="0.5" /><rect x="328.8" y="105.4" width="60.7" height="48.8" stroke="#444" stroke-width="0.7" fill="none" /><rect x="332.1" y="107.6" width="54.7" height="43.9" stroke="#555" stroke-width="0.6" fill="none" /><rect x="325.4" y="90.3" width="12.6" height="11.7" stroke="#333" stroke-width="0.8" fill="#fff" /><circle cx="331.7" cy="96.2" r="3.0" stroke="#444" stroke-width="0.8" fill="none"/><circle cx="331.7" cy="96.2" r="1.7" stroke="#555" stroke-width="0.5" fill="none"/><line x1="331.7" y1="91.5" x2="331.7" y2="101" stroke="#666" stroke-width="0.5" /><line x1="326.9" y1="96.2" x2="336.4" y2="96.2" stroke="#666" stroke-width="0.5" /><rect x="380.5" y="90.3" width="12.6" height="11.7" stroke="#333" stroke-width="0.8" fill="#fff" /><circle cx="386.8" cy="96.2" r="3.0" stroke="#444" stroke-width="0.8" fill="none"/><circle cx="386.8" cy="96.2" r="1.7" stroke="#555" stroke-width="0.5" fill="none"/><line x1="386.8" y1="91.5" x2="386.8" y2="101" stroke="#666" stroke-width="0.5" /><line x1="382.0" y1="96.2" x2="391.5" y2="96.2" stroke="#666" stroke-width="0.5" /><rect x="338.2" y="90.8" width="42" height="8.5" stroke="#333" stroke-width="0.8" fill="#fff" rx="2"/><rect x="337.3" y="99.3" width="44.3" height="39.8" stroke="#333" stroke-width="0.8" fill="#fff" rx="2"/><polyline points="339,104 382,100 345,111 341,106" stroke="#444" stroke-width="0.6" fill="none"/><line x1="339" y1="101.5" x2="382" y2="100" stroke="#555" stroke-width="0.5" /><rect x="337.3" y="162.3" width="44.3" height="10.2" stroke="#333" stroke-width="0.7" fill="#fff" /><rect x="343.4" y="169.5" width="32.2" height="1.6" fill="#555"/><rect x="408" y="90.3" width="14.8" height="18.3" stroke="#333" stroke-width="0.8" fill="#fff" /><line x1="408" y1="90.3" x2="422.8" y2="108.6" stroke="#444" stroke-width="0.5" /><line x1="422.8" y1="90.3" x2="408" y2="108.6" stroke="#444" stroke-width="0.5" /><rect x="408" y="108.6" width="14.8" height="18.3" stroke="#333" stroke-width="0.8" fill="#fff" /><line x1="408" y1="108.6" x2="422.8" y2="126.89999999999999" stroke="#444" stroke-width="0.5" /><line x1="422.8" y1="108.6" x2="408" y2="126.89999999999999" stroke="#444" stroke-width="0.5" /><rect x="408" y="126.9" width="14.8" height="18.3" stroke="#333" stroke-width="0.8" fill="#fff" /><line x1="408" y1="126.9" x2="422.8" y2="145.20000000000002" stroke="#444" stroke-width="0.5" /><line x1="422.8" y1="126.9" x2="408" y2="145.20000000000002" stroke="#444" stroke-width="0.5" /><line x1="418.3" y1="155" x2="418.3" y2="176" stroke="#555" stroke-width="1.5" /><polyline points="416.3,158 418.3,154 420.3,158" stroke="#444" stroke-width="0.7" fill="none"/><rect x="289.3" y="169" width="8.2" height="9.3" stroke="#1a1a1a" stroke-width="1.1" fill="none" /><polyline points="254.3,183.2 254.3,169 267.7,169 267.7,178.4 262.5,178.4 262.5,183.2 254.3,183.2" stroke="#1a1a1a" stroke-width="1.0" fill="none"/><line x1="292.3" y1="180.6" x2="395" y2="180.6" stroke="#999" stroke-width="0.6" /><line x1="306.3" y1="172.5" x2="429" y2="172.5" stroke="#1a1a1a" stroke-width="1.0" /><line x1="297.3" y1="178.2" x2="429" y2="178.2" stroke="#1a1a1a" stroke-width="1.0" /><line x1="297.3" y1="172.5" x2="297.3" y2="178.2" stroke="#1a1a1a" stroke-width="1.0" /><rect x="269.1" y="171.4" width="17.5" height="1.8" stroke="#333" stroke-width="0.6" fill="#777" /><rect x="398.5" y="172.8" width="21.8" height="5" fill="#fff"/><rect x="398.5" y="172.8" width="21.8" height="5" stroke="#555" stroke-width="0.5" fill="none" /><rect x="427.3" y="90.3" width="2.3" height="87.9" fill="#1a1a1a"/><line x1="417.8" y1="145" x2="417.8" y2="178" stroke="#666" stroke-width="0.6" /><line x1="422.6" y1="145" x2="422.6" y2="178" stroke="#666" stroke-width="0.6" /><line x1="428.6" y1="90.3" x2="517.3" y2="90.3" stroke="#1a1a1a" stroke-width="0.8" /><line x1="517.3" y1="83.8" x2="517.3" y2="104.3" stroke="#1a1a1a" stroke-width="1.2" /><line x1="452.7" y1="90.3" x2="452.7" y2="112.8" stroke="#444" stroke-width="0.7" /><line x1="459.4" y1="90.3" x2="459.4" y2="112.8" stroke="#444" stroke-width="0.7" /><line x1="466.2" y1="90.3" x2="466.2" y2="112.8" stroke="#444" stroke-width="0.7" /><line x1="473.4" y1="90.3" x2="473.4" y2="112.8" stroke="#444" stroke-width="0.7" /><line x1="480.4" y1="90.3" x2="480.4" y2="112.8" stroke="#444" stroke-width="0.7" /><line x1="487.6" y1="90.3" x2="487.6" y2="112.8" stroke="#444" stroke-width="0.7" /><line x1="428.6" y1="115.1" x2="450.4" y2="115.1" stroke="#333" stroke-width="0.8" /><line x1="488.7" y1="115.1" x2="512" y2="115.1" stroke="#333" stroke-width="0.8" /><line x1="428.6" y1="120.5" x2="450.4" y2="120.5" stroke="#333" stroke-width="0.8" /><line x1="488.7" y1="120.5" x2="512" y2="120.5" stroke="#333" stroke-width="0.8" /><line x1="428.6" y1="126.4" x2="450.4" y2="126.4" stroke="#333" stroke-width="0.8" /><line x1="488.7" y1="126.4" x2="512" y2="126.4" stroke="#333" stroke-width="0.8" /><line x1="428.6" y1="132" x2="450.4" y2="132" stroke="#333" stroke-width="0.8" /><line x1="488.7" y1="132" x2="512" y2="132" stroke="#333" stroke-width="0.8" /><line x1="428.6" y1="139.2" x2="450.4" y2="139.2" stroke="#333" stroke-width="0.8" /><line x1="488.7" y1="139.2" x2="512" y2="139.2" stroke="#333" stroke-width="0.8" /><rect x="450.4" y="112.2" width="38.3" height="27.7" stroke="#333" stroke-width="1.8" fill="#fff" /><rect x="488.7" y="138.2" width="23" height="2" fill="#333"/><rect x="452.2" y="114" width="34.7" height="24.1" stroke="#777" stroke-width="0.5" fill="none" /><polyline points="440.3,117.8 440.3,102 462.4,102" stroke="#888" stroke-width="0.6" fill="none"/><polyline points="438.8,115 440.3,118.5 441.8,115" stroke="#666" stroke-width="0.6" fill="none"/><line x1="510.1" y1="90.3" x2="510.1" y2="112" stroke="#444" stroke-width="0.6" /><line x1="514.2" y1="90.3" x2="514.2" y2="104.3" stroke="#444" stroke-width="0.6" /><polyline points="455.7,178.9 455.7,165.7 483.7,165.7 483.7,178.9" stroke="#333" stroke-width="1.0" fill="none"/><rect x="458.5" y="168.5" width="22.7" height="8.1" stroke="#444" stroke-width="0.8" fill="#fff" /><line x1="458.5" y1="168.5" x2="481.2" y2="176.6" stroke="#444" stroke-width="0.6" /><line x1="429" y1="173" x2="512" y2="173" stroke="#aaa" stroke-width="0.5" stroke-dasharray="3,2"/><line x1="254.3" y1="169" x2="254.3" y2="355.5" stroke="#1a1a1a" stroke-width="1.1" /><line x1="262.5" y1="183.2" x2="262.5" y2="275.4" stroke="#1a1a1a" stroke-width="0.9" /><rect x="263" y="178.9" width="4.4" height="96" fill="url(#vl2)"/><line x1="267.7" y1="178.4" x2="267.7" y2="275" stroke="#666" stroke-width="0.5" /><rect x="316.7" y="179" width="54.8" height="8.8" stroke="#333" stroke-width="0.8" fill="#fff" rx="1.5"/><rect x="324" y="182.5" width="40" height="1.6" fill="#555"/><rect x="294.6" y="192.8" width="96.4" height="81.3" stroke="#444" stroke-width="1.0" fill="none" /><rect x="297.6" y="195.6" width="90.4" height="78.5" stroke="#555" stroke-width="0.7" fill="none" /><rect x="280.7" y="211.2" width="25.8" height="32.2" stroke="#333" stroke-width="0.8" fill="#fff" rx="1.5"/><line x1="280.7" y1="216.2" x2="306.5" y2="216.2" stroke="#444" stroke-width="0.7" /><line x1="280.7" y1="238.2" x2="306.5" y2="238.2" stroke="#444" stroke-width="0.7" /><rect x="378.8" y="211.2" width="25.8" height="32.2" stroke="#333" stroke-width="0.8" fill="#fff" rx="1.5"/><line x1="378.8" y1="216.2" x2="404.6" y2="216.2" stroke="#444" stroke-width="0.7" /><line x1="378.8" y1="238.2" x2="404.6" y2="238.2" stroke="#444" stroke-width="0.7" /><path d="M283,217 Q288,216.5 289.5,218 L289.5,236 Q288,237.5 283,237 Z" stroke="#444" stroke-width="0.7" fill="#fff" /><path d="M402,217 Q397,216.5 395.5,218 L395.5,236 Q397,237.5 402,237 Z" stroke="#444" stroke-width="0.7" fill="#fff" /><path d="M341.50,226.70 L341.41,227.51 L341.15,228.30 L340.77,229.04 L340.35,229.74 L339.95,230.42 L339.62,231.10 L339.37,231.82 L339.18,232.57 L338.98,233.37 L338.72,234.16 L338.35,234.90 L337.84,235.54 L337.20,236.05 L336.46,236.42 L335.67,236.68 L334.88,236.88 L334.12,237.07 L333.40,237.32 L332.72,237.65 L332.04,238.05 L331.34,238.47 L330.60,238.85 L329.81,239.11 L329.00,239.20 L328.19,239.11 L327.40,238.85 L326.66,238.47 L325.96,238.05 L325.28,237.65 L324.60,237.32 L323.88,237.07 L323.12,236.88 L322.33,236.68 L321.54,236.42 L320.80,236.05 L320.16,235.54 L319.65,234.90 L319.28,234.16 L319.02,233.37 L318.82,232.57 L318.63,231.82 L318.38,231.10 L318.05,230.42 L317.65,229.74 L317.23,229.04 L316.85,228.30 L316.59,227.51 L316.50,226.70 L316.59,225.89 L316.85,225.10 L317.23,224.36 L317.65,223.66 L318.05,222.98 L318.38,222.30 L318.63,221.58 L318.82,220.82 L319.02,220.03 L319.28,219.24 L319.65,218.50 L320.16,217.86 L320.80,217.35 L321.54,216.98 L322.33,216.72 L323.12,216.52 L323.88,216.33 L324.60,216.08 L325.28,215.75 L325.96,215.35 L326.66,214.93 L327.40,214.55 L328.19,214.29 L329.00,214.20 L329.81,214.29 L330.60,214.55 L331.34,214.93 L332.04,215.35 L332.72,215.75 L333.40,216.08 L334.12,216.33 L334.88,216.52 L335.67,216.72 L336.46,216.98 L337.20,217.35 L337.84,217.86 L338.35,218.50 L338.72,219.24 L338.98,220.03 L339.18,220.82 L339.37,221.58 L339.62,222.30 L339.95,222.98 L340.35,223.66 L340.77,224.36 L341.15,225.10 L341.41,225.89 L341.50,226.70Z" stroke="#555" stroke-width="0.6" fill="none" /><path d="M370.80,226.70 L370.71,227.51 L370.45,228.30 L370.07,229.04 L369.65,229.74 L369.25,230.42 L368.92,231.10 L368.67,231.82 L368.48,232.57 L368.28,233.37 L368.02,234.16 L367.65,234.90 L367.14,235.54 L366.50,236.05 L365.76,236.42 L364.97,236.68 L364.18,236.88 L363.42,237.07 L362.70,237.32 L362.02,237.65 L361.34,238.05 L360.64,238.47 L359.90,238.85 L359.11,239.11 L358.30,239.20 L357.49,239.11 L356.70,238.85 L355.96,238.47 L355.26,238.05 L354.58,237.65 L353.90,237.32 L353.18,237.07 L352.43,236.88 L351.63,236.68 L350.84,236.42 L350.10,236.05 L349.46,235.54 L348.95,234.90 L348.58,234.16 L348.32,233.37 L348.12,232.57 L347.93,231.82 L347.68,231.10 L347.35,230.42 L346.95,229.74 L346.53,229.04 L346.15,228.30 L345.89,227.51 L345.80,226.70 L345.89,225.89 L346.15,225.10 L346.53,224.36 L346.95,223.66 L347.35,222.98 L347.68,222.30 L347.93,221.58 L348.12,220.82 L348.32,220.03 L348.58,219.24 L348.95,218.50 L349.46,217.86 L350.10,217.35 L350.84,216.98 L351.63,216.72 L352.43,216.52 L353.18,216.33 L353.90,216.08 L354.58,215.75 L355.26,215.35 L355.96,214.93 L356.70,214.55 L357.49,214.29 L358.30,214.20 L359.11,214.29 L359.90,214.55 L360.64,214.93 L361.34,215.35 L362.02,215.75 L362.70,216.08 L363.42,216.33 L364.18,216.52 L364.97,216.72 L365.76,216.98 L366.50,217.35 L367.14,217.86 L367.65,218.50 L368.02,219.24 L368.28,220.03 L368.48,220.82 L368.67,221.58 L368.92,222.30 L369.25,222.98 L369.65,223.66 L370.07,224.36 L370.45,225.10 L370.71,225.89 L370.80,226.70Z" stroke="#555" stroke-width="0.6" fill="none" /><rect x="316.7" y="249.3" width="53.9" height="24.8" stroke="#333" stroke-width="0.8" fill="#fff" /><rect x="319" y="252" width="49.3" height="20" stroke="#555" stroke-width="0.6" fill="none" /><line x1="343.6" y1="252" x2="343.6" y2="274" stroke="#444" stroke-width="0.6" /><path d="M321,268 Q332,265 342,268 M345,268 Q356,265 366,268" stroke="#444" stroke-width="0.6" fill="none" /><rect x="293.3" y="260" width="20.5" height="14.1" stroke="#333" stroke-width="0.8" fill="#fff" /><rect x="373.5" y="260" width="20.8" height="14.1" stroke="#333" stroke-width="0.8" fill="#fff" /><rect x="262.3" y="275.4" width="165.3" height="6" fill="#fff"/><line x1="254.4" y1="275.4" x2="428.3" y2="275.4" stroke="#1a1a1a" stroke-width="1.0" /><line x1="262.3" y1="281.1" x2="422.6" y2="281.1" stroke="#1a1a1a" stroke-width="1.0" /><rect x="296.2" y="275.6" width="102.2" height="5.4" fill="#fff"/><rect x="398.4" y="276" width="21.4" height="5.1" stroke="#555" stroke-width="0.6" fill="#fff" /><line x1="274.3" y1="275.4" x2="274.3" y2="281.4" stroke="#1a1a1a" stroke-width="0.7" /><line x1="296.2" y1="275.4" x2="296.2" y2="281.4" stroke="#1a1a1a" stroke-width="0.7" /><rect x="293" y="260" width="20.5" height="14.3" stroke="#333" stroke-width="0.8" fill="#fff" /><g transform="translate(468.8,226.4) rotate(0)"><path d="M-6.3,-15.5 L-6.3,-29 Q0,-30.2 6.3,-29 L6.3,-15.5 Z" fill="#fff" stroke="#555" stroke-width="0.7"/><path d="M-6.3,-27.2 Q0,-28.4 6.3,-27.2 L6.3,-29 Q0,-30.2 -6.3,-29 Z" fill="#888" stroke="#444" stroke-width="0.6"/><path d="M-5.3,-16 L-5.3,-27" stroke="#777" stroke-width="0.4"/><path d="M5.3,-16 L5.3,-27" stroke="#777" stroke-width="0.4"/></g><g transform="translate(468.8,226.4) rotate(45)"><path d="M-6.3,-15.5 L-6.3,-29 Q0,-30.2 6.3,-29 L6.3,-15.5 Z" fill="#fff" stroke="#555" stroke-width="0.7"/><path d="M-6.3,-27.2 Q0,-28.4 6.3,-27.2 L6.3,-29 Q0,-30.2 -6.3,-29 Z" fill="#888" stroke="#444" stroke-width="0.6"/><path d="M-5.3,-16 L-5.3,-27" stroke="#777" stroke-width="0.4"/><path d="M5.3,-16 L5.3,-27" stroke="#777" stroke-width="0.4"/></g><g transform="translate(468.8,226.4) rotate(90)"><path d="M-6.3,-15.5 L-6.3,-29 Q0,-30.2 6.3,-29 L6.3,-15.5 Z" fill="#fff" stroke="#555" stroke-width="0.7"/><path d="M-6.3,-27.2 Q0,-28.4 6.3,-27.2 L6.3,-29 Q0,-30.2 -6.3,-29 Z" fill="#888" stroke="#444" stroke-width="0.6"/><path d="M-5.3,-16 L-5.3,-27" stroke="#777" stroke-width="0.4"/><path d="M5.3,-16 L5.3,-27" stroke="#777" stroke-width="0.4"/></g><g transform="translate(468.8,226.4) rotate(135)"><path d="M-6.3,-15.5 L-6.3,-29 Q0,-30.2 6.3,-29 L6.3,-15.5 Z" fill="#fff" stroke="#555" stroke-width="0.7"/><path d="M-6.3,-27.2 Q0,-28.4 6.3,-27.2 L6.3,-29 Q0,-30.2 -6.3,-29 Z" fill="#888" stroke="#444" stroke-width="0.6"/><path d="M-5.3,-16 L-5.3,-27" stroke="#777" stroke-width="0.4"/><path d="M5.3,-16 L5.3,-27" stroke="#777" stroke-width="0.4"/></g><g transform="translate(468.8,226.4) rotate(180)"><path d="M-6.3,-15.5 L-6.3,-29 Q0,-30.2 6.3,-29 L6.3,-15.5 Z" fill="#fff" stroke="#555" stroke-width="0.7"/><path d="M-6.3,-27.2 Q0,-28.4 6.3,-27.2 L6.3,-29 Q0,-30.2 -6.3,-29 Z" fill="#888" stroke="#444" stroke-width="0.6"/><path d="M-5.3,-16 L-5.3,-27" stroke="#777" stroke-width="0.4"/><path d="M5.3,-16 L5.3,-27" stroke="#777" stroke-width="0.4"/></g><g transform="translate(468.8,226.4) rotate(225)"><path d="M-6.3,-15.5 L-6.3,-29 Q0,-30.2 6.3,-29 L6.3,-15.5 Z" fill="#fff" stroke="#555" stroke-width="0.7"/><path d="M-6.3,-27.2 Q0,-28.4 6.3,-27.2 L6.3,-29 Q0,-30.2 -6.3,-29 Z" fill="#888" stroke="#444" stroke-width="0.6"/><path d="M-5.3,-16 L-5.3,-27" stroke="#777" stroke-width="0.4"/><path d="M5.3,-16 L5.3,-27" stroke="#777" stroke-width="0.4"/></g><g transform="translate(468.8,226.4) rotate(270)"><path d="M-6.3,-15.5 L-6.3,-29 Q0,-30.2 6.3,-29 L6.3,-15.5 Z" fill="#fff" stroke="#555" stroke-width="0.7"/><path d="M-6.3,-27.2 Q0,-28.4 6.3,-27.2 L6.3,-29 Q0,-30.2 -6.3,-29 Z" fill="#888" stroke="#444" stroke-width="0.6"/><path d="M-5.3,-16 L-5.3,-27" stroke="#777" stroke-width="0.4"/><path d="M5.3,-16 L5.3,-27" stroke="#777" stroke-width="0.4"/></g><g transform="translate(468.8,226.4) rotate(315)"><path d="M-6.3,-15.5 L-6.3,-29 Q0,-30.2 6.3,-29 L6.3,-15.5 Z" fill="#fff" stroke="#555" stroke-width="0.7"/><path d="M-6.3,-27.2 Q0,-28.4 6.3,-27.2 L6.3,-29 Q0,-30.2 -6.3,-29 Z" fill="#888" stroke="#444" stroke-width="0.6"/><path d="M-5.3,-16 L-5.3,-27" stroke="#777" stroke-width="0.4"/><path d="M5.3,-16 L5.3,-27" stroke="#777" stroke-width="0.4"/></g><circle cx="468.8" cy="226.4" r="16.4" stroke="#555" stroke-width="0.8" fill="#fff"/><line x1="517.3" y1="106.4" x2="596" y2="106.4" stroke="#1a1a1a" stroke-width="1.0" /><rect x="511.3" y="104.3" width="6" height="45" fill="#fff"/><line x1="511.3" y1="104.3" x2="517.3" y2="104.3" stroke="#1a1a1a" stroke-width="0.9" /><line x1="511.7" y1="90.3" x2="511.7" y2="151.5" stroke="#1a1a1a" stroke-width="0.9" /><rect x="514.7" y="112.3" width="2.6" height="39.2" fill="#9a9a9a"/><line x1="514" y1="112.3" x2="514" y2="151.5" stroke="#1a1a1a" stroke-width="0.7" /><line x1="514" y1="112.3" x2="539.5" y2="112.3" stroke="#1a1a1a" stroke-width="0.7" /><rect x="519" y="115.2" width="18.4" height="18.7" fill="none" stroke="#999" stroke-width="0.5" stroke-dasharray="1.5,1"/><rect x="526.4" y="115.5" width="2.9" height="3.7" fill="#666"/><polyline points="519,134 535.2,138.3 537.4,133.9" stroke="#777" stroke-width="0.6" fill="none"/><rect x="539.5" y="111.8" width="45.3" height="21.9" stroke="#333" stroke-width="0.9" fill="#fff" /><rect x="541.5" y="113.5" width="41.5" height="18.5" stroke="#555" stroke-width="0.6" fill="#fff" /><circle cx="543" cy="122.7" r="1.0" stroke="#333" stroke-width="0.5" fill="none"/><circle cx="578" cy="122.7" r="0.6" stroke="#333" stroke-width="0.5" fill="none"/><line x1="514" y1="150.7" x2="534" y2="150.7" stroke="#444" stroke-width="1.0" /><polyline points="531,148.5 535.2,150.7 531,152.9" stroke="#444" stroke-width="0.8" fill="none"/><rect x="517.5" y="171.7" width="36.5" height="13.2" stroke="#333" stroke-width="0.8" fill="#fff" /><rect x="520" y="174" width="14" height="9" stroke="#444" stroke-width="0.6" fill="none" /><rect x="537" y="174" width="14" height="9" stroke="#444" stroke-width="0.6" fill="none" /><circle cx="527" cy="179" r="0.7" stroke="#333" stroke-width="0.5" fill="none"/><circle cx="544" cy="179" r="0.7" stroke="#333" stroke-width="0.5" fill="none"/><rect x="564" y="174.6" width="12" height="10.3" stroke="#333" stroke-width="0.8" fill="#fff" /><path d="M565,174.6 L565,169 Q570,163 575,169 L575,174.6" stroke="#333" stroke-width="0.8" fill="#fff" /><circle cx="580" cy="182" r="2" stroke="#444" stroke-width="0.6" fill="none"/><line x1="516.6" y1="184.9" x2="584.4" y2="184.9" stroke="#1a1a1a" stroke-width="0.8" /><line x1="511.6" y1="190.3" x2="584.4" y2="190.3" stroke="#1a1a1a" stroke-width="0.8" /><line x1="584.6" y1="106.4" x2="584.6" y2="317.4" stroke="#1a1a1a" stroke-width="1.0" /><line x1="593.3" y1="106.4" x2="593.3" y2="322.6" stroke="#1a1a1a" stroke-width="1.0" /><rect x="584.6" y="131" width="8.7" height="34.19999999999999" fill="#fff"/><line x1="584.6" y1="131" x2="593.3" y2="131" stroke="#1a1a1a" stroke-width="0.8" /><line x1="584.6" y1="165.2" x2="593.3" y2="165.2" stroke="#1a1a1a" stroke-width="0.8" /><line x1="587.5" y1="131" x2="587.5" y2="165.2" stroke="#555" stroke-width="0.5" /><line x1="590.4" y1="131" x2="590.4" y2="165.2" stroke="#555" stroke-width="0.5" /><rect x="584.6" y="209.6" width="8.7" height="21.099999999999994" fill="#fff"/><line x1="584.6" y1="209.6" x2="593.3" y2="209.6" stroke="#1a1a1a" stroke-width="0.8" /><line x1="584.6" y1="230.7" x2="593.3" y2="230.7" stroke="#1a1a1a" stroke-width="0.8" /><line x1="587.5" y1="209.6" x2="587.5" y2="230.7" stroke="#555" stroke-width="0.5" /><line x1="590.4" y1="209.6" x2="590.4" y2="230.7" stroke="#555" stroke-width="0.5" /><rect x="584.6" y="257.7" width="8.7" height="33.80000000000001" fill="#fff"/><line x1="584.6" y1="257.7" x2="593.3" y2="257.7" stroke="#1a1a1a" stroke-width="0.8" /><line x1="584.6" y1="291.5" x2="593.3" y2="291.5" stroke="#1a1a1a" stroke-width="0.8" /><line x1="587.5" y1="257.7" x2="587.5" y2="291.5" stroke="#555" stroke-width="0.5" /><line x1="590.4" y1="257.7" x2="590.4" y2="291.5" stroke="#555" stroke-width="0.5" /><rect x="587.8" y="270" width="1.6" height="12" fill="#333"/><rect x="511.6" y="171.6" width="5" height="36.8" stroke="#1a1a1a" stroke-width="0.9" fill="#fff" /><rect x="508.5" y="172.1" width="3.1" height="6.4" stroke="#666" stroke-width="0.6" fill="#fff" /><path d="M511,151 L511,171 M517,151 L517,171 M480,172.1 L508,172.1 M429,178.5 L508,178.5" stroke="#aaa" stroke-width="0.5" stroke-dasharray="2,1.5"/><line x1="511.9" y1="207.9" x2="511.9" y2="272.7" stroke="#1a1a1a" stroke-width="0.9" /><line x1="516.9" y1="207.9" x2="516.9" y2="317.4" stroke="#1a1a1a" stroke-width="0.9" /><line x1="511.9" y1="272.7" x2="516.9" y2="272.7" stroke="#1a1a1a" stroke-width="0.8" /><line x1="511" y1="272.7" x2="511" y2="322.5" stroke="#444" stroke-width="0.7" /><rect x="517.7" y="191.8" width="12.599999999999909" height="13.5" stroke="#333" stroke-width="0.8" fill="#fff" /><line x1="517.7" y1="191.8" x2="530.3" y2="205.3" stroke="#444" stroke-width="0.5" /><line x1="530.3" y1="191.8" x2="517.7" y2="205.3" stroke="#444" stroke-width="0.5" /><rect x="530.3" y="191.8" width="12.700000000000045" height="8.2" stroke="#333" stroke-width="0.8" fill="#fff" /><line x1="530.3" y1="191.8" x2="543" y2="200.0" stroke="#444" stroke-width="0.5" /><line x1="543" y1="191.8" x2="530.3" y2="200.0" stroke="#444" stroke-width="0.5" /><rect x="543" y="191.8" width="12.700000000000045" height="8.2" stroke="#333" stroke-width="0.8" fill="#fff" /><line x1="543" y1="191.8" x2="555.7" y2="200.0" stroke="#444" stroke-width="0.5" /><line x1="555.7" y1="191.8" x2="543" y2="200.0" stroke="#444" stroke-width="0.5" /><rect x="555.7" y="191.8" width="13.5" height="13.5" stroke="#333" stroke-width="0.8" fill="#fff" /><line x1="555.7" y1="191.8" x2="569.2" y2="205.3" stroke="#444" stroke-width="0.5" /><line x1="569.2" y1="191.8" x2="555.7" y2="205.3" stroke="#444" stroke-width="0.5" /><rect x="569.2" y="191.8" width="15.199999999999932" height="13.5" stroke="#333" stroke-width="0.8" fill="#fff" /><line x1="569.2" y1="191.8" x2="584.4" y2="205.3" stroke="#444" stroke-width="0.5" /><line x1="584.4" y1="191.8" x2="569.2" y2="205.3" stroke="#444" stroke-width="0.5" /><path d="M532,200 L554,200 L554,209 Q543,214 532,210 Z" stroke="#333" stroke-width="0.8" fill="#fff" /><line x1="543" y1="200" x2="543" y2="211" stroke="#444" stroke-width="0.6" /><circle cx="534.7" cy="240.8" r="4" stroke="#333" stroke-width="0.8" fill="#fff"/><circle cx="565.8" cy="240.8" r="4" stroke="#333" stroke-width="0.8" fill="#fff"/><circle cx="534.7" cy="253.6" r="4" stroke="#333" stroke-width="0.8" fill="#fff"/><circle cx="565.8" cy="253.6" r="4" stroke="#333" stroke-width="0.8" fill="#fff"/><rect x="539.6" y="230.7" width="22" height="45.6" stroke="#333" stroke-width="0.8" fill="#fff" /><rect x="541.5" y="264.5" width="18.2" height="10.1" stroke="#333" stroke-width="0.8" fill="#fff" /><rect x="543" y="266" width="15.2" height="7" stroke="#555" stroke-width="0.5" fill="none" /><circle cx="550.6" cy="269.5" r="0.7" stroke="#333" stroke-width="0.5" fill="none"/><rect x="516.9" y="301.4" width="67.7" height="16" stroke="#333" stroke-width="0.8" fill="#fff" /><rect x="540.5" y="304.5" width="20.2" height="11" stroke="#333" stroke-width="0.8" fill="#fff" /><circle cx="545.5" cy="310" r="2.8" stroke="#333" stroke-width="0.7" fill="none"/><circle cx="555.5" cy="310" r="2.8" stroke="#333" stroke-width="0.7" fill="none"/><circle cx="545.5" cy="310" r="1.2" stroke="#333" stroke-width="0.5" fill="none"/><circle cx="555.5" cy="310" r="1.2" stroke="#333" stroke-width="0.5" fill="none"/><line x1="516.9" y1="317.4" x2="593.3" y2="317.4" stroke="#1a1a1a" stroke-width="0.9" /><line x1="511" y1="322.5" x2="696" y2="322.5" stroke="#1a1a1a" stroke-width="1.1" /><line x1="593.3" y1="106.4" x2="696.2" y2="106.4" stroke="#1a1a1a" stroke-width="1.2" /><line x1="696.2" y1="106.4" x2="696.2" y2="323.1" stroke="#1a1a1a" stroke-width="1.2" /><rect x="593.8" y="122.5" width="96" height="69.5" fill="url(#vl)"/><rect x="593.8" y="107" width="96" height="15.5" fill="#fff"/><line x1="593.8" y1="111.6" x2="690" y2="111.6" stroke="#888" stroke-width="0.6" /><ellipse cx="618.1" cy="117.1" rx="1.2" ry="1.0" fill="#fff" stroke="#555" stroke-width="0.45"/><ellipse cx="655.7" cy="113.1" rx="0.8" ry="0.7" fill="#fff" stroke="#555" stroke-width="0.45"/><ellipse cx="620.2" cy="114.5" rx="2.0" ry="1.6" fill="#fff" stroke="#555" stroke-width="0.45"/><ellipse cx="676.1" cy="116.5" rx="1.6" ry="1.3" fill="#666" stroke="#555" stroke-width="0.45"/><ellipse cx="656.6" cy="119.9" rx="1.4" ry="1.1" fill="#fff" stroke="#555" stroke-width="0.45"/><ellipse cx="660.1" cy="113.0" rx="1.7" ry="1.4" fill="#fff" stroke="#555" stroke-width="0.45"/><ellipse cx="624.2" cy="112.8" rx="1.8" ry="1.5" fill="#fff" stroke="#555" stroke-width="0.45"/><ellipse cx="664.7" cy="120.0" rx="1.7" ry="1.3" fill="#fff" stroke="#555" stroke-width="0.45"/><ellipse cx="633.3" cy="119.3" rx="1.3" ry="1.1" fill="#fff" stroke="#555" stroke-width="0.45"/><ellipse cx="680.3" cy="113.3" rx="1.0" ry="0.8" fill="#666" stroke="#555" stroke-width="0.45"/><ellipse cx="688.7" cy="116.2" rx="1.6" ry="1.2" fill="#666" stroke="#555" stroke-width="0.45"/><ellipse cx="644.2" cy="115.8" rx="1.2" ry="1.0" fill="#fff" stroke="#555" stroke-width="0.45"/><ellipse cx="651.7" cy="120.2" rx="1.6" ry="1.3" fill="#fff" stroke="#555" stroke-width="0.45"/><ellipse cx="678.1" cy="120.9" rx="1.6" ry="1.3" fill="#666" stroke="#555" stroke-width="0.45"/><ellipse cx="678.5" cy="120.7" rx="1.9" ry="1.5" fill="#fff" stroke="#555" stroke-width="0.45"/><ellipse cx="664.2" cy="114.3" rx="1.8" ry="1.4" fill="#fff" stroke="#555" stroke-width="0.45"/><ellipse cx="622.6" cy="113.0" rx="1.8" ry="1.5" fill="#fff" stroke="#555" stroke-width="0.45"/><ellipse cx="603.6" cy="119.3" rx="1.3" ry="1.0" fill="#666" stroke="#555" stroke-width="0.45"/><ellipse cx="623.5" cy="119.0" rx="1.8" ry="1.5" fill="#666" stroke="#555" stroke-width="0.45"/><ellipse cx="654.6" cy="112.9" rx="1.7" ry="1.3" fill="#666" stroke="#555" stroke-width="0.45"/><ellipse cx="680.4" cy="120.8" rx="1.4" ry="1.1" fill="#fff" stroke="#555" stroke-width="0.45"/><ellipse cx="625.0" cy="113.2" rx="1.5" ry="1.2" fill="#666" stroke="#555" stroke-width="0.45"/><ellipse cx="614.1" cy="116.0" rx="1.5" ry="1.2" fill="#666" stroke="#555" stroke-width="0.45"/><ellipse cx="599.1" cy="119.9" rx="1.2" ry="0.9" fill="#fff" stroke="#555" stroke-width="0.45"/><ellipse cx="682.0" cy="115.7" rx="1.4" ry="1.1" fill="#fff" stroke="#555" stroke-width="0.45"/><ellipse cx="657.5" cy="117.6" rx="1.5" ry="1.2" fill="#fff" stroke="#555" stroke-width="0.45"/><ellipse cx="686.2" cy="116.8" rx="1.3" ry="1.1" fill="#fff" stroke="#555" stroke-width="0.45"/><ellipse cx="618.1" cy="115.1" rx="2.0" ry="1.6" fill="#fff" stroke="#555" stroke-width="0.45"/><ellipse cx="648.2" cy="112.6" rx="1.3" ry="1.0" fill="#fff" stroke="#555" stroke-width="0.45"/><ellipse cx="596.9" cy="117.7" rx="1.6" ry="1.2" fill="#666" stroke="#555" stroke-width="0.45"/><ellipse cx="655.9" cy="116.5" rx="1.6" ry="1.3" fill="#fff" stroke="#555" stroke-width="0.45"/><ellipse cx="663.6" cy="118.8" rx="0.8" ry="0.7" fill="#666" stroke="#555" stroke-width="0.45"/><ellipse cx="660.6" cy="120.7" rx="1.1" ry="0.9" fill="#fff" stroke="#555" stroke-width="0.45"/><ellipse cx="652.5" cy="115.2" rx="1.2" ry="1.0" fill="#666" stroke="#555" stroke-width="0.45"/><ellipse cx="630.8" cy="117.6" rx="1.2" ry="0.9" fill="#fff" stroke="#555" stroke-width="0.45"/><ellipse cx="669.9" cy="112.7" rx="1.5" ry="1.2" fill="#fff" stroke="#555" stroke-width="0.45"/><ellipse cx="625.1" cy="114.4" rx="1.8" ry="1.4" fill="#666" stroke="#555" stroke-width="0.45"/><ellipse cx="613.2" cy="116.2" rx="1.6" ry="1.3" fill="#666" stroke="#555" stroke-width="0.45"/><ellipse cx="626.2" cy="115.3" rx="1.8" ry="1.4" fill="#fff" stroke="#555" stroke-width="0.45"/><ellipse cx="678.0" cy="113.9" rx="1.2" ry="1.0" fill="#fff" stroke="#555" stroke-width="0.45"/><ellipse cx="680.8" cy="116.3" rx="1.1" ry="0.9" fill="#666" stroke="#555" stroke-width="0.45"/><ellipse cx="646.4" cy="114.1" rx="1.8" ry="1.4" fill="#fff" stroke="#555" stroke-width="0.45"/><ellipse cx="612.8" cy="114.9" rx="1.8" ry="1.4" fill="#fff" stroke="#555" stroke-width="0.45"/><ellipse cx="673.2" cy="115.4" rx="1.0" ry="0.8" fill="#666" stroke="#555" stroke-width="0.45"/><ellipse cx="672.0" cy="114.8" rx="1.2" ry="1.0" fill="#fff" stroke="#555" stroke-width="0.45"/><ellipse cx="635.7" cy="116.0" rx="1.9" ry="1.5" fill="#666" stroke="#555" stroke-width="0.45"/><ellipse cx="595.5" cy="120.5" rx="1.9" ry="1.5" fill="#fff" stroke="#555" stroke-width="0.45"/><ellipse cx="637.1" cy="120.6" rx="1.9" ry="1.5" fill="#666" stroke="#555" stroke-width="0.45"/><ellipse cx="667.3" cy="119.6" rx="1.6" ry="1.3" fill="#fff" stroke="#555" stroke-width="0.45"/><ellipse cx="623.0" cy="115.4" rx="1.1" ry="0.9" fill="#666" stroke="#555" stroke-width="0.45"/><ellipse cx="652.1" cy="114.9" rx="1.8" ry="1.4" fill="#666" stroke="#555" stroke-width="0.45"/><ellipse cx="682.7" cy="118.4" rx="1.9" ry="1.5" fill="#fff" stroke="#555" stroke-width="0.45"/><ellipse cx="682.3" cy="117.4" rx="0.8" ry="0.7" fill="#fff" stroke="#555" stroke-width="0.45"/><ellipse cx="611.7" cy="115.0" rx="1.6" ry="1.3" fill="#fff" stroke="#555" stroke-width="0.45"/><ellipse cx="635.1" cy="120.5" rx="1.5" ry="1.2" fill="#666" stroke="#555" stroke-width="0.45"/><ellipse cx="619.5" cy="119.8" rx="1.4" ry="1.1" fill="#fff" stroke="#555" stroke-width="0.45"/><ellipse cx="629.1" cy="114.2" rx="1.4" ry="1.2" fill="#fff" stroke="#555" stroke-width="0.45"/><ellipse cx="611.6" cy="119.2" rx="1.9" ry="1.5" fill="#fff" stroke="#555" stroke-width="0.45"/><ellipse cx="674.9" cy="112.6" rx="1.6" ry="1.2" fill="#fff" stroke="#555" stroke-width="0.45"/><ellipse cx="599.8" cy="114.8" rx="1.1" ry="0.9" fill="#fff" stroke="#555" stroke-width="0.45"/><ellipse cx="636.0" cy="116.5" rx="1.7" ry="1.4" fill="#666" stroke="#555" stroke-width="0.45"/><ellipse cx="600.3" cy="113.6" rx="0.9" ry="0.8" fill="#666" stroke="#555" stroke-width="0.45"/><ellipse cx="689.5" cy="119.8" rx="0.9" ry="0.7" fill="#fff" stroke="#555" stroke-width="0.45"/><ellipse cx="625.6" cy="115.2" rx="1.2" ry="1.0" fill="#fff" stroke="#555" stroke-width="0.45"/><ellipse cx="651.9" cy="115.6" rx="1.0" ry="0.8" fill="#666" stroke="#555" stroke-width="0.45"/><ellipse cx="607.0" cy="117.2" rx="1.7" ry="1.3" fill="#fff" stroke="#555" stroke-width="0.45"/><ellipse cx="602.8" cy="114.0" rx="1.2" ry="1.0" fill="#fff" stroke="#555" stroke-width="0.45"/><ellipse cx="670.9" cy="115.7" rx="1.8" ry="1.4" fill="#fff" stroke="#555" stroke-width="0.45"/><ellipse cx="636.9" cy="115.7" rx="1.4" ry="1.1" fill="#fff" stroke="#555" stroke-width="0.45"/><ellipse cx="635.8" cy="118.4" rx="1.4" ry="1.1" fill="#666" stroke="#555" stroke-width="0.45"/><ellipse cx="647.0" cy="118.4" rx="0.9" ry="0.7" fill="#fff" stroke="#555" stroke-width="0.45"/><ellipse cx="636.3" cy="120.0" rx="1.9" ry="1.5" fill="#fff" stroke="#555" stroke-width="0.45"/><ellipse cx="682.1" cy="119.2" rx="1.1" ry="0.9" fill="#fff" stroke="#555" stroke-width="0.45"/><ellipse cx="606.9" cy="119.4" rx="1.6" ry="1.3" fill="#fff" stroke="#555" stroke-width="0.45"/><ellipse cx="671.9" cy="118.2" rx="1.7" ry="1.3" fill="#fff" stroke="#555" stroke-width="0.45"/><ellipse cx="605.0" cy="117.5" rx="0.8" ry="0.6" fill="#666" stroke="#555" stroke-width="0.45"/><ellipse cx="670.1" cy="112.9" rx="0.9" ry="0.7" fill="#666" stroke="#555" stroke-width="0.45"/><ellipse cx="680.4" cy="114.0" rx="0.8" ry="0.7" fill="#fff" stroke="#555" stroke-width="0.45"/><ellipse cx="606.8" cy="119.7" rx="1.6" ry="1.3" fill="#fff" stroke="#555" stroke-width="0.45"/><ellipse cx="687.4" cy="117.4" rx="1.8" ry="1.4" fill="#666" stroke="#555" stroke-width="0.45"/><ellipse cx="669.4" cy="116.8" rx="1.7" ry="1.3" fill="#666" stroke="#555" stroke-width="0.45"/><ellipse cx="667.6" cy="120.4" rx="0.9" ry="0.7" fill="#666" stroke="#555" stroke-width="0.45"/><ellipse cx="649.7" cy="119.5" rx="1.1" ry="0.9" fill="#666" stroke="#555" stroke-width="0.45"/><ellipse cx="619.2" cy="117.7" rx="1.7" ry="1.4" fill="#fff" stroke="#555" stroke-width="0.45"/><ellipse cx="630.6" cy="115.9" rx="1.2" ry="1.0" fill="#fff" stroke="#555" stroke-width="0.45"/><ellipse cx="603.1" cy="116.8" rx="2.0" ry="1.6" fill="#fff" stroke="#555" stroke-width="0.45"/><ellipse cx="667.5" cy="113.9" rx="1.6" ry="1.3" fill="#fff" stroke="#555" stroke-width="0.45"/><ellipse cx="660.4" cy="116.9" rx="1.4" ry="1.1" fill="#fff" stroke="#555" stroke-width="0.45"/><ellipse cx="682.0" cy="113.8" rx="0.9" ry="0.7" fill="#fff" stroke="#555" stroke-width="0.45"/><ellipse cx="683.9" cy="116.9" rx="1.3" ry="1.1" fill="#fff" stroke="#555" stroke-width="0.45"/><ellipse cx="613.1" cy="114.8" rx="1.0" ry="0.8" fill="#fff" stroke="#555" stroke-width="0.45"/><ellipse cx="625.5" cy="114.5" rx="1.6" ry="1.3" fill="#fff" stroke="#555" stroke-width="0.45"/><ellipse cx="623.7" cy="118.5" rx="1.3" ry="1.0" fill="#fff" stroke="#555" stroke-width="0.45"/><ellipse cx="651.7" cy="114.8" rx="1.1" ry="0.8" fill="#666" stroke="#555" stroke-width="0.45"/><ellipse cx="641.5" cy="115.8" rx="1.0" ry="0.8" fill="#fff" stroke="#555" stroke-width="0.45"/><ellipse cx="626.2" cy="119.1" rx="1.0" ry="0.8" fill="#fff" stroke="#555" stroke-width="0.45"/><ellipse cx="641.5" cy="117.6" rx="1.4" ry="1.1" fill="#fff" stroke="#555" stroke-width="0.45"/><ellipse cx="674.7" cy="117.2" rx="1.4" ry="1.1" fill="#fff" stroke="#555" stroke-width="0.45"/><ellipse cx="678.1" cy="115.9" rx="1.7" ry="1.3" fill="#fff" stroke="#555" stroke-width="0.45"/><ellipse cx="640.3" cy="114.5" rx="1.1" ry="0.9" fill="#fff" stroke="#555" stroke-width="0.45"/><ellipse cx="660.5" cy="120.6" rx="1.8" ry="1.5" fill="#666" stroke="#555" stroke-width="0.45"/><ellipse cx="613.4" cy="114.7" rx="1.0" ry="0.8" fill="#fff" stroke="#555" stroke-width="0.45"/><ellipse cx="678.3" cy="120.1" rx="1.1" ry="0.9" fill="#fff" stroke="#555" stroke-width="0.45"/><ellipse cx="625.4" cy="116.1" rx="1.7" ry="1.3" fill="#666" stroke="#555" stroke-width="0.45"/><ellipse cx="604.0" cy="119.6" rx="1.2" ry="0.9" fill="#fff" stroke="#555" stroke-width="0.45"/><ellipse cx="651.3" cy="118.2" rx="0.8" ry="0.6" fill="#666" stroke="#555" stroke-width="0.45"/><ellipse cx="637.3" cy="116.6" rx="1.1" ry="0.8" fill="#fff" stroke="#555" stroke-width="0.45"/><ellipse cx="687.7" cy="115.8" rx="1.5" ry="1.2" fill="#666" stroke="#555" stroke-width="0.45"/><ellipse cx="621.7" cy="118.2" rx="0.9" ry="0.7" fill="#fff" stroke="#555" stroke-width="0.45"/><ellipse cx="683.1" cy="113.3" rx="1.9" ry="1.5" fill="#fff" stroke="#555" stroke-width="0.45"/><ellipse cx="669.9" cy="118.9" rx="1.2" ry="0.9" fill="#fff" stroke="#555" stroke-width="0.45"/><ellipse cx="658.4" cy="119.4" rx="1.1" ry="0.9" fill="#fff" stroke="#555" stroke-width="0.45"/><ellipse cx="688.2" cy="118.2" rx="1.4" ry="1.2" fill="#666" stroke="#555" stroke-width="0.45"/><ellipse cx="642.9" cy="115.5" rx="1.7" ry="1.3" fill="#fff" stroke="#555" stroke-width="0.45"/><ellipse cx="649.9" cy="114.0" rx="1.6" ry="1.3" fill="#fff" stroke="#555" stroke-width="0.45"/><ellipse cx="612.4" cy="120.1" rx="1.6" ry="1.3" fill="#666" stroke="#555" stroke-width="0.45"/><ellipse cx="685.4" cy="113.7" rx="1.2" ry="1.0" fill="#fff" stroke="#555" stroke-width="0.45"/><ellipse cx="653.0" cy="117.2" rx="1.6" ry="1.3" fill="#fff" stroke="#555" stroke-width="0.45"/><ellipse cx="625.3" cy="114.0" rx="0.9" ry="0.7" fill="#fff" stroke="#555" stroke-width="0.45"/><ellipse cx="668.2" cy="117.1" rx="1.7" ry="1.4" fill="#fff" stroke="#555" stroke-width="0.45"/><ellipse cx="620.8" cy="115.8" rx="1.8" ry="1.5" fill="#666" stroke="#555" stroke-width="0.45"/><ellipse cx="644.0" cy="114.6" rx="1.7" ry="1.4" fill="#fff" stroke="#555" stroke-width="0.45"/><ellipse cx="627.3" cy="115.9" rx="1.4" ry="1.2" fill="#fff" stroke="#555" stroke-width="0.45"/><ellipse cx="629.2" cy="119.7" rx="0.9" ry="0.7" fill="#666" stroke="#555" stroke-width="0.45"/><ellipse cx="604.7" cy="113.5" rx="1.7" ry="1.4" fill="#fff" stroke="#555" stroke-width="0.45"/><ellipse cx="612.9" cy="114.1" rx="1.3" ry="1.0" fill="#fff" stroke="#555" stroke-width="0.45"/><ellipse cx="674.1" cy="118.9" rx="1.5" ry="1.2" fill="#666" stroke="#555" stroke-width="0.45"/><ellipse cx="633.6" cy="114.1" rx="1.4" ry="1.1" fill="#fff" stroke="#555" stroke-width="0.45"/><ellipse cx="614.6" cy="114.6" rx="1.7" ry="1.4" fill="#666" stroke="#555" stroke-width="0.45"/><ellipse cx="672.9" cy="120.1" rx="1.9" ry="1.6" fill="#fff" stroke="#555" stroke-width="0.45"/><ellipse cx="648.6" cy="117.5" rx="1.6" ry="1.2" fill="#fff" stroke="#555" stroke-width="0.45"/><ellipse cx="661.6" cy="115.0" rx="1.8" ry="1.5" fill="#fff" stroke="#555" stroke-width="0.45"/><ellipse cx="653.3" cy="118.7" rx="0.8" ry="0.6" fill="#fff" stroke="#555" stroke-width="0.45"/><ellipse cx="659.2" cy="116.7" rx="1.4" ry="1.1" fill="#fff" stroke="#555" stroke-width="0.45"/><ellipse cx="613.8" cy="117.0" rx="0.8" ry="0.7" fill="#fff" stroke="#555" stroke-width="0.45"/><ellipse cx="657.7" cy="116.3" rx="1.5" ry="1.2" fill="#fff" stroke="#555" stroke-width="0.45"/><ellipse cx="681.5" cy="113.7" rx="1.8" ry="1.4" fill="#fff" stroke="#555" stroke-width="0.45"/><ellipse cx="599.9" cy="115.6" rx="1.1" ry="0.9" fill="#666" stroke="#555" stroke-width="0.45"/><ellipse cx="647.3" cy="120.4" rx="1.2" ry="1.0" fill="#fff" stroke="#555" stroke-width="0.45"/><ellipse cx="662.4" cy="113.6" rx="1.8" ry="1.5" fill="#fff" stroke="#555" stroke-width="0.45"/><ellipse cx="684.9" cy="118.6" rx="1.7" ry="1.4" fill="#666" stroke="#555" stroke-width="0.45"/><ellipse cx="673.2" cy="120.4" rx="1.8" ry="1.5" fill="#fff" stroke="#555" stroke-width="0.45"/><ellipse cx="668.4" cy="116.6" rx="0.9" ry="0.7" fill="#666" stroke="#555" stroke-width="0.45"/><ellipse cx="602.6" cy="114.2" rx="1.0" ry="0.8" fill="#fff" stroke="#555" stroke-width="0.45"/><ellipse cx="662.8" cy="117.1" rx="1.3" ry="1.0" fill="#fff" stroke="#555" stroke-width="0.45"/><ellipse cx="624.6" cy="116.4" rx="1.7" ry="1.4" fill="#fff" stroke="#555" stroke-width="0.45"/><ellipse cx="612.5" cy="120.1" rx="1.7" ry="1.3" fill="#fff" stroke="#555" stroke-width="0.45"/><ellipse cx="631.0" cy="117.0" rx="1.5" ry="1.2" fill="#666" stroke="#555" stroke-width="0.45"/><ellipse cx="595.3" cy="114.3" rx="1.7" ry="1.4" fill="#666" stroke="#555" stroke-width="0.45"/><ellipse cx="639.6" cy="114.2" rx="1.1" ry="0.8" fill="#666" stroke="#555" stroke-width="0.45"/><ellipse cx="634.2" cy="113.9" rx="0.8" ry="0.7" fill="#666" stroke="#555" stroke-width="0.45"/><ellipse cx="611.3" cy="116.7" rx="0.9" ry="0.7" fill="#666" stroke="#555" stroke-width="0.45"/><ellipse cx="638.5" cy="116.0" rx="1.6" ry="1.3" fill="#666" stroke="#555" stroke-width="0.45"/><ellipse cx="634.1" cy="115.9" rx="0.8" ry="0.7" fill="#fff" stroke="#555" stroke-width="0.45"/><ellipse cx="616.2" cy="113.3" rx="1.4" ry="1.1" fill="#666" stroke="#555" stroke-width="0.45"/><ellipse cx="655.4" cy="115.4" rx="0.9" ry="0.8" fill="#666" stroke="#555" stroke-width="0.45"/><ellipse cx="665.6" cy="114.8" rx="1.7" ry="1.4" fill="#fff" stroke="#555" stroke-width="0.45"/><ellipse cx="685.5" cy="115.1" rx="1.1" ry="0.9" fill="#666" stroke="#555" stroke-width="0.45"/><ellipse cx="674.0" cy="117.8" rx="1.2" ry="1.0" fill="#666" stroke="#555" stroke-width="0.45"/><ellipse cx="661.2" cy="120.7" rx="1.5" ry="1.2" fill="#666" stroke="#555" stroke-width="0.45"/><ellipse cx="597.9" cy="113.3" rx="1.0" ry="0.8" fill="#666" stroke="#555" stroke-width="0.45"/><ellipse cx="600.2" cy="118.1" rx="1.9" ry="1.5" fill="#666" stroke="#555" stroke-width="0.45"/><ellipse cx="689.5" cy="116.6" rx="1.8" ry="1.4" fill="#fff" stroke="#555" stroke-width="0.45"/><ellipse cx="686.2" cy="112.8" rx="1.2" ry="0.9" fill="#fff" stroke="#555" stroke-width="0.45"/><ellipse cx="686.8" cy="113.2" rx="1.2" ry="0.9" fill="#fff" stroke="#555" stroke-width="0.45"/><ellipse cx="606.1" cy="115.8" rx="1.2" ry="1.0" fill="#fff" stroke="#555" stroke-width="0.45"/><ellipse cx="685.1" cy="114.0" rx="1.7" ry="1.4" fill="#fff" stroke="#555" stroke-width="0.45"/><ellipse cx="676.1" cy="117.2" rx="1.9" ry="1.5" fill="#fff" stroke="#555" stroke-width="0.45"/><ellipse cx="635.2" cy="114.4" rx="1.7" ry="1.4" fill="#fff" stroke="#555" stroke-width="0.45"/><ellipse cx="621.1" cy="113.9" rx="1.7" ry="1.3" fill="#fff" stroke="#555" stroke-width="0.45"/><line x1="594" y1="121.8" x2="690" y2="121.8" stroke="#666" stroke-width="1.1" stroke-dasharray="1.2,0.8"/><ellipse cx="672.6" cy="127.4" rx="2.5" ry="1.7" fill="none" stroke="#888" stroke-width="0.4"/><ellipse cx="639.2" cy="131.9" rx="1.5" ry="1.1" fill="none" stroke="#888" stroke-width="0.4"/><ellipse cx="658.0" cy="132.6" rx="2.9" ry="2.0" fill="none" stroke="#888" stroke-width="0.4"/><ellipse cx="635.8" cy="125.3" rx="3.2" ry="2.2" fill="none" stroke="#888" stroke-width="0.4"/><ellipse cx="668.5" cy="134.3" rx="3.2" ry="2.3" fill="none" stroke="#888" stroke-width="0.4"/><ellipse cx="657.0" cy="134.6" rx="3.0" ry="2.1" fill="none" stroke="#888" stroke-width="0.4"/><ellipse cx="650.0" cy="127.2" rx="1.6" ry="1.2" fill="none" stroke="#888" stroke-width="0.4"/><ellipse cx="654.0" cy="135.4" rx="1.7" ry="1.2" fill="none" stroke="#888" stroke-width="0.4"/><ellipse cx="664.1" cy="123.5" rx="1.7" ry="1.2" fill="none" stroke="#888" stroke-width="0.4"/><ellipse cx="668.9" cy="125.4" rx="1.6" ry="1.1" fill="none" stroke="#888" stroke-width="0.4"/><ellipse cx="639.2" cy="131.0" rx="2.7" ry="1.9" fill="none" stroke="#888" stroke-width="0.4"/><ellipse cx="630.7" cy="125.2" rx="3.4" ry="2.4" fill="none" stroke="#888" stroke-width="0.4"/><ellipse cx="643.2" cy="129.9" rx="2.3" ry="1.6" fill="none" stroke="#888" stroke-width="0.4"/><ellipse cx="676.9" cy="130.5" rx="3.1" ry="2.2" fill="none" stroke="#888" stroke-width="0.4"/><ellipse cx="662.1" cy="124.6" rx="1.9" ry="1.3" fill="none" stroke="#888" stroke-width="0.4"/><ellipse cx="634.7" cy="133.6" rx="1.7" ry="1.2" fill="none" stroke="#888" stroke-width="0.4"/><ellipse cx="631.4" cy="135.5" rx="1.9" ry="1.3" fill="none" stroke="#888" stroke-width="0.4"/><ellipse cx="683.6" cy="123.2" rx="2.4" ry="1.7" fill="none" stroke="#888" stroke-width="0.4"/><ellipse cx="643.4" cy="133.6" rx="2.7" ry="1.9" fill="none" stroke="#888" stroke-width="0.4"/><ellipse cx="668.5" cy="132.7" rx="3.2" ry="2.3" fill="none" stroke="#888" stroke-width="0.4"/><ellipse cx="650.8" cy="130.4" rx="2.4" ry="1.7" fill="none" stroke="#888" stroke-width="0.4"/><ellipse cx="636.7" cy="133.7" rx="2.7" ry="1.9" fill="none" stroke="#888" stroke-width="0.4"/><ellipse cx="678.9" cy="124.9" rx="2.6" ry="1.8" fill="none" stroke="#888" stroke-width="0.4"/><ellipse cx="657.9" cy="132.2" rx="1.7" ry="1.2" fill="none" stroke="#888" stroke-width="0.4"/><ellipse cx="650.8" cy="128.8" rx="1.6" ry="1.2" fill="none" stroke="#888" stroke-width="0.4"/><ellipse cx="663.2" cy="132.3" rx="2.3" ry="1.6" fill="none" stroke="#888" stroke-width="0.4"/><g transform="translate(634.5,159.5) rotate(-35)"><rect x="-6" y="-8" width="12" height="16" fill="#fff" stroke="#444" stroke-width="0.7"/><line x1="-6" y1="-6" x2="6" y2="-6" stroke="#555" stroke-width="0.5"/><line x1="-6" y1="-4" x2="6" y2="-4" stroke="#555" stroke-width="0.5"/><line x1="-6" y1="-2" x2="6" y2="-2" stroke="#555" stroke-width="0.5"/><line x1="-6" y1="0" x2="6" y2="0" stroke="#555" stroke-width="0.5"/><line x1="-6" y1="2" x2="6" y2="2" stroke="#555" stroke-width="0.5"/><line x1="-6" y1="4" x2="6" y2="4" stroke="#555" stroke-width="0.5"/><line x1="-6" y1="6" x2="6" y2="6" stroke="#555" stroke-width="0.5"/></g><path d="M662.8,130.7 Q667.4,139.0 676.9,139.7 Q674.3,148.8 680.5,156.0 Q672.2,160.6 671.5,170.1 Q662.4,167.5 655.2,173.7 Q650.6,165.4 641.1,164.7 Q643.7,155.6 637.5,148.4 Q645.8,143.8 646.5,134.3 Q655.6,136.9 662.8,130.7 Z" stroke="#8a8a8a" stroke-width="1.5" fill="#fff" /><path d="M662.8,130.7 Q667.4,139.0 676.9,139.7 Q674.3,148.8 680.5,156.0 Q672.2,160.6 671.5,170.1 Q662.4,167.5 655.2,173.7 Q650.6,165.4 641.1,164.7 Q643.7,155.6 637.5,148.4 Q645.8,143.8 646.5,134.3 Q655.6,136.9 662.8,130.7 Z" stroke="#444" stroke-width="0.5" fill="none" /><line x1="659" y1="152.2" x2="662.7855302731391" y2="130.73119098433386" stroke="#444" stroke-width="0.5" /><line x1="659" y1="152.2" x2="676.8575145655" y2="139.69603368754719" stroke="#444" stroke-width="0.5" /><line x1="659" y1="152.2" x2="680.4688090156661" y2="155.98553027313906" stroke="#444" stroke-width="0.5" /><line x1="659" y1="152.2" x2="671.5039663124528" y2="170.05751456550001" stroke="#444" stroke-width="0.5" /><line x1="659" y1="152.2" x2="655.2144697268609" y2="173.6688090156661" stroke="#444" stroke-width="0.5" /><line x1="659" y1="152.2" x2="641.1424854345" y2="164.7039663124528" stroke="#444" stroke-width="0.5" /><line x1="659" y1="152.2" x2="637.5311909843339" y2="148.41446972686091" stroke="#444" stroke-width="0.5" /><line x1="659" y1="152.2" x2="646.4960336875472" y2="134.34248543449996" stroke="#444" stroke-width="0.5" /><rect x="593.8" y="192" width="96" height="56" fill="url(#hb2)"/><line x1="593.3" y1="192" x2="690.4" y2="192" stroke="#555" stroke-width="0.8" /><line x1="593.3" y1="193.2" x2="690.4" y2="193.2" stroke="#777" stroke-width="0.5" /><line x1="593.3" y1="248.1" x2="690.4" y2="248.1" stroke="#555" stroke-width="0.8" /><line x1="593.3" y1="247" x2="690.4" y2="247" stroke="#777" stroke-width="0.5" /><line x1="690.4" y1="107" x2="690.4" y2="317" stroke="#1a1a1a" stroke-width="0.8" /><line x1="692.8" y1="157.8" x2="692.8" y2="259" stroke="#555" stroke-width="0.5" /><line x1="692.8" y1="307" x2="692.8" y2="317" stroke="#555" stroke-width="0.5" /><rect x="593.5" y="248.1" width="17.5" height="9.7" stroke="#333" stroke-width="0.7" fill="#fff" /><line x1="613.4" y1="257.8" x2="613.4" y2="317" stroke="#1a1a1a" stroke-width="0.8" /><line x1="620.5" y1="248.1" x2="620.5" y2="317" stroke="#1a1a1a" stroke-width="0.8" /><line x1="611" y1="248.1" x2="611" y2="266.8" stroke="#333" stroke-width="0.7" /><line x1="611" y1="266.8" x2="620.5" y2="266.8" stroke="#333" stroke-width="0.7" /><rect x="595.5" y="301.8" width="15.5" height="15.2" stroke="#333" stroke-width="0.7" fill="#fff" /><rect x="597.5" y="303" width="11" height="2.5" stroke="#444" stroke-width="0.5" fill="none" /><rect x="621" y="248.6" width="69.2" height="68.4" fill="url(#gr2)"/><circle cx="669.7" cy="281.6" r="8.5" stroke="#222" stroke-width="0.8" fill="#fff"/><line x1="669.7" y1="281.6" x2="675.622007029451" y2="287.697526772646" stroke="#333" stroke-width="0.5" /><line x1="669.7" y1="281.6" x2="668.6250725933521" y2="290.03175729432706" stroke="#333" stroke-width="0.5" /><line x1="669.7" y1="281.6" x2="662.4375804189823" y2="286.01670259687586" stroke="#333" stroke-width="0.5" /><line x1="669.7" y1="281.6" x2="661.7188383154804" y2="278.67578075966316" stroke="#333" stroke-width="0.5" /><line x1="669.7" y1="281.6" x2="667.0100737464505" y2="273.5368556536259" stroke="#333" stroke-width="0.5" /><line x1="669.7" y1="281.6" x2="674.3268785108393" y2="274.4696426985786" stroke="#333" stroke-width="0.5" /><line x1="669.7" y1="281.6" x2="678.1595493854447" y2="280.77173422428365" stroke="#333" stroke-width="0.5" /><line x1="652" y1="292" x2="662" y2="285" stroke="#444" stroke-width="0.5" /><line x1="593.3" y1="317" x2="696.2" y2="317" stroke="#1a1a1a" stroke-width="0.9" /><line x1="262.2" y1="281.4" x2="262.2" y2="349.5" stroke="#1a1a1a" stroke-width="0.9" /><line x1="256" y1="286.2" x2="256" y2="338.5" stroke="#555" stroke-width="0.5" /><line x1="258.5" y1="286.2" x2="258.5" y2="338.5" stroke="#555" stroke-width="0.5" /><line x1="254.4" y1="286.2" x2="262.2" y2="286.2" stroke="#1a1a1a" stroke-width="0.7" /><line x1="254.4" y1="338.5" x2="262.2" y2="338.5" stroke="#1a1a1a" stroke-width="0.7" /><rect x="262.7" y="282" width="4.8" height="67" fill="url(#vl2)"/><line x1="267.5" y1="282" x2="267.5" y2="349.5" stroke="#666" stroke-width="0.5" /><line x1="262.2" y1="349.5" x2="424" y2="349.5" stroke="#1a1a1a" stroke-width="0.9" /><circle cx="280.4" cy="298.4" r="9.7" stroke="#333" stroke-width="0.8" fill="#fff"/><circle cx="280.4" cy="298.4" r="7.499999999999999" stroke="#333" stroke-width="0.7" fill="none"/><circle cx="280.4" cy="333.7" r="9.7" stroke="#333" stroke-width="0.8" fill="#fff"/><circle cx="280.4" cy="333.7" r="7.499999999999999" stroke="#333" stroke-width="0.7" fill="none"/><circle cx="280.4" cy="315.4" r="5.5" stroke="#444" stroke-width="0.7" fill="#fff"/><rect x="299.9" y="285.5" width="62" height="53" stroke="#444" stroke-width="0.7" fill="none" /><rect x="303" y="288.7" width="56" height="47.4" stroke="#555" stroke-width="0.6" fill="none" /><rect x="308.4" y="300.8" width="45.7" height="40.2" stroke="#333" stroke-width="0.8" fill="#fff" rx="2"/><rect x="309.6" y="341" width="42.6" height="8.5" stroke="#333" stroke-width="0.8" fill="#fff" rx="2"/><polyline points="310,333 352,339 318,328 312,334" stroke="#444" stroke-width="0.6" fill="none"/><line x1="310" y1="337" x2="353" y2="339.5" stroke="#555" stroke-width="0.5" /><rect x="296.7" y="337.3" width="11.7" height="12.2" stroke="#333" stroke-width="0.8" fill="#fff" /><circle cx="302.55" cy="343.4" r="3.0" stroke="#444" stroke-width="0.8" fill="none"/><circle cx="302.55" cy="343.4" r="1.7" stroke="#555" stroke-width="0.5" fill="none"/><line x1="302.55" y1="338.6" x2="302.55" y2="348.2" stroke="#666" stroke-width="0.5" /><line x1="297.9" y1="343.4" x2="307.2" y2="343.4" stroke="#666" stroke-width="0.5" /><rect x="353.4" y="337.3" width="11.7" height="12.2" stroke="#333" stroke-width="0.8" fill="#fff" /><circle cx="359.25" cy="343.4" r="3.0" stroke="#444" stroke-width="0.8" fill="none"/><circle cx="359.25" cy="343.4" r="1.7" stroke="#555" stroke-width="0.5" fill="none"/><line x1="359.25" y1="338.6" x2="359.25" y2="348.2" stroke="#666" stroke-width="0.5" /><line x1="354.59999999999997" y1="343.4" x2="363.9" y2="343.4" stroke="#666" stroke-width="0.5" /><rect x="315.2" y="282.6" width="31.6" height="2.9" fill="#555"/><line x1="369.2" y1="305.9" x2="422.6" y2="305.9" stroke="#1a1a1a" stroke-width="0.9" /><line x1="369.2" y1="305.7" x2="369.2" y2="349.5" stroke="#1a1a1a" stroke-width="0.9" /><line x1="373" y1="309.3" x2="373" y2="349.5" stroke="#333" stroke-width="0.6" /><line x1="373" y1="309.3" x2="422.6" y2="309.3" stroke="#333" stroke-width="0.6" /><rect x="378" y="315.6" width="11" height="12.7" stroke="#444" stroke-width="0.8" fill="#fff" /><path d="M389,315.6 Q392.5,321.9 389,328.3" stroke="#555" stroke-width="1.2" fill="none" /><line x1="385.4" y1="309.3" x2="385.4" y2="335" stroke="#999" stroke-width="0.5" /><rect x="374" y="334.9" width="11.699999999999989" height="14.6" stroke="#333" stroke-width="0.8" fill="#fff" /><line x1="374" y1="334.9" x2="385.7" y2="349.5" stroke="#444" stroke-width="0.5" /><line x1="385.7" y1="334.9" x2="374" y2="349.5" stroke="#444" stroke-width="0.5" /><rect x="385.7" y="334.9" width="17.5" height="14.6" stroke="#333" stroke-width="0.8" fill="#fff" /><line x1="385.7" y1="334.9" x2="403.2" y2="349.5" stroke="#444" stroke-width="0.5" /><line x1="403.2" y1="334.9" x2="385.7" y2="349.5" stroke="#444" stroke-width="0.5" /><rect x="403.2" y="334.9" width="18.30000000000001" height="14.6" stroke="#333" stroke-width="0.8" fill="#fff" /><line x1="403.2" y1="334.9" x2="421.5" y2="349.5" stroke="#444" stroke-width="0.5" /><line x1="421.5" y1="334.9" x2="403.2" y2="349.5" stroke="#444" stroke-width="0.5" /><line x1="419.8" y1="281" x2="419.8" y2="298" stroke="#555" stroke-width="1.4" /><polyline points="417.8,294 419.8,298.5 421.8,294" stroke="#444" stroke-width="0.7" fill="none"/><line x1="422.6" y1="275.4" x2="422.6" y2="355.5" stroke="#1a1a1a" stroke-width="1.0" /><line x1="428.3" y1="275.4" x2="428.3" y2="328.4" stroke="#1a1a1a" stroke-width="0.8" /><line x1="419.3" y1="306" x2="419.3" y2="309.3" stroke="#1a1a1a" stroke-width="0.6" /><line x1="428" y1="275.4" x2="511.5" y2="275.4" stroke="#1a1a1a" stroke-width="0.9" /><rect x="428" y="276" width="20.600000000000023" height="9" stroke="#333" stroke-width="0.7" fill="#fff" /><line x1="428" y1="276" x2="448.6" y2="285" stroke="#444" stroke-width="0.5" /><line x1="448.6" y1="276" x2="428" y2="285" stroke="#444" stroke-width="0.5" /><rect x="489.5" y="276" width="20.5" height="9" stroke="#333" stroke-width="0.7" fill="#fff" /><line x1="489.5" y1="276" x2="510" y2="285" stroke="#444" stroke-width="0.5" /><line x1="510" y1="276" x2="489.5" y2="285" stroke="#444" stroke-width="0.5" /><rect x="450.7" y="276" width="36" height="9" stroke="#555" stroke-width="0.7" fill="#fff" rx="1"/><rect x="428.9" y="286.6" width="13.3" height="17.799999999999955" stroke="#333" stroke-width="0.8" fill="#fff" /><line x1="428.9" y1="286.6" x2="442.2" y2="304.4" stroke="#444" stroke-width="0.5" /><line x1="442.2" y1="286.6" x2="428.9" y2="304.4" stroke="#444" stroke-width="0.5" /><rect x="428.9" y="304.4" width="13.3" height="18.30000000000001" stroke="#333" stroke-width="0.8" fill="#fff" /><line x1="428.9" y1="304.4" x2="442.2" y2="322.7" stroke="#444" stroke-width="0.5" /><line x1="442.2" y1="304.4" x2="428.9" y2="322.7" stroke="#444" stroke-width="0.5" /><polyline points="442.6,322.3 472.3,322.3 472.3,317.4 481.2,317.4 481.2,322.5" stroke="#1a1a1a" stroke-width="1.0" fill="none"/><line x1="481.2" y1="317.4" x2="511" y2="317.4" stroke="#444" stroke-width="0.7" /><polyline points="428.3,328.4 476.4,328.4 476.4,322.5 511,322.5" stroke="#1a1a1a" stroke-width="1.1" fill="none"/><line x1="428.3" y1="328.4" x2="428.3" y2="355.5" stroke="#1a1a1a" stroke-width="1.0" /><line x1="428.3" y1="286.2" x2="511" y2="286.2" stroke="#444" stroke-width="0.7" /><g fill="#fff" stroke="#444" stroke-width="0.7"><path d="M492.5,339.5 Q489.5,346 494.5,352 Q500,351 505.5,347.5 Q504,342 502.5,339.5 Q498,339 492.5,339.5 Z"/><ellipse cx="492.8" cy="338.6" rx="1.9" ry="2.4" transform="rotate(-20 492.8 338.6)"/><ellipse cx="502.5" cy="337.4" rx="1.7" ry="2.6" transform="rotate(25 502.5 337.4)"/><circle cx="498.5" cy="343.2" r="2.3" stroke-width="1.1"/></g><path d="M496,328 L496,335 M499,329 L499,336 M494,331 L501,331" stroke="#ddd" stroke-width="0.6" fill="none"/><line x1="312" y1="131.3" x2="422" y2="131.3" stroke="#aaa" stroke-width="0.5" stroke-dasharray="3,2"/><line x1="359.8" y1="91" x2="359.8" y2="172" stroke="#aaa" stroke-width="0.5" stroke-dasharray="3,2"/><line x1="267" y1="226.7" x2="512" y2="226.7" stroke="#bbb" stroke-width="0.5" stroke-dasharray="3,2"/><line x1="344" y1="178" x2="344" y2="275" stroke="#bbb" stroke-width="0.5" stroke-dasharray="3,2"/><line x1="468.8" y1="178" x2="468.8" y2="275" stroke="#bbb" stroke-width="0.5" stroke-dasharray="3,2"/><line x1="550.6" y1="205" x2="550.6" y2="303" stroke="#aaa" stroke-width="0.5" stroke-dasharray="3,2"/><line x1="517" y1="253.6" x2="584" y2="253.6" stroke="#aaa" stroke-width="0.5" stroke-dasharray="3,2"/><line x1="268" y1="315.4" x2="422" y2="315.4" stroke="#bbb" stroke-width="0.5" stroke-dasharray="3,2"/><line x1="331" y1="282" x2="331" y2="349" stroke="#bbb" stroke-width="0.5" stroke-dasharray="3,2"/></svg></body></html>
